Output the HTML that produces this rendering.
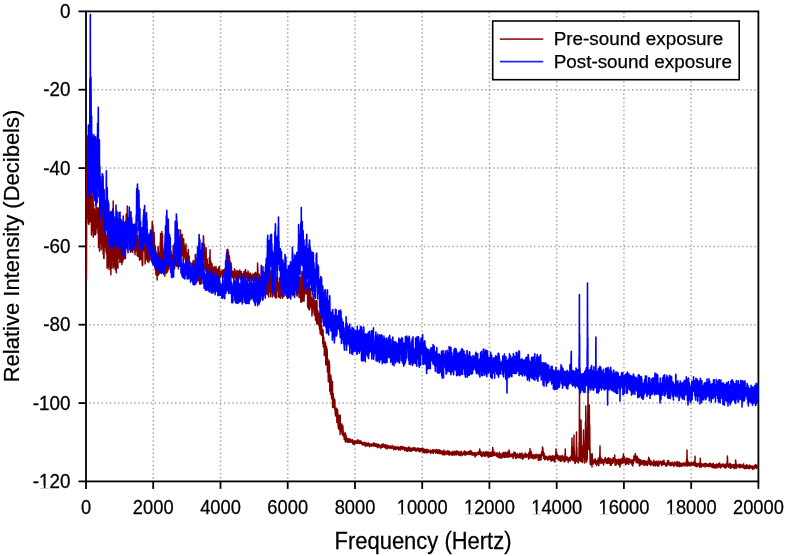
<!DOCTYPE html>
<html><head><meta charset="utf-8"><style>
html,body{margin:0;padding:0;background:#fff;}
svg{display:block;will-change:transform;}
text{font-family:"Liberation Sans",sans-serif;fill:#000;stroke:#000;stroke-width:0.25px;}
</style></head><body>
<svg width="785" height="556" viewBox="0 0 785 556">
<rect width="785" height="556" fill="#fff"/>
<g stroke="#a8a8a8" stroke-width="1.5" stroke-dasharray="1.5 2.58" stroke-dashoffset="0.75" fill="none">
<line x1="153.24" y1="481.4" x2="153.24" y2="11.4" stroke-dashoffset="1.2"/>
<line x1="220.48" y1="481.4" x2="220.48" y2="11.4" stroke-dashoffset="1.2"/>
<line x1="287.72" y1="481.4" x2="287.72" y2="11.4" stroke-dashoffset="1.2"/>
<line x1="354.96" y1="481.4" x2="354.96" y2="11.4" stroke-dashoffset="1.2"/>
<line x1="422.20" y1="481.4" x2="422.20" y2="11.4" stroke-dashoffset="1.2"/>
<line x1="489.44" y1="481.4" x2="489.44" y2="11.4" stroke-dashoffset="1.2"/>
<line x1="556.68" y1="481.4" x2="556.68" y2="11.4" stroke-dashoffset="1.2"/>
<line x1="623.92" y1="481.4" x2="623.92" y2="11.4" stroke-dashoffset="1.2"/>
<line x1="691.16" y1="481.4" x2="691.16" y2="11.4" stroke-dashoffset="1.2"/>
<line x1="86.0" y1="89.7" x2="758.4" y2="89.7"/>
<line x1="86.0" y1="168.1" x2="758.4" y2="168.1"/>
<line x1="86.0" y1="246.4" x2="758.4" y2="246.4"/>
<line x1="86.0" y1="324.7" x2="758.4" y2="324.7"/>
<line x1="86.0" y1="403.1" x2="758.4" y2="403.1"/>
</g>
<rect x="86.0" y="11.4" width="672.4" height="470.0" fill="none" stroke="#000" stroke-width="1.8"/>
<g stroke="#000" stroke-width="1.8">
<line x1="86.0" y1="481.4" x2="86.0" y2="488.9"/>
<line x1="153.2" y1="481.4" x2="153.2" y2="488.9"/>
<line x1="220.5" y1="481.4" x2="220.5" y2="488.9"/>
<line x1="287.7" y1="481.4" x2="287.7" y2="488.9"/>
<line x1="355.0" y1="481.4" x2="355.0" y2="488.9"/>
<line x1="422.2" y1="481.4" x2="422.2" y2="488.9"/>
<line x1="489.4" y1="481.4" x2="489.4" y2="488.9"/>
<line x1="556.7" y1="481.4" x2="556.7" y2="488.9"/>
<line x1="623.9" y1="481.4" x2="623.9" y2="488.9"/>
<line x1="691.2" y1="481.4" x2="691.2" y2="488.9"/>
<line x1="758.4" y1="481.4" x2="758.4" y2="488.9"/>
<line x1="78.5" y1="11.4" x2="86.0" y2="11.4"/>
<line x1="78.5" y1="89.7" x2="86.0" y2="89.7"/>
<line x1="78.5" y1="168.1" x2="86.0" y2="168.1"/>
<line x1="78.5" y1="246.4" x2="86.0" y2="246.4"/>
<line x1="78.5" y1="324.7" x2="86.0" y2="324.7"/>
<line x1="78.5" y1="403.1" x2="86.0" y2="403.1"/>
<line x1="78.5" y1="481.4" x2="86.0" y2="481.4"/>
</g>
<polyline fill="none" stroke="#800000" stroke-width="1.5" stroke-linejoin="round" points="86.40,280.8 86.58,246.7 86.76,166.2 86.94,165.2 87.12,195.4 87.30,218.6 87.40,136.0 87.66,161.0 87.84,172.6 88.02,183.9 88.20,209.1 88.38,223.3 88.56,206.4 88.74,218.3 88.92,224.6 89.10,212.4 89.28,187.4 89.46,207.0 89.64,207.1 89.82,221.9 90,165.6 90.18,161.7 90.40,157.0 90.54,158.7 90.72,220.8 90.90,196.6 91.08,194.3 91.26,185.2 91.44,235.1 91.62,203.1 91.80,230.9 91.98,223.9 92.16,225.4 92.34,203.2 92.52,196.6 92.70,224.5 92.88,228.5 93.06,193.1 93.24,237.3 93.42,229.7 93.60,204.2 93.78,234.3 93.96,232.4 94.14,218.5 94.32,226.8 94.50,208.9 94.68,232.2 94.86,234.8 95.04,217.6 95.22,221.4 95.40,218.3 95.58,234.7 95.76,224.5 95.94,232.9 96.12,200.6 96.30,229.3 96.48,218.4 96.66,220.6 96.84,209.8 97.02,212.3 97.20,224.1 97.38,220.0 97.56,224.2 97.74,207.8 97.92,233.2 98.10,230.3 98.28,210.0 98.46,240.5 98.64,247.5 98.82,241.7 99,234.5 99.18,208.1 99.36,229.3 99.54,251.2 99.72,224.5 99.90,204.2 100.08,214.0 100.26,219.1 100.44,221.0 100.62,243.2 100.80,220.7 100.98,241.4 101.16,213.6 101.34,249.8 101.52,246.5 101.70,219.7 101.88,196.6 102.06,233.8 102.24,218.8 102.50,173.9 102.60,239.7 102.78,239.6 102.96,228.4 103.14,253.9 103.32,208.3 103.50,240.4 103.68,258.2 103.86,238.1 104.04,258.6 104.22,236.9 104.40,237.4 104.58,235.4 104.76,231.2 104.94,247.0 105.12,228.5 105.30,243.3 105.48,236.4 105.66,236.5 105.84,235.3 106.02,251.8 106.20,236.4 106.38,237.1 106.56,253.9 106.74,243.5 106.92,235.7 107.10,268.2 107.28,245.6 107.46,232.5 107.64,241.5 107.82,243.4 108,237.9 108.18,231.7 108.36,266.7 108.54,248.3 108.72,241.3 108.90,256.5 109.08,269.4 109.26,239.6 109.44,264.5 109.62,245.7 109.80,261.5 109.98,249.9 110.16,240.6 110.34,238.1 110.52,240.2 110.70,266.0 110.88,274.8 111.06,245.2 111.24,268.1 111.42,265.9 111.60,240.4 111.78,251.0 111.96,253.7 112.14,260.2 112.32,234.5 112.50,244.4 112.68,210.0 112.86,208.5 113.04,268.2 113.20,201.0 113.40,248.8 113.58,260.1 113.76,227.9 113.94,266.7 114.12,255.6 114.30,228.5 114.48,240.5 114.66,259.6 114.84,238.9 115.02,252.8 115.20,269.5 115.38,240.3 115.56,255.9 115.74,242.7 115.92,250.0 116.10,262.7 116.28,272.8 116.46,231.2 116.64,267.5 116.82,256.5 117,242.4 117.18,266.6 117.36,241.5 117.54,228.2 117.72,243.1 117.90,268.2 118.08,239.6 118.26,246.5 118.44,235.4 118.62,257.9 118.80,246.9 118.98,243.4 119.16,243.0 119.34,250.5 119.52,255.9 119.70,238.4 119.88,262.4 120.06,239.7 120.24,261.9 120.42,240.4 120.60,256.5 120.78,253.3 120.96,241.4 121.14,259.7 121.32,258.8 121.50,245.0 121.68,260.3 121.86,264.4 122.04,239.7 122.22,256.9 122.40,249.8 122.58,231.6 122.76,261.7 122.94,235.2 123.12,251.6 123.30,234.9 123.48,246.5 123.66,255.6 123.84,258.8 124.02,259.1 124.20,231.1 124.38,255.5 124.56,248.4 124.74,237.3 124.92,248.4 125.10,244.8 125.28,253.2 125.46,258.4 125.64,231.8 125.82,230.6 126,233.2 126.18,214.2 126.36,243.8 126.54,246.6 126.72,226.7 126.90,213.6 127.08,233.5 127.30,206.0 127.44,218.8 127.62,223.7 127.80,237.6 127.98,221.2 128.16,237.3 128.34,218.1 128.52,231.1 128.70,235.3 128.88,233.7 129.06,223.6 129.24,243.0 129.42,219.4 129.60,230.8 129.78,243.9 129.96,243.4 130.14,232.7 130.32,242.2 130.50,252.2 130.68,250.4 130.86,236.7 131.04,246.8 131.22,234.9 131.40,235.5 131.58,251.1 131.76,241.0 131.94,233.9 132.12,241.2 132.30,236.1 132.48,233.7 132.66,252.5 132.84,248.2 133.02,243.8 133.20,233.5 133.38,242.8 133.56,244.2 133.74,249.1 133.92,242.7 134.10,238.5 134.28,241.8 134.46,240.4 134.64,233.6 134.82,246.2 135,254.8 135.18,250.2 135.36,245.7 135.54,251.6 135.72,240.2 135.90,248.6 136.08,248.9 136.26,247.7 136.44,236.4 136.62,235.0 136.80,235.6 136.98,227.4 137.16,255.5 137.34,246.0 137.52,237.2 137.70,244.7 137.88,235.7 138.06,256.4 138.24,251.8 138.42,251.3 138.60,249.4 138.78,239.9 138.96,255.9 139.14,245.1 139.32,254.0 139.50,259.9 139.68,244.6 139.86,259.0 140.04,259.3 140.22,250.1 140.40,237.7 140.58,259.6 140.76,236.8 140.94,254.8 141.12,244.7 141.30,243.1 141.48,250.6 141.66,252.5 141.84,245.1 142.02,259.1 142.20,263.4 142.38,265.8 142.56,251.4 142.74,265.1 142.92,242.1 143.10,241.8 143.28,247.8 143.46,250.0 143.64,250.7 143.82,242.1 144,248.4 144.18,244.6 144.36,248.5 144.54,250.5 144.72,247.7 144.90,245.3 145.08,263.9 145.26,254.2 145.44,257.0 145.62,260.4 145.80,260.6 145.98,255.2 146.16,240.8 146.34,259.0 146.52,242.2 146.70,255.4 146.88,243.1 147.06,242.6 147.24,243.8 147.42,257.0 147.60,250.2 147.78,261.7 147.96,241.5 148.14,260.8 148.32,252.4 148.50,259.0 148.68,244.8 148.86,262.2 149.04,250.7 149.22,248.1 149.40,249.4 149.58,259.7 149.76,248.2 149.94,260.1 150.12,244.0 150.30,247.8 150.48,234.7 150.66,233.4 150.84,254.9 151.02,236.8 151.20,236.9 151.38,242.7 151.56,230.5 151.74,242.4 151.92,234.8 152.10,227.0 152.20,221.5 152.28,222.8 152.46,226.9 152.64,248.3 152.82,252.2 153,226.1 153.18,245.7 153.36,253.3 153.54,235.1 153.72,238.0 153.90,251.0 154.08,232.3 154.26,238.5 154.44,254.0 154.62,244.8 154.80,262.1 154.98,252.2 155.16,268.2 155.34,246.0 155.52,270.4 155.70,253.2 155.88,274.8 156.06,252.9 156.24,263.8 156.42,263.6 156.60,255.9 156.78,265.7 156.96,255.1 157.14,279.9 157.32,256.6 157.50,258.4 157.68,258.7 157.86,267.7 158.04,246.5 158.22,248.3 158.40,275.1 158.58,270.1 158.76,269.2 158.94,273.9 159.12,252.3 159.30,270.0 159.48,257.9 159.66,262.6 159.84,273.3 160.02,270.2 160.20,242.5 160.38,255.4 160.56,233.6 160.74,255.3 160.92,249.3 161.10,264.3 161.28,262.7 161.50,233.5 161.64,257.4 161.82,231.5 162,241.4 162.18,237.4 162.36,260.2 162.54,233.9 162.72,253.5 162.90,251.1 163.08,256.5 163.26,254.1 163.44,259.9 163.62,258.0 163.80,267.0 163.98,266.1 164.16,263.8 164.34,273.5 164.52,248.3 164.70,268.1 164.88,276.3 165.06,254.3 165.24,268.9 165.42,256.5 165.60,271.6 165.78,257.7 165.96,255.7 166.14,269.9 166.32,273.3 166.50,265.2 166.68,270.6 166.86,254.9 167.04,258.2 167.22,252.5 167.40,269.5 167.58,271.9 167.76,261.5 167.94,253.8 168.12,255.4 168.30,255.0 168.48,265.6 168.66,269.6 168.84,255.9 169.02,260.4 169.20,266.4 169.38,256.7 169.56,258.5 169.74,261.1 169.92,255.2 170.10,257.5 170.28,255.7 170.46,256.1 170.64,270.8 170.82,265.9 171,251.4 171.18,255.5 171.36,260.6 171.54,268.5 171.72,255.8 171.90,266.6 172.08,260.1 172.26,255.0 172.44,260.2 172.62,262.6 172.80,266.8 172.98,262.4 173.16,245.6 173.34,265.8 173.52,260.9 173.70,266.0 173.88,266.8 174.06,250.8 174.24,268.8 174.42,264.7 174.60,268.9 174.78,250.3 174.96,266.0 175.14,265.8 175.32,260.5 175.50,256.9 175.68,251.8 175.86,249.6 176.04,261.4 176.22,264.7 176.40,247.5 176.58,266.3 176.76,256.9 176.94,254.5 177.12,263.6 177.30,254.5 177.48,266.1 177.66,248.8 177.84,248.9 178.02,252.2 178.20,252.8 178.38,269.0 178.56,258.8 178.74,260.6 178.92,248.4 179.10,260.4 179.28,247.3 179.46,256.5 179.64,246.3 179.82,242.0 180,254.5 180.18,251.5 180.36,255.8 180.50,230.0 180.72,254.0 180.90,238.0 181.08,236.3 181.26,257.2 181.44,236.9 181.62,242.2 181.80,238.5 181.98,247.2 182.16,234.2 182.34,255.3 182.52,246.7 182.70,247.2 182.88,253.4 183.06,252.5 183.24,260.3 183.42,248.2 183.60,238.8 183.78,243.8 183.96,243.5 184.14,247.3 184.32,254.9 184.50,252.0 184.68,251.9 184.86,258.2 185.04,246.2 185.22,259.7 185.40,260.0 185.58,253.7 185.76,265.5 185.94,244.0 186.12,251.2 186.30,270.2 186.48,269.8 186.66,258.1 186.84,264.4 187.02,253.0 187.20,257.4 187.38,265.7 187.56,265.9 187.74,268.2 187.92,273.2 188.10,267.6 188.28,249.6 188.46,275.2 188.64,270.9 188.82,275.7 189,259.3 189.18,255.9 189.36,272.4 189.54,267.2 189.72,273.2 189.90,273.9 190.08,262.2 190.26,268.4 190.44,269.4 190.62,274.8 190.80,278.0 190.98,270.1 191.16,273.3 191.34,277.0 191.52,273.2 191.70,278.8 191.88,273.6 192.06,263.2 192.24,268.5 192.42,275.8 192.60,269.5 192.78,279.1 192.96,275.7 193.14,260.6 193.32,272.3 193.50,280.7 193.68,266.2 193.86,261.2 194.04,269.3 194.22,273.6 194.40,277.6 194.58,283.2 194.76,267.3 194.94,274.2 195.12,276.8 195.30,254.4 195.48,281.6 195.66,264.8 195.84,262.5 196.02,262.5 196.20,278.1 196.38,267.9 196.56,270.3 196.74,282.2 196.92,279.8 197.10,275.5 197.28,257.1 197.46,261.5 197.64,280.2 197.82,270.2 198,263.4 198.18,273.9 198.36,280.2 198.54,264.0 198.72,272.8 198.90,273.2 199.08,278.2 199.26,282.1 199.44,265.0 199.62,282.5 199.80,284.2 199.98,276.9 200.16,284.3 200.34,271.0 200.52,275.0 200.70,264.5 200.88,263.9 201.06,281.1 201.24,283.8 201.42,258.2 201.60,273.8 201.78,257.9 201.96,270.5 202.14,261.8 202.32,263.5 202.50,264.4 202.68,243.1 202.86,251.1 203.04,250.1 203.22,247.6 203.40,235.8 203.60,238.4 203.76,253.3 203.94,259.8 204.12,248.1 204.30,267.8 204.48,244.6 204.66,269.1 204.84,266.5 205.02,261.1 205.20,271.3 205.38,263.6 205.56,256.3 205.74,253.2 205.92,270.5 206.10,247.7 206.28,258.7 206.46,262.7 206.64,266.7 206.82,266.5 207,279.0 207.18,258.9 207.36,269.7 207.54,278.6 207.72,275.8 207.90,266.3 208.08,264.8 208.26,272.0 208.44,271.3 208.62,268.4 208.80,268.1 208.98,278.8 209.16,266.8 209.34,257.6 209.52,261.2 209.70,258.4 209.88,260.9 210,249.8 210.24,266.1 210.42,268.1 210.60,273.7 210.78,261.1 210.96,268.2 211.14,266.3 211.32,275.2 211.50,267.5 211.68,273.4 211.86,266.4 212.04,263.8 212.22,270.7 212.40,272.5 212.58,274.5 212.76,275.3 212.94,268.6 213.12,268.8 213.30,278.0 213.48,267.9 213.66,274.9 213.84,271.5 214.02,272.4 214.20,266.5 214.38,273.4 214.56,270.2 214.74,267.8 214.92,273.5 215.10,268.4 215.28,271.8 215.46,272.4 215.64,275.1 215.82,275.9 216,266.5 216.18,274.8 216.36,272.2 216.54,272.5 216.72,269.0 216.90,273.4 217.08,274.6 217.26,270.3 217.44,270.7 217.62,276.0 217.80,277.8 217.98,269.9 218.16,273.4 218.34,268.6 218.52,274.6 218.70,277.9 218.88,267.1 219.06,274.6 219.24,270.2 219.42,266.5 219.60,277.9 219.78,275.5 219.96,270.9 220.14,277.4 220.32,275.1 220.50,273.7 220.68,272.2 220.86,272.4 221.04,272.0 221.22,274.0 221.40,274.7 221.58,271.4 221.76,271.9 221.94,274.8 222.12,270.1 222.30,277.4 222.48,275.3 222.66,276.1 222.84,271.3 223.02,270.8 223.20,270.5 223.38,276.4 223.56,275.0 223.74,269.7 223.92,276.9 224.10,275.9 224.28,277.9 224.46,273.3 224.64,271.1 224.82,270.8 225,268.7 225.18,272.3 225.36,269.4 225.54,272.5 225.72,267.2 225.90,268.0 226.08,270.4 226.26,261.3 226.44,253.9 226.62,263.4 226.80,261.7 226.98,252.6 227.16,255.9 227.34,255.6 227.52,251.4 227.70,250.9 227.80,249.2 228.06,255.9 228.24,255.7 228.42,251.8 228.60,264.6 228.78,262.4 228.96,257.1 229.14,255.9 229.32,255.7 229.50,257.7 229.68,260.7 229.86,261.1 230.04,269.0 230.22,268.1 230.40,263.2 230.58,262.2 230.76,266.8 230.94,264.3 231.12,263.3 231.30,269.2 231.48,266.5 231.66,275.0 231.84,272.3 232.02,277.5 232.20,271.1 232.38,276.0 232.56,276.8 232.74,277.7 232.92,272.3 233.10,272.0 233.28,273.7 233.46,277.3 233.64,271.4 233.82,279.1 234,272.5 234.18,277.6 234.36,277.9 234.54,268.8 234.72,271.4 234.90,273.1 235.08,270.5 235.26,275.2 235.44,272.7 235.62,274.3 235.80,274.0 235.98,279.3 236.16,275.0 236.34,278.8 236.52,278.2 236.70,279.0 236.88,270.5 237.06,279.4 237.24,274.7 237.42,275.1 237.60,278.0 237.78,274.3 237.96,271.1 238.14,274.4 238.32,276.7 238.50,277.1 238.68,280.1 238.86,272.1 239.04,273.8 239.22,272.0 239.40,276.7 239.58,276.1 239.76,270.0 239.94,274.7 240.12,276.7 240.30,277.0 240.48,279.0 240.66,272.7 240.84,275.8 241.02,277.3 241.20,271.6 241.38,280.2 241.56,277.5 241.74,274.2 241.92,274.9 242.10,278.8 242.28,273.7 242.46,276.7 242.64,274.5 242.82,278.6 243,276.9 243.18,276.9 243.36,277.3 243.54,273.2 243.72,278.7 243.90,272.1 244.08,271.2 244.26,271.3 244.44,275.8 244.62,281.2 244.80,280.3 244.98,273.3 245.16,280.4 245.34,276.9 245.60,269.6 245.70,280.2 245.88,279.0 246.06,272.2 246.24,274.4 246.42,272.8 246.60,273.2 246.78,277.5 246.96,274.7 247.14,274.4 247.32,273.5 247.50,276.0 247.68,281.0 247.86,281.2 248.04,271.1 248.22,281.2 248.40,273.0 248.58,279.1 248.76,281.1 248.94,273.5 249.12,278.5 249.30,277.4 249.48,277.1 249.66,275.1 249.84,279.1 250.02,275.9 250.20,275.3 250.38,272.9 250.56,275.4 250.74,275.8 250.92,275.8 251.10,276.0 251.28,278.3 251.46,275.2 251.64,279.8 251.82,280.0 252,278.5 252.18,280.3 252.36,279.8 252.54,279.4 252.72,274.1 252.90,276.8 253.08,279.9 253.26,280.7 253.44,281.2 253.62,276.5 253.80,281.7 253.98,276.4 254.16,275.7 254.34,273.8 254.52,274.9 254.70,274.2 254.88,279.5 255.06,281.4 255.24,272.4 255.42,281.0 255.60,272.5 255.78,280.4 255.96,273.2 256.14,275.1 256.32,275.9 256.50,281.5 256.68,279.7 256.86,275.3 257.04,279.0 257.22,280.3 257.40,275.5 257.58,263.0 257.70,265.8 257.94,272.0 258.12,273.7 258.30,274.5 258.48,281.6 258.66,280.9 258.84,277.9 259.02,277.2 259.20,274.3 259.38,280.4 259.56,278.1 259.74,275.9 259.92,284.3 260.10,276.5 260.28,278.9 260.46,287.4 260.64,280.9 260.82,288.1 261,288.5 261.18,292.7 261.36,287.6 261.54,288.6 261.72,277.5 261.90,296.1 262.08,277.0 262.26,289.6 262.44,285.9 262.62,288.5 262.80,276.2 262.98,266.5 263.16,278.4 263.34,282.2 263.52,276.5 263.70,285.4 263.88,272.1 264.06,272.6 264.24,274.5 264.42,284.1 264.60,287.8 264.78,278.9 264.96,272.6 265.14,281.6 265.32,294.7 265.50,285.8 265.68,274.0 265.86,266.1 266.04,293.9 266.22,272.6 266.40,276.9 266.58,285.3 266.76,265.9 266.94,274.5 267.12,279.9 267.30,272.5 267.48,285.2 267.66,294.5 267.84,283.1 268.02,279.7 268.20,293.2 268.38,272.8 268.56,295.0 268.74,297.1 268.92,266.6 269.10,288.2 269.28,285.1 269.46,288.4 269.64,285.4 269.82,288.7 270,291.9 270.18,272.5 270.36,278.1 270.54,286.3 270.72,296.8 270.90,289.3 271,270.6 271.26,292.3 271.44,284.0 271.62,287.4 271.80,279.8 271.98,285.5 272.16,288.6 272.34,283.8 272.52,297.0 272.70,292.8 272.88,285.9 273.06,275.4 273.24,278.1 273.42,289.9 273.60,281.3 273.78,284.4 273.96,275.4 274.14,269.6 274.32,292.2 274.50,279.8 274.68,296.4 274.86,296.2 275.04,268.3 275.22,280.3 275.40,291.9 275.58,276.2 275.76,297.9 275.94,288.1 276.12,278.7 276.30,298.0 276.48,295.7 276.66,297.2 276.84,283.5 277.02,278.8 277.20,290.2 277.38,276.8 277.56,284.3 277.74,285.8 277.92,284.3 278.10,291.1 278.28,290.1 278.46,283.0 278.64,297.0 278.82,285.3 279,294.4 279.18,297.3 279.36,293.4 279.54,277.8 279.72,292.5 279.90,293.0 280.08,286.3 280.26,283.2 280.44,298.2 280.62,291.2 280.80,271.8 280.98,285.2 281.16,291.1 281.34,295.5 281.52,278.5 281.70,277.8 281.88,295.0 282.06,286.4 282.24,288.8 282.42,298.3 282.60,278.3 282.78,289.2 282.96,277.3 283.14,281.5 283.32,293.0 283.50,288.5 283.68,296.7 283.86,280.8 284.04,288.4 284.22,293.3 284.40,292.7 284.58,276.8 284.76,274.2 284.94,290.3 285.12,287.3 285.30,281.2 285.48,290.7 285.66,280.7 285.84,292.8 286.02,281.6 286.20,295.3 286.38,282.6 286.56,282.2 286.74,295.3 286.92,297.5 287.10,291.4 287.28,290.4 287.46,290.7 287.64,281.2 287.82,283.8 288,278.4 288.18,287.8 288.36,285.4 288.54,279.1 288.72,294.4 288.90,296.8 289.08,297.5 289.26,283.4 289.44,273.6 289.62,284.7 289.80,285.0 289.98,297.1 290.16,295.2 290.34,286.8 290.52,292.4 290.70,290.7 290.88,286.1 291.06,285.8 291.24,281.9 291.42,283.7 291.60,279.7 291.78,276.5 291.96,290.3 292.14,287.8 292.32,287.0 292.50,290.5 292.68,294.4 292.86,295.8 293.04,295.4 293.22,294.9 293.40,289.1 293.58,277.7 293.76,280.7 293.94,273.3 294.12,282.6 294.30,287.1 294.48,279.1 294.66,284.3 294.84,280.9 295.02,288.3 295.20,289.9 295.38,290.1 295.56,276.7 295.74,279.7 295.92,284.7 296.10,294.4 296.28,292.9 296.46,290.2 296.64,283.9 296.82,290.3 297,293.6 297.18,276.5 297.36,282.5 297.54,293.5 297.72,278.3 297.90,284.9 298.08,287.9 298.26,276.5 298.44,276.5 298.62,281.6 298.80,282.0 298.98,294.4 299.16,297.6 299.34,290.2 299.52,297.5 299.70,282.1 299.88,282.1 300,276.3 300.24,278.7 300.42,278.0 300.60,288.9 300.78,302.0 300.96,283.9 301.14,302.2 301.32,301.7 301.50,300.3 301.68,295.7 301.86,271.4 302.04,301.7 302.22,287.1 302.40,281.0 302.58,288.5 302.76,300.3 302.94,272.1 303.12,280.6 303.30,289.8 303.48,279.7 303.66,294.6 303.84,301.1 304.02,301.3 304.20,296.6 304.38,291.2 304.56,284.2 304.74,292.1 304.92,287.6 305.10,285.4 305.28,279.5 305.46,289.4 305.64,281.4 305.82,284.8 306,294.2 306.18,293.3 306.36,283.3 306.54,291.7 306.72,282.9 306.90,289.8 307.08,287.4 307.26,286.3 307.44,282.1 307.62,306.6 307.80,288.2 307.98,294.0 308.16,308.2 308.34,287.2 308.52,299.8 308.70,286.0 308.88,308.4 309.06,307.2 309.24,309.9 309.42,292.4 309.60,306.9 309.78,309.4 309.96,300.4 310.14,288.7 310.32,307.2 310.50,293.8 310.68,288.8 310.86,300.6 311.04,301.5 311.22,297.2 311.40,302.7 311.58,300.0 311.76,298.3 311.94,316.1 312.12,308.1 312.30,312.6 312.48,308.0 312.66,303.3 312.84,301.8 313.02,299.8 313.20,294.1 313.38,294.9 313.56,303.0 313.74,307.5 313.92,298.5 314.10,314.2 314.28,309.7 314.46,300.8 314.64,302.6 314.82,315.7 315,301.5 315.18,314.6 315.36,303.9 315.54,320.3 315.72,305.7 315.90,300.4 316.08,303.0 316.26,320.4 316.44,308.3 316.62,321.3 316.80,324.1 316.98,300.9 317.16,312.2 317.34,319.8 317.52,311.3 317.70,320.8 317.88,310.7 318.06,311.5 318.24,321.4 318.42,324.7 318.60,314.4 318.78,318.7 318.96,325.6 319.14,313.3 319.32,324.0 319.50,329.2 319.68,318.7 319.86,320.4 320.04,329.1 320.22,333.8 320.40,320.4 320.58,330.0 320.76,314.5 320.94,323.4 321.12,327.3 321.30,331.2 321.48,335.4 321.66,325.6 321.84,331.3 322.02,332.0 322.20,332.8 322.38,331.7 322.56,329.6 322.74,343.6 322.92,330.2 323.10,330.1 323.28,346.9 323.46,338.4 323.64,341.2 323.82,337.3 324,346.3 324.18,342.8 324.36,355.8 324.54,351.7 324.72,354.3 324.90,345.6 325.08,341.7 325.26,352.7 325.44,348.1 325.62,343.6 325.80,364.9 325.98,362.0 326.16,349.5 326.34,348.3 326.52,346.5 326.70,357.6 326.88,355.6 327.06,348.9 327.24,353.0 327.42,371.7 327.60,371.6 327.78,372.2 327.96,359.0 328.14,369.3 328.32,381.8 328.50,379.6 328.68,375.8 328.86,370.7 329.04,367.0 329.22,360.9 329.40,376.1 329.58,363.9 329.76,391.0 329.94,380.8 330.12,378.7 330.25,375.3 330.37,387.2 330.50,384.0 330.62,394.6 330.75,380.9 330.87,375.3 331,384.1 331.12,379.4 331.25,384.5 331.37,378.9 331.50,387.4 331.62,398.7 331.75,389.0 331.87,391.1 332,385.2 332.12,395.7 332.25,392.3 332.37,381.7 332.50,381.6 332.62,407.5 332.75,393.6 332.87,397.2 333,394.9 333.12,407.0 333.25,393.6 333.37,399.4 333.50,400.9 333.62,399.4 333.75,397.5 333.87,400.6 334,407.6 334.12,399.8 334.25,401.3 334.37,403.2 334.50,408.7 334.62,407.2 334.75,407.4 334.87,399.8 335,410.6 335.12,407.2 335.25,413.1 335.37,414.8 335.50,410.0 335.62,416.0 335.75,409.7 335.87,416.0 336,415.0 336.12,408.6 336.25,410.1 336.37,412.4 336.50,410.8 336.62,410.0 336.75,408.3 336.87,422.5 337,415.2 337.12,409.8 337.25,409.4 337.37,417.4 337.50,419.4 337.62,410.0 337.75,417.4 337.87,412.9 338,418.6 338.12,423.9 338.25,428.1 338.37,422.3 338.50,419.0 338.62,415.5 338.75,420.7 338.87,420.2 339,429.6 339.12,423.9 339.25,417.1 339.37,421.6 339.50,419.6 339.62,423.2 339.75,416.6 339.87,422.3 340,415.2 340.12,434.4 340.25,415.2 340.37,431.2 340.50,430.4 340.62,431.2 340.75,423.6 340.87,428.4 341,425.1 341.12,427.3 341.25,428.2 341.37,427.0 341.50,427.1 341.62,426.7 341.75,430.2 341.87,424.1 342,434.1 342.12,425.5 342.25,427.3 342.37,430.1 342.50,433.3 342.62,428.3 342.75,435.4 342.87,425.8 343,428.6 343.12,433.4 343.25,434.9 343.37,435.8 343.50,432.3 343.62,431.7 343.75,433.5 343.87,433.0 344,437.5 344.12,437.1 344.25,439.4 344.37,437.7 344.50,436.9 344.62,436.2 344.75,436.4 344.87,434.8 345,436.8 345.12,438.1 345.25,433.1 345.37,442.0 345.50,433.6 345.62,434.9 345.75,441.7 345.87,437.3 346,440.2 346.12,438.2 346.25,435.9 346.37,437.6 346.50,438.0 346.62,439.0 346.75,441.4 346.87,439.6 347,440.1 347.12,439.1 347.25,439.6 347.37,442.3 347.50,442.0 347.62,439.9 347.75,441.7 347.87,438.4 348,439.0 348.12,440.1 348.25,441.1 348.37,439.5 348.50,440.7 348.62,438.8 348.75,442.3 348.87,442.0 349,441.3 349.12,440.4 349.25,440.0 349.37,440.4 349.50,439.1 349.62,442.0 349.75,442.1 349.87,440.6 350,439.1 350.12,442.3 350.25,440.2 350.37,440.6 350.50,442.0 350.62,441.5 350.75,442.1 350.87,440.1 351,441.5 351.12,440.8 351.25,441.1 351.37,440.2 351.50,441.4 351.62,441.7 351.75,440.8 351.87,440.9 352,442.4 352.12,442.1 352.25,439.6 352.37,440.6 352.50,441.9 352.62,441.7 352.75,442.5 352.87,441.1 353,444.1 353.12,443.0 353.25,442.7 353.37,443.2 353.50,442.4 353.62,441.6 353.75,441.3 353.87,442.2 354,440.5 354.12,441.4 354.25,444.4 354.37,441.5 354.50,443.7 354.62,442.0 354.75,441.5 354.87,442.3 355,442.0 355.12,442.2 355.25,442.3 355.37,442.5 355.50,441.7 355.62,442.3 355.75,440.9 355.87,442.0 356,443.3 356.12,442.1 356.25,443.4 356.37,443.5 356.50,440.9 356.62,442.7 356.75,442.8 356.87,442.9 357,442.4 357.12,440.2 357.25,442.8 357.37,442.5 357.50,441.3 357.62,441.7 357.75,443.3 357.87,441.5 358,439.8 358.12,440.1 358.25,442.9 358.37,441.5 358.50,441.3 358.62,441.8 358.75,442.1 358.87,441.9 359,441.4 359.12,442.7 359.25,443.4 359.37,442.1 359.50,441.0 359.62,443.0 359.75,441.0 359.87,443.3 360,441.4 360.12,443.4 360.25,443.4 360.37,442.8 360.50,443.2 360.62,442.7 360.75,441.1 360.87,442.3 361,443.0 361.12,441.0 361.25,442.4 361.37,443.4 361.50,443.4 361.62,443.5 361.75,442.6 361.87,442.8 362,444.5 362.12,443.4 362.25,443.0 362.37,442.6 362.50,444.0 362.62,443.3 362.75,442.7 362.87,442.6 363,445.1 363.12,443.1 363.25,443.9 363.37,444.3 363.50,442.8 363.62,444.5 363.75,444.1 363.87,443.3 364,443.3 364.12,444.4 364.25,444.1 364.37,444.0 364.50,444.8 364.62,443.1 364.75,445.1 364.87,442.2 365,445.1 365.12,444.4 365.25,444.0 365.37,443.8 365.50,446.4 365.62,443.4 365.75,443.6 365.87,445.5 366,443.5 366.12,445.0 366.25,443.8 366.37,443.3 366.50,444.0 366.62,443.0 366.75,444.6 366.87,443.6 367,444.1 367.12,444.5 367.25,444.0 367.37,445.9 367.50,443.5 367.62,445.6 367.75,444.9 367.87,443.7 368,444.7 368.12,443.8 368.25,444.6 368.37,444.9 368.50,442.9 368.62,443.6 368.75,444.4 368.87,444.7 369,445.4 369.12,446.2 369.25,445.3 369.37,445.1 369.50,443.8 369.62,446.8 369.75,445.6 369.87,444.8 370,445.5 370.12,444.7 370.25,445.3 370.37,444.4 370.50,445.0 370.62,444.2 370.75,444.2 370.87,445.8 371,444.0 371.12,444.9 371.25,445.9 371.37,444.9 371.50,446.2 371.62,444.5 371.75,445.4 371.87,444.6 372,444.6 372.12,445.5 372.25,444.2 372.37,443.9 372.50,444.1 372.62,445.2 372.75,444.4 372.87,445.0 373,446.0 373.12,443.8 373.25,443.9 373.37,444.6 373.50,446.0 373.62,443.1 373.75,444.2 373.87,444.4 374,444.9 374.12,443.7 374.25,444.6 374.37,444.0 374.50,444.9 374.62,445.1 374.75,443.3 374.87,444.0 375,446.2 375.12,444.3 375.25,444.4 375.37,445.4 375.50,445.4 375.62,444.3 375.75,446.2 375.87,445.4 376,443.9 376.12,444.8 376.25,445.2 376.37,445.1 376.50,445.1 376.62,443.9 376.75,444.3 376.87,446.5 377,445.6 377.12,446.3 377.25,445.1 377.37,447.7 377.50,447.4 377.62,446.3 377.75,445.3 377.87,444.2 378,447.0 378.12,445.7 378.25,444.2 378.37,446.0 378.50,446.4 378.62,445.4 378.75,447.0 378.87,445.8 379,446.3 379.12,445.3 379.25,446.8 379.37,445.5 379.50,446.6 379.62,445.8 379.75,444.7 379.87,446.6 380,445.4 380.12,445.8 380.25,447.1 380.37,447.8 380.50,448.2 380.62,447.5 380.75,448.0 380.87,447.8 381,446.4 381.12,446.6 381.25,446.3 381.37,446.1 381.50,445.7 381.62,446.8 381.75,444.5 381.87,445.1 382,446.1 382.12,446.4 382.25,446.8 382.37,447.2 382.50,447.2 382.62,447.1 382.75,446.3 382.87,445.3 383,445.4 383.12,443.8 383.25,446.5 383.37,445.4 383.50,445.0 383.62,446.2 383.75,446.7 383.87,446.4 384,445.9 384.12,446.4 384.25,446.3 384.37,445.0 384.50,446.2 384.62,446.2 384.75,447.3 384.87,444.7 385,445.7 385.12,447.1 385.25,446.8 385.37,448.1 385.50,448.0 385.62,444.5 385.75,445.1 385.87,447.7 386,446.2 386.12,445.6 386.25,445.6 386.37,446.3 386.50,446.4 386.62,448.6 386.75,445.8 386.87,445.7 387,445.9 387.12,448.9 387.25,447.1 387.37,445.3 387.50,445.7 387.62,446.3 387.75,446.1 387.87,445.8 388,446.3 388.12,447.1 388.25,446.2 388.37,446.9 388.50,447.4 388.62,447.5 388.75,446.0 388.87,447.7 389,447.1 389.12,448.5 389.25,447.9 389.37,447.0 389.50,446.2 389.62,446.8 389.75,447.2 389.87,447.3 390,446.8 390.12,447.6 390.25,446.3 390.37,447.0 390.50,446.0 390.62,446.0 390.75,446.8 390.87,448.3 391,446.8 391.12,447.9 391.25,447.9 391.37,447.5 391.50,446.2 391.62,446.6 391.75,448.4 391.87,447.4 392,447.3 392.12,447.3 392.25,447.1 392.37,447.0 392.50,445.5 392.62,447.4 392.75,447.4 392.87,446.8 393,446.7 393.12,447.2 393.25,448.3 393.37,447.6 393.50,447.9 393.62,448.5 393.75,449.7 393.87,447.4 394,447.6 394.12,447.6 394.25,448.1 394.37,448.4 394.50,447.7 394.62,448.5 394.75,446.2 394.87,447.0 395,448.6 395.12,448.1 395.25,447.0 395.37,449.6 395.50,447.9 395.62,449.3 395.75,447.5 395.87,447.8 396,447.8 396.12,448.3 396.25,447.7 396.37,448.3 396.50,448.4 396.62,449.1 396.75,447.9 396.87,447.0 397,446.6 397.12,448.4 397.25,447.2 397.37,448.1 397.50,448.1 397.62,448.2 397.75,447.9 397.87,447.4 398,449.2 398.12,449.0 398.25,448.5 398.37,447.7 398.50,448.3 398.62,447.1 398.75,448.7 398.87,450.1 399,449.0 399.12,448.4 399.25,448.7 399.37,448.8 399.50,447.9 399.62,449.2 399.75,448.2 399.87,449.1 400,447.7 400.12,448.9 400.25,448.4 400.37,446.6 400.50,447.1 400.62,448.2 400.75,450.0 400.87,447.7 401,448.2 401.12,447.1 401.25,448.1 401.37,447.9 401.50,447.9 401.62,447.7 401.75,447.7 401.87,446.7 402,446.5 402.12,448.9 402.25,448.0 402.37,447.5 402.50,446.9 402.62,448.1 402.75,448.8 402.87,449.2 403,448.6 403.12,448.9 403.25,448.3 403.37,447.1 403.50,446.9 403.62,448.8 403.75,448.2 403.87,447.8 404,447.2 404.12,449.0 404.25,448.9 404.37,448.3 404.50,449.3 404.62,450.6 404.75,447.8 404.87,450.2 405,448.0 405.12,449.9 405.25,449.2 405.37,448.0 405.50,448.9 405.62,449.2 405.75,449.5 405.87,448.0 406,448.7 406.12,449.8 406.25,450.7 406.37,451.0 406.50,447.8 406.62,448.9 406.75,449.3 406.87,448.8 407,449.0 407.12,448.4 407.25,448.3 407.37,448.9 407.50,451.2 407.62,449.2 407.75,448.9 407.87,449.8 408,450.5 408.12,448.2 408.25,448.4 408.37,450.6 408.50,447.0 408.62,449.2 408.75,448.8 408.87,448.1 409,448.2 409.12,450.0 409.25,450.9 409.37,450.7 409.50,448.4 409.62,449.7 409.75,450.3 409.87,448.6 410,447.6 410.12,449.5 410.25,450.6 410.37,449.8 410.50,450.5 410.62,450.8 410.75,449.5 410.87,449.7 411,451.4 411.12,450.4 411.25,448.6 411.37,451.0 411.50,448.4 411.62,449.8 411.75,449.1 411.87,448.9 412,448.6 412.12,450.0 412.25,449.9 412.37,449.8 412.50,450.6 412.62,450.4 412.75,449.5 412.87,447.9 413,448.4 413.12,448.7 413.25,448.6 413.37,447.5 413.50,450.1 413.62,448.6 413.75,449.3 413.87,448.8 414,448.7 414.12,449.8 414.25,448.5 414.37,450.1 414.50,449.6 414.62,449.3 414.75,448.9 414.87,449.4 415,450.6 415.12,447.8 415.25,448.4 415.37,450.7 415.50,450.0 415.62,449.2 415.75,450.4 415.87,449.6 416,450.1 416.12,451.2 416.25,449.1 416.37,450.8 416.50,449.9 416.62,449.0 416.75,450.2 416.87,448.5 417,450.1 417.12,448.6 417.25,449.9 417.37,449.9 417.50,449.7 417.62,449.3 417.75,449.2 417.87,448.1 418,450.7 418.12,450.4 418.25,449.9 418.37,450.1 418.50,450.3 418.62,448.5 418.75,449.9 418.87,448.7 419,450.1 419.12,451.2 419.25,449.5 419.37,449.8 419.50,450.8 419.62,451.8 419.75,448.6 419.87,448.5 420,450.8 420.12,449.2 420.25,449.1 420.37,450.3 420.50,451.6 420.62,450.0 420.75,450.9 420.87,448.6 421,450.8 421.12,449.6 421.25,450.4 421.37,449.7 421.50,449.3 421.62,449.9 421.75,449.6 421.87,448.4 422,448.6 422.12,448.7 422.25,450.0 422.37,451.2 422.50,451.5 422.62,448.0 422.75,450.6 422.87,452.3 423,451.7 423.12,449.7 423.25,452.3 423.37,451.0 423.50,448.9 423.62,450.2 423.75,449.7 423.87,449.2 424,450.0 424.12,450.9 424.25,450.2 424.37,452.8 424.50,451.7 424.62,451.4 424.75,449.8 424.87,449.4 425,452.6 425.12,449.2 425.25,451.0 425.37,450.0 425.50,451.9 425.62,451.9 425.75,452.3 425.87,450.4 426,452.4 426.12,450.6 426.25,449.8 426.37,450.2 426.50,450.2 426.62,452.9 426.75,450.3 426.87,449.3 427,450.4 427.12,450.4 427.25,451.7 427.37,451.0 427.50,451.6 427.62,450.1 427.75,452.5 427.87,452.5 428,449.7 428.12,449.8 428.25,450.0 428.37,450.8 428.50,450.5 428.62,451.5 428.75,452.1 428.87,450.7 429,451.5 429.12,451.1 429.25,451.3 429.37,451.7 429.50,451.6 429.62,452.2 429.75,450.7 429.87,451.1 430,450.7 430.12,450.7 430.25,450.4 430.37,451.6 430.50,451.7 430.62,450.3 430.75,453.5 430.87,452.5 431,450.5 431.12,451.4 431.25,451.7 431.37,450.9 431.50,451.2 431.62,450.8 431.75,451.7 431.87,452.3 432,450.7 432.12,452.5 432.25,450.2 432.37,452.2 432.50,450.7 432.62,449.7 432.75,451.2 432.87,450.7 433,451.6 433.12,452.3 433.25,453.4 433.37,451.5 433.50,451.8 433.62,451.1 433.75,451.8 433.87,449.7 434,451.7 434.12,450.7 434.25,451.4 434.37,450.9 434.50,451.4 434.62,451.8 434.75,450.8 434.87,451.0 435,450.8 435.12,451.0 435.25,450.0 435.37,450.7 435.50,451.4 435.62,453.2 435.75,452.4 435.87,451.4 436,451.5 436.12,452.4 436.25,451.9 436.37,451.4 436.50,450.8 436.62,449.6 436.75,452.3 436.87,452.3 437,451.5 437.12,451.4 437.25,452.9 437.37,449.9 437.50,451.3 437.62,451.6 437.75,451.6 437.87,453.4 438,451.3 438.12,452.4 438.25,450.7 438.37,452.4 438.50,452.6 438.62,451.8 438.75,452.4 438.87,453.3 439,449.7 439.12,453.2 439.25,452.1 439.37,450.6 439.50,453.0 439.62,450.3 439.75,449.9 439.87,450.0 440,453.7 440.12,451.9 440.25,453.6 440.37,452.4 440.50,453.6 440.62,452.5 440.75,451.5 440.87,452.2 441,450.7 441.12,450.7 441.25,452.4 441.37,451.9 441.50,451.9 441.62,451.9 441.75,451.6 441.87,452.6 442,452.5 442.12,454.1 442.25,452.4 442.37,452.3 442.50,454.7 442.62,451.6 442.75,453.2 442.87,451.4 443,453.6 443.12,454.8 443.25,453.7 443.37,451.9 443.50,450.9 443.62,450.2 443.75,452.3 443.87,452.2 444,453.0 444.12,453.9 444.25,452.7 444.37,453.8 444.50,451.8 444.62,454.1 444.75,454.9 444.87,453.1 445,451.0 445.12,452.8 445.25,452.3 445.37,452.6 445.50,451.8 445.62,453.7 445.75,453.1 445.87,453.6 446,453.2 446.12,453.0 446.25,453.1 446.37,452.4 446.50,452.8 446.62,452.1 446.75,454.5 446.87,452.9 447,452.6 447.12,451.2 447.25,450.8 447.37,451.9 447.50,453.1 447.62,452.9 447.75,452.9 447.87,453.6 448,454.1 448.12,452.9 448.25,453.3 448.37,453.8 448.50,452.9 448.62,453.0 448.75,450.9 448.87,455.1 449,452.5 449.12,453.4 449.25,454.7 449.37,454.1 449.50,455.1 449.62,454.9 449.75,451.6 449.87,453.1 450,452.4 450.12,453.5 450.25,453.7 450.37,453.0 450.50,452.8 450.62,453.5 450.75,452.7 450.87,453.4 451,454.3 451.12,452.9 451.25,454.2 451.37,453.0 451.50,455.0 451.62,452.3 451.75,454.5 451.87,452.2 452,452.6 452.12,453.0 452.25,455.1 452.37,451.5 452.50,454.4 452.62,453.7 452.75,453.1 452.87,451.6 453,452.6 453.12,455.1 453.25,452.4 453.37,454.0 453.50,452.5 453.62,453.6 453.75,451.9 453.87,453.7 454,453.8 454.12,452.7 454.25,452.5 454.37,453.7 454.50,452.0 454.62,454.1 454.75,455.1 454.87,451.2 455,453.1 455.12,451.6 455.25,452.3 455.37,451.8 455.50,452.8 455.62,452.6 455.75,451.5 455.87,453.4 456,453.8 456.12,453.0 456.25,454.9 456.37,452.3 456.50,452.1 456.62,451.0 456.75,453.6 456.87,453.3 457,454.3 457.12,453.5 457.25,453.3 457.37,452.3 457.50,453.9 457.62,453.7 457.75,453.0 457.87,451.3 458,452.4 458.12,452.8 458.25,453.4 458.37,451.9 458.50,454.9 458.62,452.1 458.75,452.0 458.87,453.6 459,453.2 459.12,452.0 459.25,454.1 459.37,454.9 459.50,454.6 459.62,452.5 459.75,455.2 459.87,452.3 460,453.6 460.12,454.8 460.25,452.9 460.37,452.4 460.50,455.7 460.62,452.0 460.75,452.7 460.87,453.7 461,451.7 461.12,454.4 461.25,451.2 461.37,453.4 461.50,452.2 461.62,453.5 461.75,453.1 461.87,454.3 462,452.9 462.12,453.3 462.25,454.8 462.37,455.5 462.50,454.5 462.62,454.5 462.75,453.5 462.87,454.2 463,453.7 463.12,454.4 463.25,454.0 463.37,454.2 463.50,452.0 463.62,452.8 463.75,451.8 463.87,452.3 464,453.0 464.12,454.3 464.25,452.7 464.37,453.5 464.50,451.1 464.62,454.5 464.75,454.9 464.87,453.3 465,453.8 465.12,454.0 465.25,452.1 465.37,454.1 465.50,453.4 465.62,455.0 465.75,452.1 465.87,451.7 466,452.1 466.12,453.5 466.25,454.5 466.37,454.7 466.50,452.2 466.62,452.4 466.75,453.3 466.87,453.2 467,453.7 467.12,454.5 467.25,452.7 467.37,452.3 467.50,453.6 467.62,452.3 467.75,452.2 467.87,451.9 468,454.1 468.12,453.3 468.25,453.2 468.37,452.3 468.50,452.4 468.62,453.0 468.75,453.6 468.87,452.6 469,451.6 469.12,454.4 469.25,453.8 469.37,451.7 469.50,452.5 469.62,452.3 469.75,453.4 469.87,452.1 470,454.5 470.12,453.5 470.25,450.4 470.37,454.2 470.50,452.7 470.62,454.1 470.75,453.2 470.87,453.5 471,453.9 471.12,453.7 471.25,451.1 471.37,452.3 471.50,454.4 471.62,452.7 471.75,453.3 471.87,453.1 472,453.8 472.12,455.3 472.25,452.3 472.37,453.5 472.50,454.9 472.62,454.6 472.75,454.8 472.87,454.6 473,454.6 473.12,452.7 473.25,452.7 473.37,453.2 473.50,454.8 473.62,454.9 473.75,454.4 473.87,454.5 474,453.3 474.12,453.7 474.25,454.0 474.37,453.8 474.50,452.7 474.62,455.5 474.75,453.2 474.87,453.7 475,456.9 475.12,454.3 475.25,453.7 475.37,456.4 475.50,455.5 475.62,452.8 475.75,455.7 475.87,453.0 476,454.7 476.12,453.2 476.25,453.6 476.37,455.2 476.50,453.7 476.62,453.9 476.75,454.4 476.87,454.9 477,454.5 477.12,453.8 477.25,452.6 477.37,453.5 477.50,453.9 477.62,453.5 477.75,453.7 477.87,453.7 478,453.7 478.12,453.4 478.25,453.9 478.37,454.0 478.50,451.8 478.62,454.6 478.75,452.1 478.87,454.5 479,452.8 479.12,452.0 479.25,453.1 479.37,451.8 479.50,452.5 479.70,449.0 479.87,454.1 480,451.4 480.12,453.0 480.25,451.2 480.37,452.5 480.50,455.3 480.62,454.3 480.75,452.9 480.87,454.4 481,451.5 481.12,454.3 481.25,453.5 481.37,454.2 481.50,454.2 481.62,456.7 481.75,456.5 481.87,452.7 482,453.6 482.12,454.9 482.25,455.4 482.37,455.9 482.50,453.5 482.62,455.8 482.75,455.4 482.87,453.9 483,454.8 483.12,454.8 483.25,455.8 483.37,452.2 483.50,453.6 483.62,451.7 483.75,452.3 483.87,454.0 484,453.4 484.12,455.8 484.25,454.5 484.37,454.8 484.50,455.7 484.62,453.7 484.75,453.6 484.87,452.4 485,456.4 485.12,454.3 485.25,455.2 485.37,454.4 485.50,452.1 485.62,455.7 485.75,454.5 485.87,452.8 486,453.6 486.12,453.8 486.25,454.9 486.37,455.7 486.50,453.0 486.62,454.0 486.75,454.7 486.87,451.6 487,453.1 487.12,454.1 487.25,454.2 487.37,453.5 487.50,452.5 487.62,452.7 487.75,455.9 487.87,454.7 488,456.9 488.12,455.0 488.25,452.8 488.37,453.0 488.50,453.9 488.62,451.9 488.75,457.2 488.87,455.3 489,456.3 489.12,454.2 489.25,455.4 489.37,454.3 489.50,454.7 489.62,453.4 489.75,454.1 489.87,453.1 490,456.1 490.12,452.2 490.25,453.9 490.37,455.1 490.50,454.1 490.62,456.5 490.75,454.7 490.87,452.9 491,452.6 491.12,456.2 491.25,453.7 491.37,454.3 491.50,455.0 491.62,455.6 491.75,456.2 491.87,452.9 492,456.0 492.12,453.4 492.25,450.9 492.37,451.4 492.50,455.9 492.70,447.6 492.87,453.8 493,455.1 493.12,449.8 493.25,454.1 493.37,452.7 493.50,453.2 493.62,454.6 493.75,454.8 493.87,455.6 494,454.0 494.12,453.6 494.25,455.5 494.37,454.8 494.50,454.4 494.62,455.2 494.75,452.0 494.87,453.1 495,453.9 495.12,453.4 495.25,455.1 495.37,454.3 495.50,454.3 495.62,453.9 495.75,454.4 495.87,454.3 496,455.5 496.12,455.5 496.25,455.4 496.37,456.1 496.50,455.2 496.62,455.7 496.75,452.8 496.87,456.2 497,456.5 497.12,453.3 497.25,454.8 497.37,453.2 497.50,453.8 497.62,456.1 497.75,454.8 497.87,454.7 498,455.3 498.12,456.5 498.25,457.1 498.37,457.4 498.50,454.2 498.62,454.8 498.75,455.7 498.87,455.7 499,455.7 499.12,455.3 499.25,452.2 499.37,454.7 499.50,456.1 499.62,454.2 499.75,455.5 499.87,456.0 500,458.3 500.12,456.5 500.25,457.0 500.37,453.8 500.50,454.6 500.62,454.4 500.75,456.7 500.87,454.5 501,455.1 501.12,455.7 501.25,456.0 501.37,454.6 501.50,455.3 501.62,458.1 501.75,454.6 501.87,454.7 502,457.1 502.12,455.2 502.25,453.8 502.37,453.0 502.50,454.1 502.62,456.9 502.75,454.7 502.87,456.0 503,456.9 503.12,455.3 503.25,456.7 503.37,456.3 503.50,453.8 503.62,452.4 503.75,453.2 503.87,453.1 504,456.4 504.12,457.2 504.25,455.0 504.37,454.8 504.50,454.7 504.62,457.4 504.75,452.9 504.87,454.7 505,456.5 505.12,452.2 505.25,454.9 505.37,454.6 505.50,453.8 505.62,457.2 505.75,455.5 505.87,453.0 506,455.6 506.12,453.3 506.25,453.0 506.37,455.4 506.50,455.6 506.62,453.9 506.75,456.0 506.87,454.6 507,454.5 507.12,455.0 507.25,457.2 507.37,456.8 507.50,451.9 507.62,454.8 507.75,452.4 507.87,454.4 508,452.6 508.12,456.9 508.25,453.4 508.37,455.3 508.50,453.2 508.62,453.9 508.75,453.9 508.87,457.2 509,450.0 509.12,456.1 509.25,452.3 509.37,452.1 509.50,451.2 509.62,454.2 509.75,456.4 509.87,454.0 510,454.2 510.12,455.4 510.25,454.8 510.37,455.1 510.50,454.6 510.62,455.6 510.75,455.6 510.87,454.7 511,456.8 511.12,455.7 511.25,455.7 511.37,454.3 511.50,456.5 511.62,455.7 511.75,455.8 511.87,456.4 512,455.3 512.12,455.9 512.25,453.9 512.37,454.9 512.50,454.1 512.62,455.5 512.75,455.2 512.87,455.2 513,454.3 513.12,458.5 513.25,456.3 513.37,455.1 513.50,454.3 513.62,456.4 513.75,456.9 513.87,456.0 514,452.1 514.12,455.9 514.25,453.9 514.37,455.3 514.50,453.3 514.62,454.5 514.75,455.5 514.87,453.9 515,453.8 515.12,454.2 515.25,452.6 515.37,455.8 515.50,454.9 515.62,458.6 515.75,456.3 515.87,454.4 516,453.9 516.12,457.6 516.25,454.2 516.37,455.0 516.50,455.2 516.62,457.4 516.75,457.5 516.87,458.0 517,457.7 517.12,455.1 517.25,456.6 517.37,453.7 517.50,454.4 517.62,454.7 517.75,456.8 517.87,456.8 518,457.0 518.12,456.7 518.25,456.1 518.37,456.6 518.50,456.6 518.62,455.2 518.75,455.1 518.87,457.7 519,457.7 519.12,454.4 519.25,456.3 519.37,454.9 519.50,454.0 519.62,456.6 519.75,453.3 519.87,455.5 520,457.3 520.12,453.7 520.25,453.8 520.37,456.2 520.50,458.1 520.62,456.6 520.75,455.8 520.87,455.7 521,454.6 521.12,454.1 521.25,454.9 521.37,455.9 521.50,455.8 521.62,456.3 521.75,455.5 521.87,455.7 522,452.9 522.12,455.6 522.25,458.7 522.37,455.9 522.50,459.2 522.62,454.5 522.75,457.6 522.87,455.3 523,455.3 523.12,457.0 523.25,454.8 523.37,457.6 523.50,457.3 523.62,458.3 523.75,456.3 523.87,455.3 524,454.7 524.12,455.9 524.25,456.4 524.37,455.1 524.50,455.2 524.62,456.7 524.75,456.2 524.87,455.5 525,454.4 525.12,453.0 525.25,456.5 525.37,457.3 525.50,455.9 525.62,456.0 525.75,454.9 525.87,455.9 526,457.1 526.12,457.1 526.25,454.5 526.37,454.0 526.50,457.1 526.62,456.6 526.75,456.1 526.87,455.8 527,454.9 527.12,455.3 527.25,455.9 527.37,454.6 527.50,456.6 527.62,456.6 527.75,456.8 527.87,456.1 528,456.8 528.12,454.5 528.25,456.5 528.37,457.2 528.50,456.6 528.62,459.1 528.75,456.2 528.87,452.8 529,453.3 529.12,452.3 529.25,452.7 529.37,453.6 529.50,458.0 529.62,454.8 529.75,455.7 529.87,454.5 530,448.5 530.12,458.0 530.25,455.2 530.37,452.9 530.50,452.5 530.62,454.8 530.75,453.3 530.87,451.6 531,453.9 531.12,451.3 531.25,453.4 531.37,452.4 531.50,454.4 531.62,456.3 531.75,458.0 531.87,455.5 532,457.7 532.12,454.8 532.25,454.7 532.37,457.2 532.50,456.3 532.62,457.8 532.75,455.5 532.87,456.8 533,455.3 533.12,457.5 533.25,458.9 533.37,455.3 533.50,455.8 533.62,457.4 533.75,455.9 533.87,455.8 534,457.2 534.12,454.6 534.25,457.9 534.37,455.1 534.50,455.0 534.62,457.2 534.75,455.9 534.87,457.0 535,457.6 535.12,457.3 535.25,457.4 535.37,455.8 535.50,456.6 535.62,458.4 535.75,455.0 535.87,455.4 536,458.1 536.12,454.3 536.25,457.9 536.37,457.7 536.50,454.9 536.62,456.1 536.75,455.1 536.87,457.1 537,454.5 537.12,455.3 537.25,456.4 537.37,457.0 537.50,455.7 537.62,456.1 537.75,456.5 537.87,456.6 538,456.5 538.12,457.1 538.25,458.1 538.37,460.2 538.50,456.7 538.62,460.4 538.75,454.5 538.87,456.4 539,456.0 539.12,460.3 539.25,457.5 539.37,457.9 539.50,459.6 539.62,459.0 539.75,457.1 539.87,457.1 540,454.5 540.12,455.1 540.25,455.1 540.37,459.7 540.50,456.9 540.62,457.9 540.75,455.7 540.87,457.9 541,456.0 541.12,459.8 541.25,455.4 541.37,455.3 541.50,455.0 541.62,451.7 541.75,451.7 541.87,455.0 542,453.9 542.12,454.4 542.25,453.6 542.37,454.8 542.50,447.0 542.62,449.9 542.75,454.6 542.87,447.9 543,455.9 543.12,454.6 543.25,454.8 543.37,451.5 543.50,458.2 543.62,454.1 543.75,456.5 543.87,454.9 544,455.6 544.12,453.2 544.25,456.4 544.37,455.5 544.50,455.5 544.62,459.8 544.75,456.3 544.87,458.9 545,457.4 545.12,458.0 545.25,457.8 545.37,456.8 545.50,457.9 545.62,459.5 545.75,458.1 545.87,456.2 546,456.1 546.12,458.6 546.25,457.5 546.37,456.7 546.50,458.8 546.62,457.2 546.75,458.8 546.87,457.2 547,458.4 547.12,457.2 547.25,458.9 547.37,458.6 547.50,458.4 547.62,456.9 547.75,457.3 547.87,460.2 548,459.3 548.12,458.2 548.25,459.0 548.37,459.6 548.50,459.3 548.62,458.6 548.75,457.2 548.87,456.0 549,457.7 549.12,458.6 549.25,459.4 549.37,456.6 549.50,458.8 549.62,459.1 549.75,456.7 549.87,457.4 550,457.4 550.12,455.9 550.25,457.7 550.37,458.3 550.50,458.4 550.62,456.2 550.75,457.5 550.87,459.7 551,461.2 551.12,457.8 551.25,457.3 551.37,459.4 551.50,456.6 551.62,460.4 551.75,458.1 551.87,457.3 552,459.7 552.12,459.8 552.25,456.1 552.37,458.8 552.50,457.8 552.62,458.3 552.75,460.4 552.87,455.6 553,460.0 553.12,458.7 553.25,459.0 553.37,458.0 553.50,458.3 553.62,460.7 553.75,457.2 553.87,457.4 554,459.3 554.12,459.7 554.25,460.6 554.37,460.9 554.50,458.7 554.62,455.9 554.75,459.0 554.87,462.1 555,459.0 555.12,459.0 555.25,458.5 555.37,456.3 555.50,455.9 555.62,456.1 555.75,455.5 555.87,453.2 556,449.0 556.12,453.3 556.25,455.8 556.37,457.0 556.50,451.8 556.62,456.6 556.75,458.7 556.87,457.1 557,457.2 557.12,458.5 557.25,457.0 557.37,454.7 557.50,457.4 557.62,457.0 557.75,459.1 557.87,457.2 558,457.3 558.12,458.4 558.25,456.5 558.37,459.8 558.50,460.0 558.62,458.7 558.75,458.8 558.87,455.8 559,460.3 559.12,457.8 559.25,458.4 559.37,457.5 559.50,458.6 559.62,458.2 559.75,457.5 559.87,457.2 560,459.0 560.12,457.2 560.25,458.8 560.37,461.5 560.50,456.1 560.62,459.8 560.75,459.8 560.87,460.0 561,459.7 561.12,461.2 561.25,458.6 561.37,457.8 561.50,458.6 561.62,460.1 561.75,458.0 561.87,458.7 562,456.6 562.12,455.9 562.25,458.7 562.37,455.3 562.50,455.5 562.62,458.2 562.75,460.3 562.87,456.4 563,460.4 563.12,459.4 563.25,458.6 563.37,459.6 563.50,459.2 563.62,460.6 563.75,457.0 563.87,459.6 564,458.7 564.12,458.0 564.25,461.9 564.37,460.1 564.50,458.6 564.62,458.8 564.75,458.1 564.87,458.6 565,453.9 565.12,454.9 565.30,449.0 565.50,458.4 565.62,461.0 565.75,458.9 565.87,457.4 566,459.0 566.12,459.9 566.25,457.5 566.37,459.2 566.50,456.9 566.62,459.0 566.75,459.0 566.87,459.1 567,457.6 567.12,457.0 567.25,458.9 567.37,457.6 567.50,459.9 567.62,458.7 567.75,457.4 567.87,460.3 568,460.3 568.12,461.1 568.25,462.5 568.37,460.1 568.50,458.7 568.62,460.6 568.75,460.3 568.87,460.3 569,459.1 569.12,459.9 569.25,459.3 569.37,457.7 569.50,459.4 569.62,458.5 569.75,458.9 569.87,459.8 570,458.6 570.12,456.9 570.25,460.9 570.37,459.2 570.50,458.7 570.62,460.9 570.75,457.9 570.87,459.2 571,458.6 571.12,458.0 571.25,458.9 571.37,456.0 571.50,454.9 571.62,452.8 571.75,446.3 571.87,450.6 572,438.0 572.12,444.2 572.25,450.8 572.37,448.6 572.50,448.8 572.62,459.9 572.75,457.4 572.87,458.8 573,459.3 573.12,460.6 573.25,457.0 573.37,457.8 573.50,447.3 573.62,447.8 573.75,448.6 573.87,451.3 574,435.0 574.12,449.4 574.25,450.4 574.37,450.9 574.50,461.7 574.62,460.8 574.75,459.9 574.87,462.6 575,459.0 575.12,463.4 575.25,459.9 575.37,463.3 575.50,460.1 575.62,461.2 575.75,457.1 575.87,461.1 576,455.2 576.12,457.6 576.25,452.9 576.37,443.0 576.50,432.0 576.62,450.5 576.75,461.1 576.87,447.4 577,460.9 577.12,461.1 577.25,461.8 577.37,459.2 577.50,460.8 577.62,458.9 577.75,457.6 577.87,460.4 578,460.1 578.12,461.9 578.25,463.0 578.37,460.9 578.50,458.6 578.62,460.6 578.75,459.6 578.87,460.6 579,454.9 579.12,442.5 579.25,455.2 579.37,414.4 579.50,388.7 579.62,423.9 579.75,441.2 579.87,429.3 580,447.2 580.12,460.1 580.25,457.0 580.37,461.6 580.50,448.1 580.62,445.7 580.75,448.8 580.87,433.0 581,420.0 581.12,428.7 581.25,448.9 581.37,445.6 581.50,453.4 581.62,458.4 581.75,461.8 581.87,458.1 582,461.5 582.12,456.6 582.25,460.5 582.37,458.0 582.50,462.6 582.62,460.6 582.75,455.5 582.87,458.0 583,445.4 583.12,447.4 583.25,444.4 583.37,440.2 583.50,430.0 583.62,438.5 583.75,451.5 583.87,451.3 584,444.0 584.12,451.9 584.25,452.8 584.37,460.2 584.50,462.4 584.62,461.7 584.75,463.1 584.87,460.9 585,459.0 585.12,452.9 585.25,440.9 585.37,441.2 585.50,421.7 585.62,438.2 585.80,406.0 586,430.6 586.12,431.9 586.25,431.0 586.37,441.1 586.50,456.3 586.62,461.9 586.75,461.2 586.87,457.7 587,460.2 587.12,457.2 587.25,459.4 587.37,443.4 587.50,430.2 587.62,425.1 587.75,412.8 587.87,422.1 588,386.5 588.12,403.2 588.25,427.0 588.37,422.1 588.50,428.1 588.62,449.3 588.75,430.6 588.87,443.8 589,429.0 589.12,435.2 589.30,405.0 589.50,432.3 589.62,424.0 589.75,428.3 589.87,453.1 590,448.1 590.12,461.8 590.25,464.5 590.37,462.0 590.50,464.8 590.62,461.6 590.75,460.2 590.87,463.4 591,460.4 591.12,462.1 591.25,460.7 591.37,463.0 591.50,457.5 591.62,454.1 591.75,460.8 591.87,454.7 592,467.0 592.12,453.7 592.25,455.4 592.37,458.7 592.50,460.2 592.62,461.7 592.75,460.0 592.87,461.7 593,462.4 593.12,463.6 593.25,461.5 593.37,461.0 593.50,460.3 593.62,464.0 593.75,460.9 593.87,461.7 594,462.4 594.12,460.3 594.25,460.8 594.37,461.3 594.50,460.0 594.62,461.8 594.75,461.3 594.87,458.9 595,460.9 595.12,461.0 595.25,458.7 595.37,460.0 595.50,462.8 595.62,464.0 595.75,461.7 595.87,462.7 596,463.5 596.12,460.8 596.25,462.3 596.37,462.7 596.50,461.3 596.62,465.6 596.75,462.1 596.87,463.6 597,461.6 597.12,464.1 597.25,462.4 597.37,461.7 597.50,460.2 597.62,461.3 597.75,460.3 597.87,460.2 598,461.1 598.12,459.4 598.25,462.8 598.37,458.3 598.50,459.8 598.62,463.5 598.75,465.6 598.87,465.6 599,457.7 599.12,460.8 599.25,463.3 599.37,462.1 599.50,459.6 599.62,455.6 599.75,455.3 599.87,453.7 600,446.0 600.12,461.4 600.25,455.8 600.37,461.8 600.50,457.0 600.62,460.2 600.75,460.7 600.87,461.3 601,463.4 601.12,460.5 601.25,458.5 601.37,461.6 601.50,462.0 601.62,459.9 601.75,461.4 601.87,461.6 602,460.0 602.12,461.7 602.25,462.7 602.37,463.0 602.50,459.3 602.62,461.7 602.75,460.5 602.87,462.3 603,461.3 603.12,462.5 603.25,462.8 603.37,460.0 603.50,461.4 603.62,464.9 603.75,463.3 603.87,462.9 604,460.3 604.12,461.7 604.25,460.1 604.37,461.6 604.50,462.2 604.62,459.6 604.75,458.9 604.87,459.3 605,459.2 605.12,458.8 605.25,457.6 605.37,459.3 605.50,460.4 605.62,458.3 605.75,461.6 605.87,460.6 606,459.1 606.12,460.0 606.25,463.2 606.37,460.6 606.50,460.4 606.62,459.7 606.75,462.3 606.87,461.7 607,461.9 607.12,461.9 607.25,461.1 607.37,461.7 607.50,459.0 607.62,462.5 607.75,463.6 607.87,459.5 608,460.0 608.12,463.1 608.25,457.8 608.37,460.1 608.50,461.2 608.62,463.1 608.75,459.8 608.87,461.2 609,460.6 609.12,459.7 609.25,460.1 609.37,458.2 609.50,461.3 609.62,463.6 609.75,460.4 609.87,462.9 610,460.8 610.12,460.3 610.25,460.1 610.37,465.2 610.50,462.4 610.62,461.0 610.75,458.8 610.87,461.4 611,461.0 611.12,460.9 611.25,465.2 611.37,460.8 611.50,461.3 611.62,462.9 611.75,459.8 611.87,460.7 612,461.0 612.12,460.7 612.25,461.4 612.37,461.1 612.50,463.3 612.62,461.5 612.75,459.5 612.87,459.4 613,461.2 613.12,457.8 613.25,461.4 613.37,462.8 613.50,459.7 613.62,459.9 613.75,458.4 613.87,458.2 614,458.7 614.12,460.4 614.25,460.9 614.37,458.2 614.50,458.4 614.62,459.3 614.70,455.0 614.87,460.8 615,458.9 615.12,464.8 615.25,465.3 615.37,460.8 615.50,459.2 615.62,462.7 615.75,461.7 615.87,461.3 616,461.6 616.12,461.5 616.25,460.9 616.37,459.8 616.50,464.7 616.62,462.3 616.75,463.4 616.87,461.1 617,460.8 617.12,461.5 617.25,461.3 617.37,459.8 617.50,462.6 617.62,461.7 617.75,462.7 617.87,461.7 618,463.1 618.12,462.0 618.25,461.4 618.37,462.4 618.50,464.4 618.62,461.2 618.75,460.8 618.87,459.0 619,460.7 619.12,463.0 619.25,462.4 619.37,461.7 619.50,461.9 619.62,466.1 619.75,461.9 619.87,461.3 620,467.0 620.12,462.1 620.25,462.0 620.37,461.2 620.50,459.4 620.62,464.5 620.75,461.9 620.87,462.1 621,461.3 621.12,458.7 621.25,463.0 621.37,463.3 621.50,462.0 621.62,461.8 621.75,460.0 621.87,463.5 622,462.1 622.12,461.6 622.25,460.0 622.37,460.0 622.50,460.3 622.62,458.2 622.75,462.9 622.87,457.2 623,459.2 623.12,456.3 623.25,459.1 623.40,454.0 623.50,459.7 623.62,460.0 623.75,456.9 623.87,462.7 624,461.5 624.12,456.2 624.25,460.2 624.37,462.1 624.50,458.9 624.62,458.7 624.75,459.0 624.87,460.2 625,458.6 625.12,459.9 625.25,461.1 625.37,463.6 625.50,461.9 625.62,464.7 625.75,460.8 625.87,460.1 626,463.5 626.12,459.7 626.25,464.1 626.37,463.1 626.50,461.3 626.62,463.0 626.75,462.2 626.87,457.9 627,463.4 627.12,463.3 627.25,461.5 627.37,459.5 627.50,461.2 627.62,462.2 627.75,460.4 627.87,459.0 628,458.8 628.12,462.4 628.25,461.6 628.37,462.3 628.50,462.5 628.62,464.5 628.75,462.5 628.87,458.5 629,460.3 629.12,461.8 629.25,459.8 629.37,460.1 629.50,462.5 629.62,460.3 629.75,460.4 629.87,461.8 630,462.4 630.12,459.6 630.25,459.9 630.37,461.2 630.50,460.6 630.62,461.9 630.75,461.6 630.87,462.9 631,461.8 631.12,463.1 631.25,462.1 631.37,462.1 631.50,460.9 631.62,463.1 631.75,464.1 631.87,462.5 632,459.5 632.12,461.1 632.25,463.9 632.37,462.0 632.50,465.4 632.62,462.2 632.75,466.0 632.87,461.2 633,463.1 633.12,461.3 633.25,461.9 633.37,463.4 633.50,462.1 633.62,459.6 633.75,460.8 633.87,456.1 634,461.3 634.12,459.4 634.25,459.2 634.37,459.3 634.50,459.5 634.62,458.6 634.75,457.9 634.87,456.0 635,459.9 635.12,459.2 635.30,453.4 635.50,457.9 635.62,460.1 635.75,459.1 635.87,460.4 636,458.3 636.12,462.4 636.25,457.7 636.37,456.3 636.50,458.4 636.62,456.7 636.75,459.4 636.87,459.9 637,458.8 637.12,456.2 637.25,462.7 637.37,460.1 637.50,459.9 637.62,459.7 637.75,458.1 637.87,460.5 638,458.9 638.12,462.6 638.25,462.5 638.37,460.3 638.50,463.1 638.62,458.6 638.75,460.0 638.87,463.1 639,463.7 639.12,460.3 639.25,464.5 639.37,462.1 639.50,465.9 639.62,464.1 639.75,459.5 639.87,462.7 640,462.5 640.12,462.9 640.25,462.5 640.37,460.5 640.50,461.0 640.62,465.0 640.75,460.0 640.87,461.8 641,464.2 641.12,462.0 641.25,461.7 641.37,460.5 641.50,461.5 641.62,462.5 641.75,464.0 641.87,460.9 642,463.1 642.12,462.8 642.25,462.3 642.37,463.4 642.50,461.1 642.62,462.6 642.75,463.1 642.87,463.6 643,464.4 643.12,460.6 643.25,463.2 643.37,461.3 643.50,461.6 643.62,462.7 643.75,463.2 643.87,462.1 644,461.9 644.12,465.5 644.25,461.8 644.37,460.6 644.50,462.7 644.62,461.6 644.75,462.4 644.87,463.7 645,462.5 645.12,463.1 645.25,461.9 645.37,462.1 645.50,462.5 645.62,462.8 645.75,464.9 645.87,463.8 646,460.9 646.12,461.8 646.25,462.8 646.37,464.4 646.50,463.2 646.62,463.8 646.75,464.9 646.87,464.3 647,462.8 647.12,463.3 647.25,464.0 647.37,465.5 647.50,461.4 647.62,462.9 647.75,462.7 647.87,463.0 648,463.7 648.12,459.8 648.25,461.0 648.37,459.8 648.50,462.1 648.62,460.0 648.70,457.3 648.87,462.4 649,464.1 649.12,463.2 649.25,463.8 649.37,458.8 649.50,463.2 649.62,462.5 649.75,464.4 649.87,461.8 650,463.2 650.12,460.3 650.25,463.3 650.37,461.6 650.50,465.4 650.62,462.7 650.75,462.5 650.87,463.6 651,462.5 651.12,464.6 651.25,462.1 651.37,463.7 651.50,462.9 651.62,461.3 651.75,464.6 651.87,464.4 652,464.1 652.12,464.6 652.25,462.7 652.37,462.7 652.50,464.5 652.62,464.1 652.75,462.6 652.87,464.1 653,464.5 653.12,463.5 653.25,465.4 653.37,465.8 653.50,463.7 653.62,463.0 653.75,465.4 653.87,460.2 654,463.5 654.12,464.2 654.25,463.1 654.37,462.4 654.50,464.2 654.62,465.1 654.75,463.1 654.87,465.0 655,462.7 655.12,464.5 655.25,462.1 655.37,466.0 655.50,462.1 655.62,464.0 655.75,462.7 655.87,463.3 656,465.4 656.12,463.2 656.25,464.8 656.37,463.7 656.50,461.3 656.62,462.5 656.75,463.3 656.87,463.1 657,463.8 657.12,463.1 657.25,463.2 657.37,462.8 657.50,464.4 657.62,463.6 657.75,466.3 657.87,465.3 658,462.6 658.12,462.7 658.25,461.1 658.37,461.4 658.50,463.1 658.62,463.9 658.75,462.0 658.87,465.7 659,464.2 659.12,464.1 659.25,464.1 659.37,463.2 659.50,463.3 659.62,462.8 659.75,462.1 659.87,463.0 660,463.2 660.12,461.3 660.25,462.4 660.37,462.3 660.50,463.6 660.62,462.0 660.75,461.9 660.87,461.3 661,461.6 661.12,463.8 661.25,462.7 661.37,463.8 661.50,465.6 661.62,464.6 661.75,464.0 661.87,464.0 662,463.8 662.12,461.9 662.25,461.7 662.37,462.6 662.50,465.0 662.62,464.1 662.75,464.7 662.87,463.1 663,462.9 663.12,460.7 663.25,463.4 663.37,463.0 663.50,461.4 663.62,462.0 663.75,464.2 663.87,463.4 664,460.2 664.12,463.9 664.25,464.1 664.37,462.5 664.50,463.2 664.62,464.3 664.75,463.3 664.87,463.0 665,463.0 665.12,463.1 665.25,463.7 665.37,464.4 665.50,463.5 665.62,465.9 665.75,463.4 665.87,464.7 666,463.7 666.12,464.7 666.25,463.5 666.37,465.0 666.50,466.1 666.62,464.6 666.75,463.2 666.87,463.5 667,464.2 667.12,465.3 667.25,462.1 667.37,465.1 667.50,464.0 667.62,460.7 667.75,461.8 667.87,462.2 668,462.2 668.12,463.0 668.25,463.7 668.37,463.0 668.50,462.0 668.62,460.5 668.75,462.7 668.87,463.9 669,464.7 669.12,464.3 669.25,463.3 669.37,462.7 669.50,464.5 669.62,465.2 669.75,463.8 669.87,464.4 670,463.2 670.12,465.4 670.25,463.2 670.37,462.8 670.50,463.9 670.62,465.3 670.75,465.8 670.87,464.5 671,463.8 671.12,465.6 671.25,463.0 671.37,464.0 671.50,462.8 671.62,464.0 671.75,464.1 671.87,465.1 672,465.1 672.12,462.0 672.25,464.3 672.37,463.4 672.50,464.7 672.62,464.3 672.75,463.1 672.87,463.5 673,464.5 673.12,464.7 673.25,463.2 673.37,465.1 673.50,465.8 673.62,463.7 673.75,463.2 673.87,464.2 674,466.6 674.12,463.2 674.25,463.8 674.37,463.1 674.50,463.4 674.62,462.1 674.75,463.6 674.87,463.3 675,464.7 675.12,462.8 675.25,464.4 675.37,462.8 675.50,463.6 675.62,462.8 675.75,463.9 675.87,462.8 676,464.0 676.12,465.5 676.25,464.6 676.37,463.6 676.50,463.7 676.62,462.7 676.75,464.5 676.87,465.0 677,461.5 677.12,466.5 677.25,464.0 677.37,464.5 677.50,463.0 677.62,462.5 677.75,463.6 677.87,463.2 678,462.0 678.12,466.0 678.25,464.1 678.37,464.4 678.50,463.7 678.62,462.6 678.75,464.6 678.87,464.0 679,464.6 679.12,463.8 679.25,464.3 679.37,462.2 679.50,466.8 679.62,463.8 679.75,463.6 679.87,465.6 680,465.8 680.12,463.5 680.25,463.6 680.37,463.3 680.50,464.9 680.62,464.8 680.75,463.9 680.87,463.2 681,463.8 681.12,464.7 681.25,466.5 681.37,465.1 681.50,464.7 681.62,465.5 681.75,465.6 681.87,464.7 682,465.5 682.12,465.4 682.25,463.2 682.37,464.8 682.50,465.3 682.62,465.7 682.75,464.5 682.87,465.9 683,463.9 683.12,464.0 683.25,463.7 683.37,464.1 683.50,465.1 683.62,465.1 683.75,463.6 683.87,462.7 684,463.7 684.12,462.9 684.25,464.0 684.37,464.2 684.50,463.6 684.62,465.7 684.75,463.4 684.87,465.2 685,465.0 685.12,464.7 685.25,465.2 685.37,463.5 685.50,465.8 685.62,464.2 685.75,465.9 685.87,463.0 686,463.2 686.12,461.8 686.25,465.5 686.37,462.5 686.50,463.8 686.62,459.4 686.75,463.0 686.87,460.8 687,450.0 687.12,461.9 687.25,458.1 687.37,459.0 687.50,462.6 687.62,466.1 687.75,463.9 687.87,464.8 688,463.7 688.12,464.4 688.25,464.6 688.37,464.1 688.50,463.7 688.62,461.9 688.75,465.0 688.87,464.1 689,465.4 689.12,463.9 689.25,465.0 689.37,464.3 689.50,464.9 689.62,465.1 689.75,463.3 689.87,464.7 690,462.9 690.12,466.0 690.25,463.8 690.37,463.5 690.50,465.6 690.62,464.8 690.75,462.9 690.87,463.9 691,464.8 691.12,462.7 691.25,464.5 691.37,464.7 691.50,462.6 691.62,463.6 691.75,463.2 691.87,463.8 692,463.1 692.12,463.8 692.25,463.9 692.37,463.8 692.50,465.4 692.62,465.1 692.75,464.0 692.87,464.7 693,465.1 693.12,464.7 693.25,465.0 693.37,461.9 693.50,464.2 693.62,463.5 693.75,463.5 693.87,464.8 694,464.7 694.12,463.9 694.25,463.7 694.37,465.3 694.50,464.1 694.62,465.8 694.75,462.0 694.87,464.2 695,456.3 695.12,465.3 695.25,462.6 695.37,462.6 695.50,462.7 695.62,462.7 695.75,464.7 695.87,465.3 696,466.6 696.12,466.4 696.25,463.3 696.37,465.2 696.50,464.1 696.62,464.0 696.75,465.3 696.87,465.2 697,465.2 697.12,466.8 697.25,464.1 697.37,465.6 697.50,464.9 697.62,464.0 697.75,464.5 697.87,463.5 698,463.8 698.12,465.2 698.25,464.1 698.37,463.3 698.50,465.5 698.62,464.0 698.75,464.5 698.87,464.1 699,463.8 699.12,465.0 699.25,465.9 699.37,466.4 699.50,465.7 699.62,463.6 699.75,467.4 699.87,463.6 700,462.5 700.12,462.8 700.30,458.2 700.50,465.1 700.62,462.7 700.75,465.8 700.87,466.3 701,464.8 701.12,465.6 701.25,465.8 701.37,467.0 701.50,465.0 701.62,464.6 701.75,465.5 701.87,463.7 702,464.5 702.12,465.5 702.25,464.0 702.37,465.7 702.50,464.7 702.62,465.4 702.75,464.4 702.87,466.4 703,465.7 703.12,464.2 703.25,466.1 703.37,464.8 703.50,464.8 703.62,465.5 703.75,464.9 703.87,463.9 704,464.5 704.12,464.1 704.25,463.9 704.37,463.7 704.50,465.7 704.62,465.5 704.75,463.9 704.87,466.1 705,464.9 705.12,467.1 705.25,464.0 705.37,463.3 705.50,465.0 705.62,464.6 705.75,465.2 705.87,464.4 706,465.6 706.12,464.3 706.25,463.7 706.37,464.5 706.50,463.6 706.62,465.3 706.75,466.1 706.87,464.2 707,466.5 707.12,464.7 707.25,465.1 707.37,466.1 707.50,465.8 707.62,465.8 707.75,466.2 707.87,465.3 708,464.8 708.12,465.8 708.25,464.3 708.37,464.1 708.50,464.0 708.62,464.9 708.75,465.1 708.87,466.7 709,466.6 709.12,466.1 709.25,466.4 709.37,466.4 709.50,464.1 709.62,464.5 709.75,463.3 709.87,466.1 710,466.0 710.12,464.5 710.25,464.8 710.37,465.8 710.50,463.6 710.62,463.7 710.75,466.1 710.87,464.8 711,464.4 711.12,465.6 711.25,466.8 711.37,465.9 711.50,465.0 711.62,464.2 711.75,467.1 711.87,465.1 712,464.8 712.12,465.2 712.25,464.8 712.37,464.3 712.50,464.9 712.62,464.1 712.75,467.4 712.87,465.4 713,464.2 713.12,463.2 713.25,464.8 713.37,466.3 713.50,465.8 713.62,466.0 713.75,466.7 713.87,465.1 714,466.6 714.12,468.1 714.25,465.0 714.37,465.8 714.50,466.5 714.62,465.7 714.75,465.2 714.87,464.8 715,464.9 715.12,465.3 715.25,467.3 715.37,465.0 715.50,466.7 715.62,467.3 715.75,465.9 715.87,468.0 716,466.8 716.12,465.3 716.25,466.5 716.37,463.9 716.50,468.0 716.62,466.6 716.75,467.2 716.87,466.2 717,466.5 717.12,465.5 717.25,465.1 717.37,465.9 717.50,465.3 717.62,465.0 717.75,465.0 717.87,464.2 718,465.0 718.12,467.4 718.25,465.3 718.37,466.9 718.50,466.0 718.62,463.5 718.75,467.0 718.87,464.6 719,464.5 719.12,465.2 719.25,466.8 719.37,465.8 719.50,464.6 719.62,466.2 719.75,463.1 719.87,466.5 720,466.8 720.12,464.7 720.25,467.1 720.37,465.4 720.50,467.9 720.62,466.5 720.75,464.7 720.87,464.8 721,466.8 721.12,466.7 721.25,466.5 721.37,466.9 721.50,466.4 721.62,465.3 721.75,465.8 721.87,465.8 722,465.9 722.12,466.2 722.25,465.6 722.37,464.3 722.50,466.6 722.62,464.2 722.75,464.3 722.87,464.8 723,463.8 723.12,465.0 723.25,465.5 723.37,464.6 723.50,466.4 723.62,465.0 723.75,464.4 723.87,466.1 724,466.4 724.12,466.1 724.25,465.0 724.37,467.6 724.50,465.3 724.62,465.1 724.75,465.8 724.87,465.6 725,466.1 725.12,464.9 725.25,466.8 725.37,465.1 725.50,466.2 725.62,468.1 725.75,464.1 725.87,465.9 726,465.0 726.12,467.3 726.25,465.8 726.37,466.1 726.50,467.3 726.62,464.9 726.75,466.5 726.87,466.2 727,464.1 727.12,461.8 727.25,465.1 727.40,456.0 727.50,459.1 727.62,460.5 727.75,464.2 727.87,464.1 728,465.7 728.12,464.1 728.25,464.6 728.37,465.2 728.50,467.3 728.62,465.7 728.75,465.9 728.87,465.7 729,465.0 729.12,467.0 729.25,466.4 729.37,466.1 729.50,466.2 729.62,465.2 729.75,465.5 729.87,463.2 730,465.8 730.12,464.9 730.25,465.4 730.37,468.2 730.50,466.8 730.62,464.1 730.75,466.2 730.87,464.5 731,468.2 731.12,466.6 731.25,465.3 731.37,467.7 731.50,464.6 731.62,465.8 731.75,467.0 731.87,466.5 732,464.7 732.12,466.6 732.25,466.4 732.37,464.9 732.50,466.0 732.62,466.9 732.75,465.4 732.87,465.2 733,465.2 733.12,465.6 733.25,466.0 733.37,466.7 733.50,465.5 733.62,464.6 733.75,466.6 733.87,468.3 734,467.5 734.12,465.4 734.25,465.1 734.37,466.2 734.50,466.6 734.62,465.4 734.75,468.6 734.87,467.9 735,465.9 735.12,464.7 735.25,466.5 735.37,464.0 735.50,465.1 735.60,460.0 735.75,466.1 735.87,461.8 736,465.2 736.12,463.8 736.25,467.1 736.37,468.2 736.50,466.0 736.62,465.6 736.75,464.4 736.87,466.9 737,467.0 737.12,466.0 737.25,465.3 737.37,466.6 737.50,465.7 737.62,465.6 737.75,466.4 737.87,466.2 738,466.1 738.12,466.8 738.25,465.7 738.37,465.4 738.50,465.7 738.62,466.4 738.75,466.2 738.87,466.2 739,464.2 739.12,467.1 739.25,467.5 739.37,465.8 739.50,465.3 739.62,465.4 739.75,468.0 739.87,466.8 740,465.7 740.12,464.5 740.25,466.5 740.37,465.7 740.50,465.2 740.62,466.4 740.75,465.7 740.87,464.6 741,467.1 741.12,467.3 741.25,467.1 741.37,466.4 741.50,465.6 741.62,465.8 741.75,466.0 741.87,466.0 742,466.9 742.12,466.9 742.25,466.2 742.37,466.0 742.50,465.1 742.62,465.9 742.75,466.7 742.87,466.4 743,467.6 743.12,466.4 743.25,466.9 743.37,465.7 743.50,466.6 743.62,463.8 743.75,468.0 743.87,468.1 744,465.7 744.12,466.8 744.25,467.1 744.37,467.8 744.50,466.2 744.62,466.3 744.75,468.8 744.87,466.2 745,466.2 745.12,468.0 745.25,466.4 745.37,465.7 745.50,465.9 745.62,466.5 745.75,466.6 745.87,465.6 746,467.6 746.12,466.6 746.25,465.1 746.37,468.6 746.50,465.7 746.62,466.3 746.75,467.6 746.87,468.1 747,464.8 747.12,467.3 747.25,468.3 747.37,466.8 747.50,466.2 747.62,466.0 747.75,466.6 747.87,466.6 748,467.8 748.12,466.2 748.25,466.8 748.37,466.8 748.50,466.6 748.62,466.0 748.75,468.5 748.87,466.0 749,466.3 749.12,465.7 749.25,468.7 749.37,465.6 749.50,464.9 749.62,468.8 749.75,467.4 749.87,465.7 750,465.6 750.12,465.7 750.25,466.6 750.37,466.7 750.50,466.3 750.62,467.8 750.75,467.3 750.87,467.8 751,466.8 751.12,467.3 751.25,466.9 751.37,468.0 751.50,466.3 751.62,467.4 751.75,468.2 751.87,468.2 752,465.9 752.12,465.8 752.25,467.0 752.37,467.0 752.50,467.2 752.62,467.2 752.75,469.5 752.87,467.0 753,467.4 753.12,466.7 753.25,467.8 753.37,467.7 753.50,466.4 753.62,466.7 753.75,468.2 753.87,466.9 754,468.0 754.12,468.7 754.25,465.8 754.37,467.5 754.50,465.9 754.62,465.6 754.75,467.9 754.87,466.3 755,465.4 755.12,467.0 755.25,466.7 755.37,465.7 755.50,464.4 755.62,467.4 755.75,467.6 755.87,467.3 756,466.8 756.12,467.3 756.25,467.4 756.37,468.2 756.50,467.7 756.62,465.8 756.75,467.5 756.87,465.3 757,465.7 757.12,466.8 757.25,467.3 757.37,466.5 757.50,467.8 757.62,465.8 757.75,466.2 757.87,465.8 758,466.6"/>
<polyline fill="none" stroke="#0000ff" stroke-width="1.6" stroke-linejoin="round" points="88,161.3 88.12,163.0 88.25,143.3 88.40,125.0 88.50,196.5 88.62,132.4 88.75,131.5 88.88,170.2 89,142.2 89.12,137.8 89.25,156.5 89.38,179.4 89.50,183.1 89.62,189.3 89.75,162.2 89.88,78.8 90,166.5 90.12,194.7 90.30,14.5 90.50,162.4 90.62,178.6 90.75,178.4 90.95,77.0 91.12,105.2 91.25,138.5 91.38,124.4 91.50,164.7 91.60,116.0 91.75,191.1 91.88,137.6 92,133.9 92.12,144.0 92.25,153.2 92.38,140.4 92.50,149.3 92.62,192.2 92.80,137.0 93,188.2 93.12,167.5 93.25,168.2 93.38,176.0 93.50,196.3 93.62,162.8 93.75,178.9 93.88,134.8 94,152.9 94.12,183.0 94.25,149.1 94.38,155.9 94.50,188.2 94.60,140.0 94.75,200.4 94.88,198.8 95,163.8 95.12,152.6 95.25,172.5 95.38,136.8 95.50,139.4 95.62,165.2 95.75,205.2 95.88,166.0 96,169.8 96.12,159.0 96.25,191.6 96.38,185.6 96.50,163.2 96.60,140.0 96.75,145.6 96.88,180.8 97,180.2 97.12,202.8 97.25,135.7 97.38,141.6 97.50,145.5 97.62,123.3 97.75,163.3 97.88,170.4 98,135.8 98.12,133.2 98.30,107.2 98.50,184.6 98.62,178.0 98.75,159.3 98.88,197.0 99,177.5 99.12,157.3 99.25,149.6 99.38,139.7 99.50,164.3 99.62,164.5 99.75,215.7 99.88,166.8 100,190.8 100.12,189.9 100.25,186.7 100.38,176.7 100.50,193.3 100.60,177.0 100.75,204.8 100.88,210.5 101,220.7 101.12,218.6 101.25,193.2 101.38,193.7 101.50,216.9 101.62,189.9 101.75,202.7 101.88,200.0 102,199.1 102.12,207.3 102.25,186.7 102.38,173.7 102.50,180.2 102.62,187.6 102.75,185.8 102.88,206.7 103,176.0 103.12,186.5 103.25,190.9 103.38,207.0 103.50,214.1 103.62,192.4 103.75,189.4 103.88,206.7 104,210.4 104.12,189.8 104.25,201.4 104.38,208.4 104.50,220.3 104.62,231.5 104.75,207.2 104.88,228.5 105,208.0 105.12,201.0 105.25,209.3 105.38,214.4 105.50,235.2 105.62,216.3 105.75,212.7 105.88,224.1 106,206.2 106.12,214.0 106.25,183.4 106.40,170.7 106.50,223.7 106.62,227.6 106.75,229.9 106.88,223.5 107,221.9 107.12,192.7 107.25,187.7 107.38,207.4 107.50,205.5 107.62,232.2 107.75,229.5 107.88,219.6 108,200.0 108.12,220.2 108.25,227.5 108.38,202.3 108.50,234.4 108.62,225.6 108.75,203.5 108.88,213.8 109,232.9 109.12,244.3 109.25,228.6 109.38,232.7 109.50,215.1 109.62,213.7 109.75,227.5 109.88,229.4 110,229.0 110.12,246.0 110.25,247.5 110.38,229.6 110.50,212.0 110.62,237.9 110.75,231.8 110.88,212.5 111,228.0 111.12,211.6 111.25,224.7 111.38,222.9 111.50,215.1 111.62,217.6 111.75,243.0 111.88,214.3 112,212.0 112.12,240.7 112.25,246.9 112.38,226.8 112.50,232.7 112.62,238.0 112.75,247.8 112.88,218.1 113,210.0 113.12,217.2 113.25,210.8 113.38,211.8 113.50,216.7 113.62,219.2 113.75,216.6 113.88,245.6 114,239.7 114.12,244.6 114.25,236.9 114.38,236.0 114.50,217.3 114.62,244.5 114.75,235.7 114.88,235.4 115,231.7 115.12,245.8 115.25,234.7 115.38,224.9 115.50,223.0 115.62,246.1 115.75,231.7 115.88,224.0 116,205.0 116.12,215.9 116.25,222.6 116.38,224.0 116.50,235.1 116.62,220.6 116.75,222.3 116.88,243.4 117,211.6 117.12,214.3 117.25,242.2 117.38,222.4 117.50,222.5 117.62,244.7 117.75,225.0 117.88,219.0 118,233.3 118.12,225.6 118.25,231.9 118.38,249.2 118.50,234.8 118.62,242.1 118.75,241.4 118.88,246.6 119,212.8 119.12,234.0 119.25,229.8 119.38,227.2 119.50,215.7 119.62,216.2 119.75,235.6 119.88,218.3 120,212.0 120.12,242.7 120.25,243.5 120.38,228.2 120.50,246.6 120.62,228.3 120.75,232.0 120.88,237.5 121,244.4 121.12,219.5 121.25,243.8 121.38,240.2 121.50,223.5 121.62,233.6 121.75,221.9 121.88,255.1 122,235.4 122.12,240.3 122.25,232.9 122.38,248.2 122.50,245.7 122.62,236.5 122.75,226.6 122.88,250.0 123,247.8 123.12,245.1 123.25,216.1 123.38,227.9 123.50,250.9 123.62,240.6 123.75,235.3 123.88,230.6 124,257.0 124.12,239.3 124.25,227.5 124.38,238.9 124.50,231.7 124.62,247.4 124.75,222.4 124.88,239.1 125,250.4 125.12,227.1 125.25,247.2 125.38,227.4 125.50,244.4 125.62,222.0 125.75,229.8 125.88,221.3 126,228.2 126.12,234.6 126.25,237.2 126.38,241.3 126.50,225.8 126.62,247.9 126.75,235.2 126.88,238.3 127,229.5 127.12,231.2 127.25,229.0 127.38,249.8 127.50,236.3 127.62,238.1 127.75,217.5 127.88,243.0 128,252.7 128.12,224.5 128.25,228.5 128.38,238.2 128.50,226.7 128.62,226.3 128.75,218.9 128.88,226.4 129,240.6 129.12,218.0 129.30,207.0 129.50,240.3 129.62,226.2 129.75,249.6 129.88,229.7 130,214.3 130.12,236.8 130.25,244.6 130.38,220.6 130.50,219.4 130.62,217.2 130.75,240.3 130.88,230.1 131,211.7 131.12,243.7 131.25,244.2 131.38,224.5 131.50,249.7 131.62,217.8 131.75,235.5 131.88,232.8 132,222.4 132.12,244.6 132.25,229.7 132.38,239.9 132.50,248.3 132.62,241.6 132.75,245.9 132.88,233.7 133,239.8 133.12,240.6 133.25,235.3 133.38,224.8 133.50,233.4 133.62,247.0 133.75,230.9 133.88,248.1 134,250.0 134.12,236.4 134.25,239.0 134.38,224.1 134.50,246.5 134.62,235.2 134.75,234.8 134.88,247.9 135,235.1 135.12,232.1 135.25,245.8 135.38,233.0 135.50,228.8 135.62,245.5 135.75,241.1 135.88,224.0 136,226.3 136.12,220.1 136.25,215.1 136.38,217.3 136.50,232.3 136.62,195.6 136.75,188.6 136.88,218.2 137,200.6 137.12,212.5 137.25,191.2 137.38,188.2 137.50,184.0 137.62,193.5 137.75,196.6 137.88,202.6 138,214.8 138.12,220.7 138.25,195.8 138.38,230.3 138.50,216.5 138.62,207.3 138.75,190.3 138.88,223.7 139,193.5 139.12,220.5 139.25,241.6 139.38,223.2 139.50,228.9 139.62,208.1 139.75,233.5 139.88,209.2 140,232.2 140.12,229.9 140.25,231.4 140.38,247.2 140.50,226.2 140.62,221.5 140.75,249.7 140.88,238.2 141,230.1 141.12,247.6 141.25,245.7 141.38,248.1 141.50,228.1 141.62,250.0 141.75,238.1 141.88,246.6 142,246.9 142.12,237.9 142.25,247.4 142.38,236.2 142.50,232.7 142.62,249.2 142.75,227.2 142.88,247.8 143,231.0 143.12,242.3 143.25,218.5 143.38,232.4 143.50,215.7 143.62,214.2 143.75,235.1 143.88,209.6 144,245.0 144.12,224.1 144.25,238.3 144.38,240.7 144.50,214.3 144.60,205.5 144.75,213.8 144.88,224.2 145,231.3 145.12,220.6 145.25,217.5 145.38,215.5 145.50,231.9 145.62,243.4 145.75,242.7 145.88,224.6 146,221.1 146.12,218.0 146.25,220.2 146.38,219.8 146.50,212.7 146.62,244.1 146.75,219.6 146.88,236.9 147,220.7 147.12,241.7 147.25,228.8 147.38,247.2 147.50,242.5 147.62,243.4 147.75,234.1 147.88,233.4 148,247.7 148.12,254.1 148.25,238.8 148.38,235.3 148.50,241.4 148.62,245.0 148.75,243.1 148.88,239.8 149,247.3 149.12,250.5 149.25,249.5 149.38,248.1 149.50,251.2 149.62,249.3 149.75,249.3 149.88,233.8 150,238.9 150.12,233.1 150.25,234.9 150.38,251.6 150.50,230.0 150.62,235.9 150.75,237.5 150.88,250.8 151,247.9 151.12,258.5 151.25,255.8 151.38,235.1 151.50,260.8 151.62,245.4 151.75,232.4 151.88,256.7 152,243.9 152.12,262.5 152.25,254.6 152.38,252.8 152.50,252.1 152.62,263.4 152.75,252.4 152.88,258.5 153,252.3 153.12,265.2 153.25,249.6 153.38,252.7 153.50,263.7 153.62,264.0 153.75,252.5 153.88,250.3 154,253.3 154.12,250.3 154.25,262.8 154.38,254.6 154.50,260.2 154.62,252.5 154.75,253.1 154.88,250.0 155,267.9 155.12,260.0 155.25,255.7 155.38,256.3 155.50,266.1 155.62,250.4 155.75,258.4 155.88,259.4 156,264.4 156.12,267.0 156.25,257.7 156.38,263.9 156.50,264.1 156.62,253.3 156.75,263.6 156.88,268.9 157,259.0 157.12,268.5 157.25,260.6 157.38,261.6 157.50,268.8 157.62,257.6 157.75,266.1 157.88,259.3 158,266.0 158.12,269.2 158.25,266.2 158.38,264.4 158.50,264.3 158.62,257.3 158.75,264.2 158.88,260.0 159,268.5 159.12,270.4 159.25,257.5 159.38,259.1 159.50,266.4 159.62,259.2 159.75,266.7 159.88,268.5 160,271.1 160.12,271.7 160.25,268.2 160.38,264.6 160.50,261.6 160.62,261.9 160.75,259.1 160.88,272.4 161,261.2 161.12,273.1 161.25,261.1 161.38,271.6 161.50,273.5 161.62,262.7 161.75,265.3 161.88,260.1 162,266.9 162.12,269.4 162.25,271.7 162.38,267.4 162.50,260.9 162.62,271.1 162.75,262.1 162.88,272.2 163,261.3 163.12,269.3 163.25,273.0 163.38,269.1 163.50,269.5 163.62,274.1 163.75,272.6 163.88,260.4 164,268.9 164.12,268.5 164.25,248.8 164.38,257.7 164.50,263.0 164.62,270.8 164.75,255.8 164.88,242.3 165,249.6 165.12,237.8 165.25,234.0 165.38,248.9 165.50,226.1 165.62,256.2 165.75,264.4 165.88,244.0 166,225.3 166.12,262.3 166.25,215.9 166.38,265.0 166.50,239.3 166.62,255.1 166.80,210.4 167,218.9 167.12,218.5 167.25,257.1 167.38,223.6 167.50,243.9 167.62,218.5 167.75,257.5 167.88,233.2 168,265.6 168.12,246.0 168.25,219.4 168.38,225.5 168.50,266.4 168.62,232.5 168.75,262.0 168.88,239.2 169,249.3 169.12,251.5 169.25,244.4 169.38,253.1 169.50,266.6 169.62,234.7 169.75,257.9 169.88,254.3 170,241.3 170.12,237.6 170.25,238.8 170.38,250.7 170.50,250.3 170.62,254.0 170.75,272.4 170.88,260.3 171,255.7 171.12,258.5 171.25,271.0 171.38,266.2 171.50,277.2 171.62,264.5 171.75,260.6 171.88,261.3 172,268.5 172.12,277.6 172.25,268.1 172.38,271.1 172.50,267.1 172.62,264.8 172.75,276.1 172.88,265.3 173,276.8 173.12,267.9 173.25,262.1 173.38,267.9 173.50,268.9 173.62,277.0 173.75,260.2 173.88,267.8 174,261.9 174.12,253.3 174.25,259.2 174.38,247.2 174.50,243.2 174.62,264.3 174.75,243.1 174.88,252.0 175,261.4 175.12,234.3 175.25,221.2 175.38,247.0 175.50,225.5 175.62,265.0 175.75,245.1 175.88,261.3 176,231.3 176.12,252.5 176.25,255.3 176.40,214.0 176.50,256.1 176.62,216.5 176.75,243.2 176.88,250.3 177,232.7 177.12,221.9 177.25,245.0 177.38,239.2 177.50,259.4 177.62,261.0 177.75,235.8 177.88,236.7 178,252.9 178.12,266.7 178.25,265.8 178.38,230.7 178.50,265.8 178.62,229.9 178.75,229.9 178.88,244.6 179,266.2 179.12,239.8 179.25,261.4 179.38,250.4 179.50,251.2 179.62,266.2 179.75,246.0 179.88,257.3 180,236.7 180.12,255.3 180.25,251.2 180.38,244.5 180.50,247.2 180.62,265.1 180.75,261.8 180.88,258.5 181,273.0 181.12,258.9 181.25,266.2 181.38,266.4 181.50,263.8 181.62,267.9 181.75,275.0 181.88,274.9 182,264.0 182.12,269.0 182.25,270.9 182.38,277.1 182.50,270.9 182.62,277.2 182.75,267.7 182.88,263.4 183,265.5 183.12,266.6 183.25,259.9 183.38,276.9 183.50,268.8 183.62,271.3 183.75,278.1 183.88,277.9 184,267.9 184.12,276.3 184.25,266.9 184.38,266.6 184.50,264.1 184.62,264.6 184.75,268.4 184.88,278.9 185,265.1 185.12,275.7 185.25,267.7 185.38,267.3 185.50,267.8 185.62,263.2 185.75,262.3 185.88,266.1 186,261.0 186.12,274.4 186.25,260.6 186.38,264.2 186.50,269.5 186.62,270.3 186.75,273.1 186.88,272.9 187,263.6 187.12,278.7 187.25,278.9 187.38,277.2 187.50,263.5 187.62,264.1 187.75,272.5 187.88,260.7 188,267.8 188.12,278.6 188.25,270.2 188.38,269.8 188.50,278.7 188.62,278.6 188.75,273.6 188.88,278.2 189,266.8 189.12,275.7 189.25,273.5 189.38,276.4 189.50,272.0 189.62,266.4 189.75,262.5 189.88,268.6 190,273.3 190.12,266.1 190.25,276.8 190.38,268.0 190.50,279.6 190.62,282.2 190.75,274.2 190.88,269.8 191,276.1 191.12,268.1 191.25,269.7 191.38,277.1 191.50,276.9 191.62,271.6 191.75,275.7 191.88,279.9 192,280.5 192.12,263.4 192.25,276.6 192.38,277.0 192.50,274.5 192.62,269.5 192.75,280.4 192.88,279.1 193,284.3 193.12,275.6 193.25,272.7 193.38,272.7 193.50,281.5 193.62,272.7 193.75,271.7 193.88,271.9 194,279.7 194.12,270.9 194.25,285.1 194.38,272.0 194.50,271.9 194.62,281.0 194.75,265.5 194.88,280.8 195,271.8 195.12,283.3 195.25,281.5 195.38,270.2 195.50,279.0 195.62,278.8 195.75,284.1 195.88,280.6 196,277.4 196.12,278.6 196.25,277.6 196.38,278.1 196.50,266.5 196.62,263.4 196.75,259.1 196.88,266.4 197,275.6 197.12,254.1 197.25,280.8 197.38,275.1 197.50,257.0 197.62,247.3 197.75,255.8 197.88,255.9 198,261.2 198.12,248.1 198.25,245.9 198.38,271.2 198.50,275.4 198.62,259.3 198.75,249.6 198.88,243.3 199,241.5 199.10,234.6 199.25,241.2 199.38,273.7 199.50,243.9 199.62,253.7 199.75,254.9 199.88,239.8 200,250.8 200.12,276.1 200.25,263.2 200.38,272.9 200.50,279.7 200.62,276.5 200.75,270.9 200.88,253.0 201,252.7 201.12,250.2 201.25,251.8 201.38,277.8 201.50,254.2 201.62,277.2 201.75,276.6 201.88,278.9 202,243.2 202.12,249.9 202.25,247.1 202.38,277.7 202.50,246.2 202.62,264.2 202.75,276.7 202.88,262.8 203,273.2 203.12,283.8 203.25,278.2 203.38,278.9 203.50,263.2 203.62,273.0 203.75,276.3 203.88,276.5 204,273.8 204.12,288.2 204.25,272.1 204.38,282.8 204.50,282.8 204.62,284.3 204.75,276.9 204.88,282.4 205,273.3 205.12,284.0 205.25,274.5 205.38,290.1 205.50,278.1 205.62,276.4 205.75,283.4 205.88,276.6 206,287.3 206.12,284.3 206.25,290.3 206.38,287.3 206.50,286.7 206.62,288.7 206.75,275.5 206.88,269.1 207,272.1 207.12,275.9 207.25,275.6 207.38,282.3 207.50,273.9 207.62,288.7 207.75,277.3 207.88,281.5 208,290.5 208.12,281.3 208.25,277.6 208.38,285.7 208.50,290.2 208.62,273.3 208.75,290.0 208.88,276.3 209,277.7 209.12,285.4 209.25,276.3 209.38,291.9 209.50,278.5 209.62,282.9 209.75,274.4 209.88,269.9 210,270.1 210.12,273.5 210.25,285.5 210.38,277.5 210.50,277.8 210.62,277.3 210.75,271.4 210.88,270.2 211,286.3 211.12,292.2 211.25,288.0 211.38,292.9 211.50,278.3 211.62,280.6 211.75,278.6 211.88,275.3 212,290.1 212.12,285.8 212.25,279.4 212.38,279.6 212.50,282.2 212.62,293.1 212.75,283.7 212.88,280.1 213,292.8 213.12,291.2 213.25,279.3 213.38,273.8 213.50,276.6 213.62,276.4 213.75,281.9 213.88,291.3 214,286.5 214.12,282.3 214.25,281.6 214.38,273.8 214.50,278.3 214.62,280.5 214.75,289.9 214.88,287.4 215,291.3 215.12,294.6 215.25,278.9 215.38,292.3 215.50,291.5 215.62,285.0 215.75,285.4 215.88,280.8 216,287.8 216.12,276.7 216.25,287.2 216.38,282.2 216.50,280.3 216.62,283.5 216.75,291.3 216.88,287.5 217,274.7 217.12,278.0 217.25,281.1 217.38,290.5 217.50,280.1 217.62,276.9 217.75,286.5 217.88,295.5 218,282.6 218.12,277.3 218.25,278.8 218.38,277.7 218.50,288.8 218.62,278.0 218.75,279.6 218.88,295.6 219,292.2 219.12,284.3 219.25,278.4 219.38,281.5 219.50,282.6 219.62,279.8 219.75,286.0 219.88,291.0 220,284.5 220.12,285.5 220.25,291.7 220.38,295.1 220.50,287.5 220.62,283.9 220.75,284.4 220.88,288.6 221,287.9 221.12,289.7 221.25,284.4 221.38,293.8 221.50,295.7 221.62,287.1 221.75,297.6 221.88,295.3 222,286.3 222.12,286.0 222.25,298.2 222.38,294.7 222.50,290.8 222.62,298.5 222.75,276.2 222.88,280.6 223,289.9 223.12,280.0 223.25,296.8 223.38,294.2 223.50,284.2 223.62,290.6 223.75,290.6 223.88,290.8 224,289.4 224.12,288.6 224.25,294.7 224.38,297.5 224.50,287.8 224.62,295.4 224.75,298.8 224.88,272.2 225,273.6 225.12,287.0 225.25,273.4 225.38,293.3 225.50,269.6 225.62,260.8 225.75,285.9 225.88,293.4 226,271.7 226.12,272.4 226.25,274.6 226.38,264.1 226.50,272.0 226.62,272.8 226.75,270.1 226.88,283.5 227,283.8 227.10,249.8 227.25,290.7 227.38,257.9 227.50,254.6 227.62,282.2 227.75,285.7 227.88,289.6 228,260.5 228.12,266.0 228.25,275.8 228.38,278.4 228.50,289.1 228.62,285.2 228.75,293.5 228.88,262.2 229,272.8 229.12,290.3 229.25,287.0 229.38,278.4 229.50,288.5 229.62,269.2 229.75,284.3 229.88,266.5 230,277.2 230.12,265.7 230.25,285.4 230.38,271.4 230.50,293.4 230.62,269.9 230.75,270.4 230.88,291.1 231,281.3 231.12,290.5 231.25,292.1 231.38,290.6 231.50,290.6 231.62,293.5 231.75,302.4 231.88,283.1 232,299.4 232.12,287.7 232.25,303.0 232.38,288.9 232.50,298.3 232.62,302.0 232.75,302.1 232.88,298.2 233,302.0 233.12,285.2 233.25,290.1 233.38,289.0 233.50,292.3 233.62,291.2 233.75,292.2 233.88,279.5 234,283.6 234.12,283.2 234.25,289.4 234.38,280.8 234.50,295.5 234.62,295.7 234.75,289.5 234.88,300.2 235,291.3 235.12,292.6 235.25,292.3 235.38,281.4 235.50,302.8 235.62,295.5 235.75,300.8 235.88,291.3 236,301.9 236.12,290.5 236.25,286.6 236.38,277.8 236.50,292.3 236.62,287.4 236.75,303.1 236.88,289.9 237,292.2 237.12,302.4 237.25,296.3 237.38,288.1 237.50,276.6 237.62,288.1 237.75,303.4 237.88,284.6 238,293.4 238.12,285.3 238.25,280.9 238.38,301.5 238.50,301.8 238.62,298.8 238.75,286.2 238.88,302.5 239,302.5 239.12,300.7 239.25,296.9 239.38,283.5 239.50,292.9 239.62,287.6 239.75,287.1 239.88,287.1 240,284.3 240.12,300.7 240.25,296.7 240.38,300.9 240.50,293.3 240.62,297.1 240.75,288.2 240.88,301.6 241,282.6 241.12,281.1 241.25,275.6 241.38,281.0 241.50,276.2 241.62,281.6 241.75,301.7 241.88,298.2 242,295.1 242.12,292.0 242.25,285.7 242.38,304.0 242.50,286.5 242.62,276.8 242.75,286.1 242.88,292.7 243,281.4 243.12,283.6 243.25,297.0 243.38,281.2 243.50,281.4 243.62,289.8 243.75,295.3 243.88,292.2 244,282.9 244.12,275.2 244.25,300.4 244.38,287.3 244.50,302.3 244.62,282.6 244.75,284.1 244.88,277.2 245,289.6 245.12,300.2 245.25,296.5 245.38,282.3 245.50,287.3 245.62,291.8 245.75,303.5 245.88,279.8 246,281.7 246.12,300.8 246.25,292.7 246.38,289.9 246.50,287.5 246.62,303.6 246.75,290.4 246.88,294.4 247,301.6 247.12,281.5 247.25,302.9 247.38,289.4 247.50,291.5 247.62,303.2 247.75,300.2 247.88,303.0 248,283.8 248.12,290.6 248.25,302.7 248.38,295.5 248.50,302.5 248.62,283.8 248.75,296.4 248.88,300.6 249,297.0 249.12,303.8 249.25,286.3 249.38,277.3 249.50,284.6 249.62,275.7 249.75,277.2 249.88,286.2 250,300.3 250.12,285.4 250.25,296.3 250.38,283.6 250.50,286.1 250.62,298.9 250.75,298.4 250.88,283.1 251,284.2 251.12,288.4 251.25,298.7 251.38,291.7 251.50,286.0 251.62,278.5 251.75,286.4 251.88,291.5 252,295.0 252.12,297.2 252.25,291.2 252.38,294.0 252.50,283.5 252.62,291.6 252.75,298.5 252.88,284.6 253,295.5 253.12,289.6 253.25,284.6 253.38,300.3 253.50,300.7 253.62,288.2 253.75,282.3 253.88,283.6 254,277.2 254.12,294.9 254.25,288.2 254.38,294.6 254.50,302.9 254.62,297.7 254.75,300.2 254.88,298.4 255,284.2 255.12,283.6 255.25,305.5 255.38,300.7 255.50,300.0 255.62,286.4 255.75,294.5 255.88,296.5 256,300.0 256.12,276.9 256.25,297.3 256.38,288.7 256.50,299.4 256.62,288.1 256.75,282.6 256.88,295.4 257,289.2 257.12,302.4 257.25,294.1 257.38,292.9 257.50,298.1 257.62,305.8 257.75,279.9 257.88,279.9 258,285.7 258.12,285.0 258.25,298.0 258.38,301.0 258.50,302.2 258.62,299.6 258.75,301.9 258.88,287.4 259,290.4 259.12,295.1 259.25,304.1 259.38,292.2 259.50,282.4 259.62,287.5 259.75,290.7 259.88,300.2 260,301.6 260.12,289.7 260.25,301.4 260.38,290.9 260.50,284.3 260.62,299.5 260.75,297.2 260.88,288.6 261,279.6 261.12,279.7 261.25,265.4 261.38,292.0 261.50,266.8 261.62,277.9 261.75,285.9 261.88,275.7 262,272.4 262.12,271.8 262.25,295.5 262.38,279.6 262.50,270.5 262.62,299.6 262.75,299.9 262.88,279.0 263,300.0 263.12,293.7 263.25,296.6 263.38,287.4 263.50,290.0 263.62,279.0 263.75,282.0 263.88,289.1 264,294.5 264.12,276.6 264.25,289.7 264.38,275.1 264.50,284.2 264.62,278.2 264.75,281.5 264.88,295.2 265,290.2 265.12,276.9 265.25,298.1 265.38,266.9 265.50,274.5 265.62,295.3 265.75,264.2 265.88,272.4 266,264.7 266.12,267.7 266.25,258.5 266.38,282.0 266.50,263.2 266.62,273.6 266.75,282.6 266.88,262.5 267,283.1 267.12,272.5 267.25,254.5 267.38,252.8 267.50,238.0 267.62,253.2 267.75,235.3 267.88,271.2 268,260.4 268.12,277.3 268.25,244.8 268.38,247.3 268.50,264.1 268.62,273.8 268.75,246.0 268.88,273.6 269,271.8 269.12,265.9 269.25,285.4 269.38,240.4 269.50,249.3 269.62,270.4 269.75,276.0 269.88,246.4 270,259.1 270.12,264.6 270.25,249.4 270.38,246.5 270.50,235.0 270.62,258.4 270.75,245.4 270.88,253.3 271,238.9 271.12,266.0 271.25,254.1 271.38,247.5 271.50,234.3 271.62,250.2 271.75,259.7 271.88,243.5 272,283.0 272.12,268.9 272.25,271.8 272.38,250.7 272.50,275.8 272.62,276.3 272.75,290.7 272.88,252.6 273,265.5 273.12,292.6 273.25,282.1 273.38,268.1 273.50,278.3 273.62,263.7 273.75,265.6 273.88,273.3 274,291.2 274.12,295.3 274.25,268.1 274.38,279.5 274.50,247.6 274.62,266.3 274.75,270.1 274.88,231.7 275,261.8 275.12,274.1 275.25,265.1 275.38,223.7 275.50,226.6 275.62,264.0 275.75,250.4 275.88,258.2 276,266.3 276.12,253.9 276.25,236.9 276.38,261.9 276.50,242.2 276.62,269.8 276.75,267.1 276.88,242.3 277,277.7 277.12,246.3 277.25,283.0 277.38,258.1 277.50,235.8 277.62,264.6 277.75,254.5 277.88,257.5 278,248.3 278.12,252.4 278.25,226.3 278.38,263.6 278.50,217.0 278.62,229.2 278.75,241.8 278.88,251.4 279,241.1 279.12,254.3 279.25,248.2 279.38,269.5 279.50,255.7 279.62,270.6 279.75,258.1 279.88,255.0 280,255.6 280.12,260.3 280.25,250.6 280.38,248.8 280.50,276.4 280.62,261.4 280.75,260.2 280.88,272.9 281,274.0 281.12,284.3 281.25,284.4 281.38,291.8 281.50,251.6 281.62,267.7 281.75,295.6 281.88,295.7 282,268.7 282.12,276.6 282.25,279.0 282.38,261.0 282.50,281.6 282.62,279.6 282.75,282.5 282.88,260.1 283,260.4 283.12,278.2 283.25,287.0 283.38,271.7 283.50,263.8 283.62,287.0 283.75,296.2 283.88,271.6 284,288.2 284.12,268.1 284.25,287.9 284.38,269.1 284.50,293.7 284.62,263.5 284.75,278.9 284.88,292.4 285,254.6 285.12,280.5 285.25,274.4 285.38,278.3 285.50,278.4 285.62,262.0 285.75,274.7 285.88,257.0 286,280.5 286.12,295.5 286.25,286.9 286.38,288.6 286.50,268.9 286.62,269.1 286.75,269.8 286.88,290.9 287,284.5 287.12,280.0 287.25,272.3 287.38,282.1 287.50,294.1 287.62,285.1 287.75,298.4 287.88,285.5 288,292.7 288.12,297.8 288.25,279.9 288.38,266.0 288.50,270.6 288.62,269.0 288.75,279.2 288.88,295.8 289,285.4 289.12,279.1 289.25,296.0 289.38,292.0 289.50,284.5 289.62,265.2 289.75,288.7 289.88,275.5 290,288.0 290.12,264.6 290.25,267.7 290.38,275.8 290.50,261.9 290.62,290.7 290.75,299.1 290.88,270.9 291,270.9 291.12,277.9 291.25,268.7 291.38,280.4 291.50,283.0 291.62,263.1 291.75,270.0 291.88,284.5 292,275.8 292.12,294.3 292.25,258.0 292.38,247.0 292.50,265.3 292.60,252.0 292.75,253.9 292.88,257.3 293,290.4 293.12,271.3 293.25,290.1 293.38,259.8 293.50,276.3 293.62,286.6 293.75,272.7 293.88,267.6 294,284.8 294.12,285.3 294.25,263.3 294.38,261.9 294.50,297.4 294.62,272.1 294.75,257.1 294.88,254.7 295,259.7 295.12,285.6 295.25,264.1 295.38,258.9 295.50,289.2 295.62,289.9 295.75,258.9 295.88,266.5 296,258.7 296.12,262.2 296.25,279.7 296.38,256.0 296.50,284.7 296.62,265.6 296.75,264.5 296.88,252.3 297,255.0 297.12,296.0 297.25,291.4 297.38,272.6 297.50,271.5 297.62,255.8 297.75,290.3 297.88,281.1 298,285.5 298.12,280.9 298.25,265.7 298.38,243.0 298.50,281.6 298.62,224.5 298.80,228.8 299,258.1 299.12,244.0 299.25,257.7 299.38,270.7 299.50,248.4 299.62,251.3 299.75,263.5 299.88,261.6 300,259.1 300.12,274.6 300.25,234.1 300.38,264.3 300.50,263.3 300.62,250.8 300.75,227.1 300.88,222.6 301,235.5 301.12,262.3 301.30,207.6 301.50,251.2 301.62,228.0 301.75,229.5 301.88,264.9 302,261.7 302.12,258.6 302.25,221.6 302.38,252.3 302.50,266.0 302.62,251.8 302.75,260.7 302.88,257.1 303,254.5 303.12,230.5 303.25,240.6 303.38,278.9 303.50,278.1 303.62,239.9 303.75,284.6 303.88,283.4 304,240.0 304.12,259.8 304.25,264.1 304.38,285.7 304.50,249.0 304.62,264.5 304.75,289.7 304.88,255.1 305,264.6 305.12,265.0 305.25,277.4 305.38,246.3 305.50,256.8 305.62,282.8 305.75,268.6 305.88,264.7 306,259.6 306.12,286.1 306.30,239.0 306.50,269.4 306.62,271.4 306.75,234.4 306.88,239.3 307,269.9 307.12,270.7 307.25,255.6 307.38,269.0 307.50,278.5 307.62,277.6 307.75,270.2 307.88,248.7 308,253.3 308.12,273.2 308.25,289.7 308.38,256.5 308.50,253.2 308.62,283.7 308.75,251.5 308.88,289.7 309,244.2 309.12,256.6 309.25,243.3 309.38,286.4 309.50,240.0 309.62,240.3 309.75,263.9 309.88,282.2 310,252.8 310.12,247.4 310.25,263.2 310.38,263.0 310.50,283.2 310.62,250.1 310.75,264.1 310.88,258.9 311,284.8 311.12,273.5 311.25,277.4 311.38,290.3 311.50,256.3 311.62,259.0 311.75,284.2 311.88,288.6 312,252.0 312.12,273.0 312.25,287.5 312.38,279.2 312.50,277.5 312.62,294.2 312.75,264.6 312.88,267.1 313,279.2 313.12,291.4 313.25,286.8 313.38,252.7 313.50,269.5 313.62,267.0 313.75,267.9 313.88,262.7 314,263.4 314.12,281.6 314.25,287.6 314.38,270.2 314.50,289.3 314.62,285.8 314.75,297.1 314.88,289.8 315,273.6 315.12,272.4 315.25,284.2 315.38,298.2 315.50,271.0 315.62,280.2 315.75,268.4 315.88,272.6 316,268.6 316.12,268.7 316.25,254.6 316.38,258.6 316.50,260.5 316.70,253.0 316.88,276.0 317,277.8 317.12,286.6 317.25,281.3 317.38,291.4 317.50,273.1 317.62,298.9 317.75,289.2 317.88,265.0 318,293.6 318.12,268.7 318.25,292.0 318.38,266.5 318.50,268.0 318.62,285.8 318.75,288.0 318.88,283.3 319,289.9 319.12,279.1 319.25,291.2 319.38,280.8 319.50,294.1 319.62,307.2 319.75,292.9 319.88,284.2 320,283.6 320.12,315.6 320.25,294.2 320.38,301.6 320.50,304.0 320.62,301.5 320.75,276.6 320.88,293.8 321,304.0 321.12,311.8 321.25,297.7 321.38,294.8 321.50,300.9 321.62,278.0 321.75,309.3 321.88,322.6 322,290.2 322.12,290.4 322.25,293.4 322.38,317.7 322.50,303.4 322.62,293.7 322.75,286.1 322.88,291.9 323,289.6 323.12,318.0 323.25,316.1 323.38,302.0 323.50,302.9 323.62,311.3 323.75,307.7 323.88,325.9 324,303.1 324.12,320.1 324.25,292.9 324.38,312.3 324.50,310.0 324.62,316.1 324.75,321.9 324.88,290.3 325,325.2 325.12,318.8 325.25,289.8 325.38,317.2 325.50,319.6 325.62,303.3 325.75,326.9 325.88,303.7 326,310.1 326.12,298.0 326.25,306.6 326.38,309.7 326.50,333.1 326.62,316.7 326.75,331.3 326.88,332.8 327,331.1 327.12,291.8 327.25,299.7 327.38,289.9 327.50,290.0 327.62,305.7 327.75,330.9 327.88,332.6 328,330.1 328.12,325.4 328.25,306.5 328.38,306.5 328.50,301.3 328.62,335.0 328.75,329.1 328.88,324.0 329,323.0 329.12,316.0 329.25,315.8 329.38,325.7 329.50,317.3 329.62,299.4 329.75,295.8 329.88,304.9 330,311.6 330.12,325.2 330.23,321.4 330.32,327.6 330.43,321.0 330.52,314.8 330.62,321.0 330.73,321.8 330.82,330.7 330.93,326.2 331.02,313.1 331.12,318.0 331.23,316.1 331.32,330.4 331.43,312.3 331.52,323.0 331.62,320.7 331.73,312.1 331.82,330.7 331.93,324.7 332.02,314.3 332.12,323.9 332.23,319.0 332.32,340.1 332.43,325.5 332.52,320.9 332.62,314.3 332.73,309.6 332.82,332.7 332.93,320.6 333.02,313.2 333.12,337.6 333.23,337.4 333.32,335.0 333.43,319.8 333.52,315.4 333.62,327.3 333.73,332.7 333.82,328.7 333.93,327.8 334.02,330.7 334.12,320.3 334.23,330.3 334.32,343.0 334.43,315.8 334.52,340.8 334.62,339.5 334.73,325.5 334.82,328.7 334.93,331.0 335.02,321.1 335.12,330.7 335.23,326.6 335.32,327.3 335.43,309.2 335.52,320.3 335.62,330.2 335.73,335.2 335.82,325.8 335.93,323.3 336.02,334.2 336.12,309.9 336.23,336.1 336.32,317.1 336.43,315.8 336.52,325.0 336.62,319.2 336.73,329.5 336.82,317.1 336.93,334.8 337.02,324.0 337.12,316.4 337.23,325.4 337.32,329.3 337.43,322.2 337.52,323.0 337.62,328.4 337.73,324.4 337.82,315.8 337.93,324.3 338.02,328.8 338.12,323.2 338.23,327.3 338.32,320.2 338.43,323.6 338.52,320.5 338.62,325.8 338.73,311.4 338.82,310.7 338.93,313.1 339.02,323.4 339.12,311.0 339.23,329.2 339.32,326.0 339.43,322.6 339.52,322.9 339.62,330.1 339.73,331.6 339.82,318.2 339.93,327.9 340.02,326.5 340.12,333.8 340.23,337.5 340.32,326.4 340.43,320.7 340.52,310.0 340.62,328.0 340.73,320.3 340.82,319.9 340.93,323.1 341.02,311.6 341.12,332.2 341.23,316.9 341.32,333.3 341.43,343.4 341.52,333.2 341.62,334.0 341.73,332.5 341.82,324.4 341.93,319.1 342.02,325.9 342.12,328.5 342.23,326.9 342.32,336.2 342.43,338.5 342.52,335.5 342.62,339.1 342.73,330.6 342.82,333.0 342.93,329.9 343.02,330.4 343.12,332.8 343.23,322.0 343.32,331.8 343.43,343.3 343.52,339.8 343.62,342.5 343.73,335.0 343.82,336.6 343.93,331.8 344.02,333.0 344.12,345.7 344.23,347.8 344.32,342.0 344.43,350.3 344.52,333.2 344.62,331.2 344.73,332.0 344.82,331.7 344.93,336.6 345.02,327.8 345.12,343.4 345.23,343.1 345.32,335.1 345.43,341.8 345.52,335.7 345.62,344.3 345.73,324.1 345.82,329.2 345.93,328.0 346.02,334.1 346.12,316.9 346.23,338.2 346.32,336.8 346.43,339.4 346.52,350.3 346.62,332.7 346.73,331.5 346.82,346.9 346.93,323.0 347.02,329.1 347.12,337.8 347.23,342.7 347.32,333.4 347.43,338.9 347.52,333.7 347.62,343.5 347.73,338.5 347.82,342.4 347.93,329.1 348.02,326.1 348.12,332.4 348.23,332.5 348.32,334.5 348.43,338.2 348.52,334.4 348.62,341.0 348.73,333.5 348.82,329.9 348.93,331.8 349.02,345.1 349.12,336.6 349.23,332.1 349.32,340.5 349.43,335.0 349.52,345.8 349.62,338.9 349.73,324.1 349.82,353.3 349.93,332.9 350.02,342.1 350.12,333.6 350.23,329.3 350.32,337.9 350.43,329.8 350.52,346.3 350.62,334.5 350.73,336.6 350.82,335.0 350.93,331.7 351.02,337.4 351.12,341.8 351.23,347.8 351.32,338.3 351.43,337.0 351.52,340.6 351.62,335.9 351.73,353.8 351.82,340.1 351.93,339.6 352.02,327.4 352.12,333.8 352.23,333.9 352.32,330.3 352.43,327.9 352.52,354.5 352.62,329.8 352.73,347.6 352.82,340.1 352.93,337.7 353.02,338.8 353.12,333.7 353.23,342.5 353.32,342.6 353.43,336.7 353.52,328.3 353.62,339.7 353.73,340.2 353.82,351.7 353.93,341.2 354.02,339.5 354.12,338.4 354.23,349.5 354.32,341.2 354.43,341.8 354.52,330.0 354.62,347.4 354.73,336.6 354.82,346.4 354.93,342.9 355.02,351.0 355.12,337.0 355.23,335.1 355.32,340.7 355.43,350.8 355.52,330.9 355.62,339.0 355.73,345.4 355.82,335.1 355.93,339.4 356.02,334.2 356.12,331.1 356.23,345.6 356.32,333.6 356.43,344.9 356.52,333.2 356.62,352.6 356.73,349.0 356.82,354.2 356.93,345.1 357.02,343.9 357.12,353.9 357.23,339.3 357.32,326.4 357.43,336.2 357.52,350.2 357.62,339.8 357.73,342.0 357.82,347.0 357.93,341.6 358.02,348.5 358.12,349.5 358.23,337.5 358.32,343.5 358.43,342.1 358.52,340.0 358.62,351.4 358.73,330.8 358.82,336.9 358.93,340.9 359.02,351.6 359.12,344.4 359.23,344.5 359.32,353.2 359.43,340.0 359.52,335.9 359.62,342.8 359.73,341.7 359.82,345.0 359.93,329.5 360.02,344.4 360.12,336.7 360.23,350.5 360.32,350.8 360.43,344.1 360.52,326.4 360.62,339.5 360.73,336.4 360.82,345.3 360.93,340.8 361.02,345.0 361.12,347.8 361.23,340.7 361.32,334.5 361.43,340.6 361.52,360.8 361.62,336.9 361.73,327.0 361.82,350.8 361.93,338.3 362.02,348.5 362.12,335.9 362.23,355.7 362.32,338.6 362.43,330.7 362.52,361.1 362.62,333.6 362.73,345.0 362.82,348.3 362.93,349.3 363.02,338.6 363.12,345.3 363.23,343.9 363.32,346.3 363.43,359.8 363.52,350.9 363.62,360.5 363.73,327.1 363.82,329.0 363.93,347.7 364.02,352.4 364.12,338.0 364.23,342.2 364.32,340.6 364.43,352.4 364.52,345.6 364.62,357.1 364.73,341.4 364.82,352.0 364.93,338.3 365.02,342.1 365.12,333.8 365.23,345.4 365.32,361.7 365.43,334.1 365.52,348.3 365.62,345.0 365.73,347.8 365.82,349.3 365.93,334.4 366.02,344.5 366.12,352.5 366.23,348.9 366.32,350.0 366.43,344.1 366.52,341.2 366.62,339.2 366.73,347.3 366.82,343.9 366.93,351.9 367.02,354.6 367.12,340.8 367.23,339.3 367.32,334.0 367.43,340.5 367.52,356.3 367.62,344.1 367.73,347.0 367.82,352.7 367.93,338.2 368.02,343.7 368.12,333.5 368.23,353.6 368.32,345.6 368.43,332.3 368.52,358.6 368.62,342.4 368.73,355.8 368.82,344.3 368.93,339.0 369.02,335.6 369.12,345.3 369.23,339.6 369.32,353.0 369.43,348.0 369.52,342.5 369.62,331.4 369.73,336.8 369.82,335.6 369.93,337.9 370.02,339.3 370.12,334.9 370.23,347.1 370.32,348.2 370.43,351.6 370.52,351.2 370.62,347.8 370.73,343.5 370.82,334.8 370.93,337.0 371.02,343.6 371.12,346.1 371.23,346.0 371.32,348.2 371.43,342.1 371.52,330.8 371.62,336.1 371.73,343.0 371.82,358.9 371.93,339.3 372.02,338.1 372.12,343.7 372.23,334.8 372.32,340.1 372.43,346.4 372.52,335.8 372.62,337.2 372.73,341.3 372.82,339.8 372.93,347.9 373.02,330.5 373.12,348.8 373.23,354.7 373.32,332.2 373.43,327.8 373.52,338.8 373.62,359.5 373.73,344.4 373.82,342.1 373.93,356.9 374.02,351.2 374.12,343.2 374.23,347.6 374.32,342.5 374.43,343.9 374.52,348.8 374.62,342.2 374.73,353.1 374.82,348.4 374.93,352.3 375.02,353.2 375.12,341.5 375.23,349.9 375.32,338.3 375.43,339.9 375.52,335.7 375.62,342.2 375.73,351.3 375.82,338.9 375.93,332.1 376.02,347.0 376.12,360.7 376.23,336.7 376.32,336.1 376.43,352.2 376.52,344.3 376.62,338.0 376.73,346.0 376.82,356.0 376.93,351.1 377.02,360.2 377.12,355.8 377.23,354.0 377.32,361.3 377.43,337.4 377.52,350.7 377.62,353.4 377.73,352.9 377.82,334.2 377.93,349.3 378.02,342.7 378.12,360.7 378.23,339.2 378.32,348.7 378.43,342.9 378.52,350.7 378.62,340.7 378.73,357.4 378.82,346.9 378.93,351.0 379.02,356.5 379.12,346.9 379.23,337.4 379.32,346.3 379.43,348.2 379.52,362.5 379.62,335.0 379.73,352.5 379.82,342.0 379.93,349.9 380.02,349.3 380.12,338.0 380.23,348.7 380.32,352.3 380.43,351.1 380.52,356.3 380.62,355.4 380.73,356.6 380.82,341.0 380.93,335.3 381.02,346.1 381.12,359.8 381.23,354.3 381.32,352.0 381.43,334.8 381.52,346.2 381.62,359.1 381.73,343.0 381.82,345.1 381.93,337.8 382.02,335.3 382.12,356.1 382.23,354.9 382.32,363.7 382.43,346.8 382.52,344.2 382.62,357.5 382.73,342.1 382.82,340.8 382.93,341.3 383.02,349.3 383.12,362.3 383.23,339.7 383.32,338.8 383.43,348.9 383.52,346.3 383.62,342.5 383.73,351.7 383.82,352.9 383.93,336.1 384.02,345.1 384.12,341.2 384.23,353.4 384.32,350.7 384.43,346.8 384.52,355.8 384.62,362.4 384.73,339.7 384.82,338.5 384.93,356.4 385.02,363.0 385.12,347.0 385.23,349.2 385.32,354.3 385.43,346.9 385.52,357.4 385.62,350.1 385.73,347.3 385.82,357.5 385.93,347.3 386.02,351.7 386.12,362.7 386.23,356.6 386.32,360.3 386.43,353.6 386.52,338.1 386.62,359.9 386.73,346.5 386.82,347.6 386.93,349.3 387.02,362.3 387.12,347.0 387.23,357.9 387.32,349.1 387.43,350.4 387.52,341.4 387.62,352.0 387.73,352.1 387.82,356.0 387.93,340.3 388.02,351.9 388.12,341.5 388.23,339.8 388.32,347.3 388.43,341.1 388.52,350.7 388.62,343.4 388.73,337.4 388.82,357.6 388.93,339.5 389.02,346.6 389.12,347.5 389.23,340.0 389.32,349.1 389.43,349.9 389.52,337.7 389.62,351.6 389.73,335.2 389.82,342.8 389.93,357.7 390.02,343.3 390.12,342.3 390.23,345.1 390.32,351.2 390.43,346.1 390.52,340.1 390.62,352.5 390.73,362.2 390.82,353.7 390.93,356.6 391.02,339.4 391.12,346.7 391.23,348.1 391.32,351.1 391.43,356.6 391.52,348.7 391.62,347.2 391.73,356.3 391.82,356.9 391.93,350.1 392.02,345.5 392.12,361.2 392.23,356.6 392.32,356.2 392.43,350.6 392.52,364.6 392.62,349.2 392.73,348.3 392.82,337.0 392.93,351.8 393.02,355.8 393.12,356.1 393.23,350.4 393.32,347.8 393.43,355.8 393.52,348.8 393.62,352.4 393.73,354.3 393.82,347.4 393.93,341.6 394.02,365.8 394.12,351.9 394.23,347.1 394.32,353.2 394.43,350.5 394.52,354.5 394.62,343.3 394.73,345.0 394.82,348.0 394.93,345.0 395.02,358.6 395.12,355.8 395.23,348.3 395.32,349.0 395.43,352.4 395.52,341.7 395.62,361.5 395.73,362.9 395.82,342.3 395.93,349.2 396.02,357.6 396.12,343.1 396.23,347.9 396.32,342.9 396.43,350.5 396.52,361.0 396.62,349.5 396.73,350.0 396.82,349.7 396.93,347.5 397.02,354.3 397.12,355.0 397.23,354.7 397.32,355.1 397.43,345.4 397.52,358.8 397.62,355.6 397.73,343.8 397.82,351.3 397.93,358.8 398.02,361.9 398.12,354.5 398.23,346.6 398.32,354.1 398.43,346.4 398.52,350.0 398.62,358.8 398.73,339.2 398.82,353.1 398.93,344.3 399.02,338.0 399.12,345.4 399.23,351.5 399.32,351.8 399.43,363.1 399.52,348.4 399.62,353.1 399.73,346.5 399.82,353.8 399.93,339.7 400.02,345.8 400.12,345.4 400.23,346.9 400.32,354.2 400.43,339.5 400.52,345.9 400.62,342.3 400.73,353.2 400.82,351.8 400.93,350.0 401.02,352.6 401.12,344.3 401.23,360.6 401.32,358.3 401.43,349.5 401.52,341.1 401.62,337.9 401.73,337.9 401.82,342.0 401.93,357.1 402.02,358.2 402.12,355.8 402.23,350.7 402.32,338.3 402.43,351.5 402.52,338.4 402.62,363.1 402.73,346.8 402.82,357.7 402.93,350.8 403.02,348.7 403.12,347.6 403.23,354.9 403.32,355.4 403.43,355.1 403.52,351.4 403.62,343.3 403.73,366.3 403.82,360.0 403.93,351.6 404.02,356.9 404.12,348.0 404.23,343.4 404.32,349.5 404.43,362.6 404.52,364.2 404.62,347.4 404.73,346.9 404.82,343.7 404.93,361.9 405.02,351.8 405.12,347.9 405.23,363.1 405.32,357.2 405.43,336.7 405.52,350.8 405.62,350.8 405.73,361.0 405.82,347.1 405.93,346.0 406.02,348.5 406.12,349.2 406.23,351.5 406.32,342.6 406.43,351.0 406.52,336.8 406.62,357.9 406.73,336.1 406.82,341.7 406.93,339.6 407.02,349.7 407.12,347.1 407.23,345.9 407.32,338.9 407.43,344.8 407.52,348.4 407.62,338.0 407.73,343.2 407.82,346.0 407.93,349.9 408.02,345.9 408.12,345.0 408.23,349.1 408.32,338.6 408.43,353.4 408.52,350.9 408.62,360.2 408.73,352.9 408.82,354.4 408.93,348.7 409.02,352.7 409.12,336.2 409.23,364.1 409.32,346.0 409.43,353.8 409.52,337.8 409.62,363.8 409.73,342.7 409.82,358.3 409.93,355.1 410.02,360.6 410.12,358.9 410.23,349.9 410.32,355.4 410.43,364.6 410.52,347.4 410.62,355.6 410.73,351.2 410.82,349.7 410.93,345.2 411.02,346.0 411.12,358.9 411.23,362.3 411.32,353.9 411.43,348.3 411.52,341.3 411.62,362.8 411.73,358.5 411.82,349.0 411.93,345.4 412.02,343.8 412.12,348.0 412.23,338.8 412.32,353.5 412.43,339.3 412.52,365.4 412.62,352.1 412.73,345.7 412.82,346.9 412.93,362.9 413.02,336.7 413.12,346.7 413.23,350.3 413.32,363.6 413.43,348.6 413.52,352.8 413.62,356.6 413.73,362.9 413.82,351.8 413.93,354.8 414.02,356.1 414.12,354.8 414.23,358.0 414.32,353.7 414.43,355.1 414.52,349.1 414.62,354.5 414.73,356.5 414.82,353.8 414.93,357.0 415.02,356.8 415.12,362.1 415.23,349.5 415.32,358.7 415.43,363.8 415.52,352.9 415.62,338.0 415.73,345.1 415.82,359.4 415.93,338.7 416.02,356.3 416.12,346.6 416.23,353.5 416.32,345.0 416.43,355.4 416.52,349.3 416.62,347.7 416.73,366.3 416.82,362.6 416.93,344.6 417.02,336.9 417.12,342.5 417.23,353.9 417.32,340.1 417.43,344.5 417.52,347.1 417.62,347.9 417.73,358.4 417.82,341.6 417.93,356.6 418.02,345.9 418.12,347.7 418.23,352.6 418.32,354.1 418.43,359.2 418.52,336.8 418.62,356.2 418.73,359.3 418.82,365.1 418.93,353.2 419.02,340.2 419.12,355.9 419.23,367.2 419.32,347.1 419.43,350.7 419.52,352.4 419.62,352.6 419.73,353.3 419.82,351.0 419.93,363.4 420.02,345.3 420.12,348.3 420.23,342.8 420.32,353.0 420.43,354.9 420.52,362.0 420.62,365.3 420.73,346.3 420.82,342.2 420.93,345.0 421.02,338.0 421.12,347.5 421.23,353.4 421.32,343.8 421.43,352.1 421.52,349.0 421.62,343.0 421.73,342.9 421.82,342.9 421.93,350.1 422.02,339.2 422.12,344.0 422.23,348.3 422.32,348.2 422.43,354.5 422.60,334.5 422.73,341.5 422.82,346.4 422.93,363.9 423.02,342.9 423.12,352.7 423.23,358.5 423.32,364.6 423.43,358.4 423.52,355.4 423.62,346.8 423.73,342.9 423.82,357.0 423.93,342.6 424.02,358.2 424.12,352.7 424.23,355.0 424.32,361.0 424.43,348.2 424.52,354.3 424.62,340.7 424.73,349.8 424.82,354.4 424.93,342.2 425.02,364.1 425.12,359.5 425.23,364.3 425.32,345.8 425.43,346.6 425.52,346.8 425.62,347.4 425.73,359.0 425.82,357.1 425.93,353.4 426.02,347.7 426.12,355.8 426.23,361.5 426.32,350.8 426.43,355.7 426.52,365.9 426.62,373.4 426.73,354.8 426.82,357.3 426.93,352.8 427.02,348.7 427.12,354.2 427.23,361.3 427.32,358.6 427.43,365.7 427.52,361.6 427.62,361.3 427.73,356.6 427.82,355.5 427.93,368.9 428.02,361.9 428.12,354.2 428.23,368.3 428.32,352.1 428.43,352.3 428.52,354.5 428.62,351.8 428.73,349.5 428.82,362.7 428.93,361.5 429.02,368.4 429.12,360.4 429.23,364.5 429.32,354.8 429.43,362.0 429.52,354.8 429.62,357.4 429.73,361.1 429.82,353.0 429.93,355.6 430.02,355.5 430.12,355.8 430.23,366.6 430.32,368.7 430.43,350.3 430.52,355.3 430.62,360.0 430.73,355.8 430.82,354.3 430.93,347.9 431.02,359.3 431.12,359.1 431.23,348.7 431.32,359.5 431.43,360.3 431.52,356.8 431.62,357.0 431.73,353.0 431.82,359.3 431.93,360.7 432.02,357.4 432.12,355.5 432.23,353.4 432.32,356.7 432.43,347.2 432.52,360.8 432.62,362.3 432.73,353.8 432.82,356.5 432.93,347.4 433.02,364.1 433.12,344.6 433.23,360.5 433.32,363.3 433.43,362.7 433.52,363.1 433.62,346.4 433.73,359.1 433.82,356.5 433.93,357.0 434.02,347.5 434.12,346.1 434.23,348.6 434.32,352.6 434.43,357.6 434.52,365.6 434.62,363.8 434.73,363.4 434.82,365.2 434.93,354.4 435.02,363.2 435.12,364.7 435.23,363.8 435.32,371.2 435.43,360.6 435.52,358.8 435.62,351.9 435.73,364.6 435.82,362.1 435.93,353.5 436.02,361.1 436.12,356.5 436.23,361.1 436.32,354.6 436.43,357.6 436.52,366.0 436.62,360.3 436.73,362.0 436.82,347.5 436.93,353.9 437.02,364.1 437.12,359.9 437.23,372.6 437.32,361.6 437.43,354.3 437.52,369.2 437.62,362.1 437.73,366.9 437.82,357.9 437.93,356.7 438.02,364.3 438.12,373.0 438.23,358.8 438.32,356.4 438.43,362.5 438.52,354.4 438.62,354.9 438.73,354.9 438.82,359.4 438.93,355.6 439.02,364.9 439.12,367.8 439.23,367.6 439.32,364.9 439.43,354.0 439.52,373.1 439.62,364.4 439.73,362.8 439.82,361.3 439.93,365.3 440.02,372.7 440.12,356.7 440.23,365.3 440.32,365.2 440.43,355.7 440.52,364.0 440.62,368.6 440.73,357.1 440.82,363.6 440.93,360.8 441.02,367.3 441.12,356.9 441.23,363.2 441.32,358.4 441.43,371.0 441.52,351.3 441.62,355.2 441.73,367.1 441.82,375.6 441.93,365.3 442.02,362.0 442.12,366.6 442.23,378.1 442.32,369.5 442.43,370.0 442.52,361.1 442.62,368.8 442.73,360.6 442.82,362.5 442.93,370.1 443.02,350.5 443.12,358.3 443.23,371.3 443.32,363.7 443.43,367.3 443.52,377.8 443.62,353.8 443.73,366.2 443.82,365.1 443.93,360.5 444.02,366.6 444.12,364.8 444.23,363.0 444.32,356.1 444.43,366.0 444.52,355.1 444.62,362.3 444.73,365.0 444.82,360.4 444.93,358.1 445.02,362.8 445.12,357.9 445.23,367.2 445.32,351.0 445.43,363.1 445.52,365.8 445.62,356.5 445.73,363.5 445.82,370.2 445.93,365.6 446.02,357.6 446.12,374.2 446.23,372.5 446.32,356.2 446.43,358.9 446.52,356.3 446.62,360.0 446.73,370.2 446.82,372.9 446.93,359.2 447.02,353.5 447.12,350.2 447.23,356.4 447.32,365.5 447.43,364.5 447.52,356.2 447.62,364.6 447.73,355.9 447.82,363.0 447.93,358.4 448.02,355.5 448.12,371.0 448.23,360.6 448.32,361.4 448.43,360.0 448.52,352.4 448.62,353.8 448.73,352.3 448.82,361.6 448.93,358.6 449.02,367.2 449.12,346.5 449.23,370.5 449.32,371.8 449.43,361.1 449.52,347.1 449.62,366.6 449.73,362.0 449.82,352.8 449.93,361.8 450.02,355.6 450.12,360.4 450.23,347.3 450.32,352.5 450.43,354.0 450.52,362.9 450.62,364.9 450.73,356.1 450.82,372.0 450.93,374.7 451.02,347.8 451.12,367.3 451.23,372.2 451.32,366.1 451.43,354.8 451.52,369.9 451.62,356.3 451.73,353.1 451.82,371.9 451.93,353.0 452.02,370.8 452.12,356.6 452.23,358.7 452.32,360.6 452.43,368.3 452.52,356.7 452.62,362.8 452.73,361.1 452.82,361.7 452.93,371.0 453.02,367.1 453.12,367.5 453.23,361.4 453.32,371.2 453.43,360.1 453.52,373.8 453.62,374.8 453.73,363.5 453.82,361.0 453.93,350.2 454.02,360.6 454.12,356.3 454.23,349.2 454.32,351.9 454.43,356.2 454.52,361.2 454.62,367.2 454.73,359.9 454.82,369.5 454.93,356.4 455.02,348.3 455.12,362.1 455.23,357.1 455.32,366.8 455.43,369.5 455.52,362.9 455.62,362.8 455.73,357.4 455.82,361.4 455.93,370.6 456.02,360.5 456.12,349.0 456.23,367.7 456.32,361.6 456.43,366.1 456.52,351.3 456.62,375.7 456.73,354.1 456.82,370.0 456.93,361.7 457.02,372.0 457.12,369.6 457.23,369.8 457.32,353.2 457.43,359.5 457.52,375.2 457.62,366.1 457.73,367.2 457.82,362.0 457.93,361.0 458.02,368.4 458.12,367.2 458.23,366.9 458.32,363.1 458.43,369.7 458.52,363.8 458.62,357.5 458.73,374.7 458.82,362.9 458.93,353.4 459.02,360.8 459.12,352.5 459.23,353.7 459.32,360.2 459.43,362.9 459.52,367.5 459.62,355.3 459.73,375.7 459.82,361.0 459.93,358.8 460.02,352.1 460.12,375.2 460.23,352.7 460.32,363.6 460.43,374.7 460.52,368.4 460.62,351.6 460.73,357.6 460.82,360.8 460.93,365.6 461.02,360.2 461.12,361.4 461.23,361.9 461.32,373.9 461.43,369.1 461.52,349.1 461.62,355.0 461.73,370.3 461.82,349.2 461.93,369.6 462.02,352.6 462.12,362.9 462.23,349.1 462.32,364.5 462.43,370.4 462.52,374.4 462.62,349.3 462.73,368.3 462.82,367.3 462.93,355.4 463.02,352.1 463.12,361.2 463.23,358.2 463.32,366.7 463.43,364.2 463.52,359.7 463.62,364.2 463.73,353.6 463.82,353.1 463.93,368.4 464.02,351.1 464.12,364.6 464.23,361.5 464.32,366.3 464.43,364.1 464.52,370.1 464.62,368.0 464.73,374.8 464.82,357.0 464.93,366.7 465.02,359.8 465.12,354.5 465.23,370.2 465.32,369.5 465.43,369.4 465.52,377.2 465.62,365.8 465.73,364.9 465.82,374.4 465.93,369.2 466.02,364.9 466.12,363.9 466.23,365.3 466.32,366.4 466.43,364.2 466.52,362.6 466.62,373.6 466.73,358.8 466.82,363.8 466.93,350.7 467.02,368.1 467.12,350.8 467.23,366.8 467.32,377.1 467.43,370.5 467.52,354.4 467.62,369.4 467.73,373.1 467.82,360.5 467.93,372.6 468.02,369.2 468.12,370.1 468.23,360.0 468.32,355.9 468.43,360.1 468.52,368.1 468.62,374.9 468.73,367.0 468.82,364.2 468.93,365.2 469.02,374.2 469.12,360.6 469.23,375.5 469.32,368.5 469.43,351.9 469.52,362.6 469.62,365.7 469.73,352.1 469.82,362.5 469.93,371.9 470.02,367.5 470.12,365.6 470.23,364.5 470.32,373.8 470.43,366.9 470.52,367.5 470.62,358.3 470.73,359.5 470.82,364.6 470.93,363.1 471.02,356.5 471.12,356.9 471.23,359.2 471.32,365.1 471.43,374.0 471.52,362.3 471.62,367.3 471.73,374.2 471.82,360.1 471.93,365.5 472.02,365.4 472.12,365.3 472.23,366.3 472.32,363.8 472.43,362.7 472.52,373.2 472.62,366.8 472.73,359.6 472.82,367.6 472.93,355.5 473.02,360.1 473.12,362.6 473.23,364.3 473.32,368.3 473.43,368.8 473.52,369.8 473.62,365.7 473.73,365.4 473.82,361.6 473.93,359.9 474.02,365.7 474.12,360.4 474.23,358.0 474.32,363.6 474.43,366.5 474.52,367.6 474.62,356.6 474.73,359.1 474.82,361.3 474.93,358.9 475.02,362.2 475.12,364.4 475.23,361.8 475.32,364.4 475.43,369.4 475.52,353.5 475.62,356.0 475.73,357.4 475.82,370.9 475.93,357.9 476.02,352.4 476.12,355.3 476.23,362.4 476.32,357.3 476.43,373.2 476.52,364.1 476.62,370.3 476.73,355.8 476.82,362.1 476.93,373.6 477.02,365.2 477.12,365.8 477.23,361.6 477.32,364.4 477.43,373.0 477.52,362.0 477.62,361.7 477.73,353.8 477.82,368.5 477.93,370.6 478.02,368.5 478.12,360.0 478.23,366.4 478.32,368.4 478.43,365.6 478.52,366.8 478.62,360.7 478.73,371.5 478.82,365.4 478.93,363.5 479.02,374.7 479.12,365.4 479.23,369.0 479.32,366.5 479.43,368.8 479.52,359.3 479.62,360.8 479.73,361.4 479.82,365.7 479.93,377.1 480.02,358.6 480.12,360.1 480.23,366.2 480.32,370.6 480.43,364.5 480.52,365.6 480.62,352.5 480.73,368.1 480.82,363.2 480.93,354.2 481.02,363.5 481.12,362.6 481.23,353.4 481.32,357.1 481.43,358.7 481.52,351.4 481.62,363.0 481.73,375.4 481.82,371.7 481.93,365.6 482.02,367.8 482.12,358.4 482.23,366.6 482.32,371.5 482.43,361.6 482.52,374.9 482.62,365.4 482.73,354.7 482.82,375.6 482.93,362.1 483.02,361.3 483.12,363.0 483.23,372.3 483.32,349.2 483.43,364.0 483.52,359.8 483.62,355.9 483.73,360.8 483.82,349.0 483.93,354.2 484.02,359.1 484.12,353.9 484.23,367.5 484.32,358.1 484.43,359.1 484.52,351.9 484.62,360.0 484.73,375.1 484.82,358.5 484.93,361.0 485.02,363.8 485.12,368.2 485.23,359.5 485.32,360.8 485.43,358.1 485.52,362.0 485.62,361.7 485.73,350.1 485.82,373.3 485.93,373.9 486.02,360.5 486.12,354.1 486.23,365.1 486.32,358.3 486.43,368.7 486.52,352.0 486.62,350.7 486.73,353.6 486.82,376.7 486.93,366.2 487.02,364.9 487.12,361.4 487.23,360.2 487.32,365.9 487.43,365.6 487.52,351.1 487.62,359.8 487.73,373.2 487.82,362.8 487.93,359.4 488.02,357.7 488.12,365.8 488.23,365.1 488.32,373.5 488.43,361.1 488.52,358.5 488.62,363.1 488.73,369.0 488.82,361.0 488.93,362.0 489.02,357.2 489.12,361.8 489.23,361.7 489.32,363.4 489.43,359.4 489.52,366.5 489.62,364.2 489.73,372.1 489.82,361.2 489.93,364.9 490.02,359.4 490.12,369.2 490.23,366.4 490.32,364.5 490.43,366.0 490.52,363.6 490.62,352.3 490.73,377.1 490.82,355.0 490.93,358.6 491.02,367.8 491.12,364.7 491.23,376.8 491.32,368.1 491.43,364.9 491.52,369.2 491.62,372.4 491.73,355.3 491.82,378.3 491.93,376.5 492.02,373.5 492.12,378.4 492.23,371.4 492.32,364.6 492.43,365.3 492.52,362.6 492.62,369.1 492.73,366.2 492.82,367.3 492.93,363.0 493.02,366.6 493.12,365.7 493.23,367.1 493.32,358.9 493.43,361.7 493.52,367.6 493.62,358.0 493.73,373.3 493.82,359.5 493.93,364.3 494.02,368.1 494.12,359.9 494.23,362.4 494.32,371.5 494.43,362.1 494.52,365.3 494.62,378.1 494.73,374.2 494.82,367.8 494.93,357.5 495.02,365.4 495.12,364.3 495.23,365.7 495.32,361.3 495.43,358.8 495.52,370.9 495.62,370.3 495.73,355.8 495.82,366.2 495.93,369.4 496.02,361.9 496.12,363.2 496.23,370.4 496.32,371.4 496.43,359.7 496.52,368.0 496.62,366.5 496.73,364.3 496.82,373.9 496.93,356.5 497.02,362.5 497.12,360.2 497.23,370.6 497.32,358.1 497.43,366.9 497.52,374.6 497.62,362.7 497.73,367.9 497.82,370.2 497.93,366.4 498.02,373.2 498.12,353.3 498.23,375.7 498.32,357.0 498.43,366.3 498.52,377.2 498.62,371.6 498.73,371.4 498.82,353.6 498.93,362.7 499.02,373.9 499.12,355.8 499.23,358.3 499.32,371.7 499.43,363.8 499.52,358.5 499.62,373.7 499.73,364.0 499.82,361.0 499.93,367.9 500.02,361.2 500.12,374.1 500.23,373.0 500.32,364.2 500.43,362.1 500.52,364.4 500.62,368.4 500.73,365.4 500.82,369.4 500.93,369.6 501.02,368.8 501.12,369.1 501.23,368.5 501.32,364.6 501.43,362.4 501.52,362.3 501.62,368.4 501.73,366.4 501.82,366.9 501.93,370.0 502.02,369.1 502.12,363.9 502.23,370.9 502.32,374.0 502.43,360.9 502.52,362.3 502.62,373.1 502.73,361.7 502.82,356.1 502.93,371.6 503.02,366.2 503.12,371.7 503.23,371.2 503.32,376.2 503.43,358.0 503.52,362.8 503.62,360.5 503.73,376.9 503.82,365.6 503.93,362.7 504.02,366.7 504.12,370.5 504.23,361.1 504.32,367.4 504.43,354.0 504.52,358.0 504.62,367.1 504.73,368.7 504.82,369.2 504.93,361.4 505.02,364.5 505.12,366.6 505.23,368.1 505.32,362.2 505.43,372.5 505.52,358.9 505.62,366.0 505.73,364.6 505.82,379.2 505.93,365.7 506.02,356.7 506.12,364.8 506.23,370.7 506.32,365.1 506.43,379.5 506.52,363.9 506.62,369.2 506.73,374.8 506.82,367.3 507,393.0 507.12,366.6 507.23,360.9 507.32,364.3 507.43,367.2 507.52,370.6 507.62,364.4 507.73,374.4 507.82,376.3 507.93,373.0 508.02,371.9 508.12,366.6 508.23,366.8 508.32,359.0 508.43,365.1 508.52,366.8 508.62,369.3 508.73,363.8 508.82,373.5 508.93,377.8 509.02,367.2 509.12,361.9 509.23,358.5 509.32,370.8 509.43,363.8 509.52,353.8 509.62,369.8 509.73,371.6 509.82,365.8 509.93,370.0 510.02,364.6 510.12,371.0 510.23,376.1 510.32,370.0 510.43,371.3 510.52,365.8 510.62,356.1 510.73,363.6 510.82,367.9 510.93,365.4 511.02,363.0 511.12,370.5 511.23,359.2 511.32,359.7 511.43,369.4 511.52,367.2 511.62,358.6 511.73,375.8 511.82,376.8 511.93,364.3 512.02,363.2 512.12,372.7 512.23,364.5 512.33,360.8 512.42,371.2 512.52,363.7 512.62,368.7 512.73,363.7 512.83,357.3 512.92,368.8 513.02,373.3 513.12,366.9 513.23,362.7 513.33,357.6 513.42,353.6 513.52,362.1 513.62,372.4 513.73,361.8 513.83,356.5 513.92,371.2 514.02,361.0 514.12,369.4 514.23,373.5 514.33,370.4 514.42,363.7 514.52,356.3 514.62,358.5 514.73,367.1 514.83,368.5 514.92,367.4 515.02,361.8 515.12,362.2 515.23,366.1 515.33,363.7 515.42,358.1 515.52,362.4 515.62,373.6 515.73,361.4 515.83,366.4 515.92,359.3 516.02,363.1 516.12,362.3 516.23,352.3 516.33,361.9 516.42,364.9 516.52,373.2 516.62,368.7 516.73,362.3 516.83,364.9 516.92,360.3 517.02,352.7 517.12,357.4 517.23,368.9 517.33,362.9 517.42,363.1 517.52,358.4 517.62,366.2 517.73,366.7 517.83,370.3 517.92,359.6 518.02,365.8 518.12,371.1 518.23,355.5 518.33,355.1 518.42,363.4 518.52,364.5 518.62,368.7 518.73,362.4 518.83,358.8 518.92,350.8 519.02,370.5 519.12,375.6 519.23,361.3 519.33,366.3 519.42,351.6 519.52,365.9 519.62,360.5 519.73,359.6 519.83,366.9 519.92,363.5 520.02,361.2 520.12,363.3 520.23,361.5 520.33,370.0 520.42,373.3 520.52,364.4 520.62,363.6 520.73,374.2 520.83,372.3 520.92,370.5 521.02,366.0 521.12,366.6 521.23,362.4 521.33,359.3 521.42,361.1 521.52,366.2 521.62,362.6 521.73,370.2 521.83,366.1 521.92,369.1 522.02,358.7 522.12,370.0 522.23,376.0 522.33,362.7 522.42,360.6 522.52,368.2 522.62,367.9 522.73,370.0 522.83,372.4 522.92,362.1 523.02,370.2 523.12,360.0 523.23,373.7 523.33,366.1 523.42,366.5 523.52,364.0 523.62,367.7 523.73,362.5 523.83,371.8 523.92,369.5 524.02,368.0 524.12,368.5 524.23,369.1 524.33,364.6 524.42,375.8 524.52,371.5 524.62,360.1 524.73,371.3 524.83,367.7 524.92,364.5 525.02,366.1 525.12,371.9 525.23,362.3 525.33,374.8 525.42,373.4 525.52,361.5 525.62,366.5 525.73,370.2 525.83,361.1 525.92,357.6 526.02,373.8 526.12,370.8 526.23,362.9 526.33,367.2 526.42,361.8 526.52,366.4 526.62,363.1 526.73,357.2 526.83,376.6 526.92,374.5 527.02,365.6 527.12,366.1 527.23,372.2 527.33,370.6 527.42,380.1 527.52,369.4 527.62,372.9 527.73,360.6 527.83,368.7 527.92,369.1 528.02,367.6 528.12,354.6 528.23,358.5 528.33,354.7 528.42,375.5 528.52,367.1 528.62,362.1 528.73,358.6 528.83,361.2 528.92,368.3 529.02,378.6 529.12,362.5 529.23,365.9 529.33,363.2 529.42,381.0 529.52,360.9 529.62,371.0 529.73,377.7 529.83,374.9 529.92,365.3 530.02,369.4 530.12,364.2 530.23,370.1 530.33,370.0 530.42,365.4 530.52,369.1 530.62,374.5 530.73,363.7 530.83,374.1 530.92,370.9 531.02,361.7 531.12,363.2 531.23,369.6 531.33,377.0 531.42,365.3 531.52,365.3 531.62,357.4 531.73,378.2 531.83,372.1 531.92,364.5 532.02,370.5 532.12,361.1 532.23,366.8 532.33,368.9 532.42,367.1 532.52,377.6 532.62,363.4 532.73,368.0 532.83,366.7 532.92,368.6 533.02,360.9 533.12,357.1 533.23,360.0 533.33,364.3 533.42,369.7 533.52,379.5 533.62,376.2 533.73,374.0 533.83,365.7 533.92,357.8 534.02,362.9 534.12,372.5 534.23,364.5 534.33,373.3 534.42,369.8 534.52,365.1 534.62,366.7 534.73,356.2 534.83,353.7 534.92,380.3 535.02,363.3 535.12,367.7 535.23,365.9 535.33,369.8 535.42,367.6 535.52,375.4 535.62,376.5 535.73,363.1 535.83,370.3 535.92,369.3 536.02,366.2 536.12,371.7 536.23,365.2 536.33,375.6 536.42,368.4 536.52,371.4 536.62,360.4 536.73,356.9 536.83,378.8 536.92,372.1 537.02,374.2 537.12,369.1 537.23,354.5 537.33,359.9 537.42,362.2 537.52,380.1 537.62,362.0 537.73,366.0 537.83,372.9 537.92,381.2 538.02,371.7 538.12,357.1 538.23,371.4 538.33,374.0 538.42,369.3 538.52,370.3 538.62,364.5 538.73,365.1 538.83,357.4 538.92,367.4 539.02,376.4 539.12,368.9 539.23,368.8 539.33,372.0 539.42,371.0 539.52,369.9 539.62,368.0 539.73,364.9 539.83,374.6 539.92,362.1 540.02,367.6 540.12,355.6 540.23,357.5 540.33,364.0 540.42,371.6 540.52,366.8 540.62,354.8 540.73,368.5 540.83,370.0 540.92,374.9 541.02,369.8 541.12,371.5 541.23,379.9 541.33,372.0 541.42,364.5 541.52,370.0 541.62,368.6 541.73,367.7 541.83,362.6 541.92,372.5 542.02,377.9 542.12,367.8 542.23,364.3 542.33,373.3 542.42,364.3 542.52,378.1 542.62,371.4 542.73,371.6 542.83,371.2 542.92,370.6 543.02,384.8 543.12,382.4 543.23,364.4 543.33,366.3 543.42,369.4 543.52,365.4 543.62,362.9 543.73,378.3 543.83,375.1 543.92,368.7 544.02,386.2 544.12,371.8 544.23,368.8 544.33,371.3 544.42,368.1 544.52,367.3 544.62,363.1 544.73,367.7 544.83,367.3 544.92,371.3 545.02,373.1 545.12,367.5 545.23,372.9 545.33,368.3 545.42,377.9 545.52,374.8 545.62,379.4 545.73,380.7 545.83,363.1 545.92,380.6 546.02,369.8 546.12,383.3 546.23,375.2 546.33,379.9 546.42,386.1 546.52,372.8 546.62,374.7 546.73,382.4 546.83,381.5 546.92,379.3 547.02,378.9 547.12,382.6 547.23,364.5 547.33,369.4 547.42,374.0 547.52,380.0 547.62,383.0 547.73,376.0 547.83,369.7 547.92,381.3 548.02,379.7 548.12,369.9 548.23,372.1 548.33,374.8 548.42,379.4 548.52,379.9 548.62,376.1 548.73,365.2 548.83,381.9 548.92,368.6 549.02,375.7 549.12,377.7 549.23,378.2 549.33,375.7 549.42,378.8 549.52,372.7 549.62,372.6 549.73,377.2 549.83,371.2 549.92,371.1 550.02,373.4 550.12,369.8 550.23,371.3 550.33,377.5 550.42,372.6 550.52,380.3 550.62,376.2 550.73,375.7 550.83,373.0 550.92,373.6 551.02,367.6 551.12,366.5 551.23,368.6 551.33,374.7 551.42,381.8 551.52,367.9 551.62,384.1 551.73,379.2 551.83,371.2 551.92,376.5 552.02,374.9 552.12,366.2 552.23,377.9 552.33,378.3 552.42,379.6 552.52,375.7 552.62,382.6 552.73,377.6 552.83,371.2 552.92,376.7 553.02,380.9 553.12,376.6 553.23,372.3 553.33,377.7 553.42,388.9 553.52,375.8 553.62,376.6 553.73,370.1 553.83,387.2 553.92,383.3 554.02,374.7 554.12,385.5 554.23,377.2 554.33,380.3 554.42,381.1 554.52,388.2 554.62,372.7 554.73,372.3 554.83,372.5 554.92,389.8 555.02,388.5 555.12,371.2 555.23,377.0 555.33,374.8 555.42,379.1 555.52,376.2 555.62,381.8 555.73,377.8 555.83,376.6 555.92,367.2 556.02,368.0 556.12,381.3 556.23,383.8 556.33,389.3 556.42,370.7 556.52,376.2 556.62,382.5 556.73,379.6 556.83,377.3 556.92,378.3 557.02,383.9 557.12,373.3 557.23,376.9 557.33,386.8 557.42,388.9 557.52,388.2 557.62,371.3 557.73,384.8 557.83,377.3 557.92,375.8 558.02,371.6 558.12,385.2 558.23,370.2 558.33,379.4 558.42,381.6 558.52,376.4 558.62,379.0 558.73,376.8 558.83,373.7 558.92,371.6 559.02,377.1 559.12,387.5 559.23,373.2 559.33,383.2 559.42,386.3 559.52,372.9 559.62,385.1 559.73,377.5 559.83,377.2 559.92,380.3 560.02,380.1 560.12,376.2 560.23,380.4 560.33,376.0 560.42,369.8 560.52,376.8 560.62,379.1 560.73,374.6 560.83,376.2 560.92,371.0 561.02,364.8 561.12,369.2 561.23,372.6 561.33,378.0 561.42,372.3 561.52,383.6 561.62,379.2 561.73,379.0 561.83,366.6 561.92,379.0 562.02,382.4 562.12,380.1 562.23,370.7 562.33,378.5 562.42,375.3 562.52,388.3 562.62,380.3 562.73,387.3 562.83,379.0 562.92,368.5 563.02,377.1 563.12,369.3 563.23,382.7 563.33,385.0 563.42,374.4 563.52,377.0 563.62,378.9 563.73,380.5 563.83,375.5 563.92,371.2 564.02,378.7 564.12,381.0 564.23,376.7 564.33,373.1 564.42,381.3 564.52,384.6 564.62,374.7 564.73,372.4 564.83,377.4 564.92,375.6 565.02,385.7 565.12,377.8 565.23,380.6 565.33,371.5 565.42,376.2 565.52,384.1 565.62,378.3 565.73,379.1 565.83,381.7 565.92,372.6 566.02,384.2 566.12,373.1 566.23,384.3 566.33,375.6 566.42,374.4 566.52,388.3 566.62,376.6 566.73,377.8 566.83,382.6 566.92,382.1 567.02,370.9 567.12,370.4 567.23,377.2 567.33,383.6 567.42,379.3 567.52,371.4 567.62,375.1 567.73,389.0 567.83,379.4 567.92,371.3 568.02,379.7 568.12,378.4 568.23,372.4 568.33,382.4 568.42,385.3 568.52,377.3 568.62,380.2 568.73,383.0 568.83,380.8 568.92,379.4 569.02,373.6 569.12,381.9 569.23,382.5 569.33,383.8 569.42,373.8 569.52,379.1 569.62,377.6 569.73,378.8 569.83,381.6 569.92,364.9 570.02,383.4 570.12,370.1 570.23,372.1 570.33,378.3 570.42,366.2 570.52,365.9 570.62,376.7 570.73,364.1 570.83,382.5 570.92,368.0 571.02,376.2 571.12,356.9 571.30,351.2 571.42,379.2 571.52,367.4 571.62,378.3 571.73,375.2 571.83,375.3 571.92,374.2 572.02,384.7 572.12,375.4 572.23,372.8 572.33,382.9 572.42,381.9 572.52,379.0 572.62,386.1 572.73,385.5 572.83,371.1 572.92,381.0 573.02,373.4 573.12,381.2 573.23,377.1 573.33,380.1 573.42,371.4 573.52,370.7 573.62,379.0 573.73,384.2 573.83,384.1 573.92,381.3 574.02,377.2 574.12,385.2 574.23,375.0 574.33,375.6 574.42,383.2 574.52,380.3 574.62,371.5 574.73,378.9 574.83,379.4 574.92,377.3 575.02,375.5 575.12,383.3 575.23,378.2 575.33,387.7 575.42,372.1 575.52,373.4 575.62,375.8 575.73,381.6 575.83,377.3 575.92,381.8 576.02,368.1 576.12,379.8 576.23,378.4 576.33,372.4 576.42,383.9 576.52,370.1 576.62,385.8 576.73,378.2 576.83,378.2 576.92,369.6 577.02,376.8 577.12,371.7 577.23,378.0 577.33,380.9 577.42,375.8 577.52,378.9 577.62,372.7 577.73,386.2 577.83,369.8 577.92,377.7 578.02,380.5 578.12,377.6 578.23,377.6 578.33,381.8 578.42,380.0 578.52,388.4 578.62,384.8 578.73,383.0 578.83,385.3 578.92,385.4 579.02,377.5 579.12,357.2 579.23,370.0 579.40,294.5 579.52,388.7 579.62,335.1 579.73,394.0 579.83,367.5 579.92,371.8 580.02,368.9 580.12,379.2 580.23,380.6 580.33,385.0 580.42,384.4 580.52,378.9 580.62,392.2 580.73,385.2 580.83,376.5 580.92,388.9 581.02,380.5 581.12,387.3 581.23,374.1 581.33,385.5 581.42,375.8 581.52,378.3 581.62,377.8 581.73,383.5 581.83,375.9 581.92,385.9 582.02,382.4 582.12,375.6 582.23,390.1 582.33,379.7 582.42,380.2 582.52,379.4 582.62,382.3 582.73,382.9 582.83,373.5 582.92,375.4 583.02,384.1 583.12,388.2 583.23,385.7 583.33,375.1 583.42,384.1 583.52,392.1 583.62,381.3 583.73,382.0 583.83,385.1 583.92,382.0 584.02,385.3 584.12,373.4 584.23,382.9 584.33,385.6 584.42,379.6 584.52,377.2 584.62,372.2 584.73,386.9 584.83,371.2 584.92,385.1 585.02,392.5 585.12,380.1 585.23,383.9 585.33,381.7 585.42,371.8 585.52,371.1 585.62,370.2 585.73,385.4 585.83,384.4 585.92,378.4 586.02,381.5 586.12,373.9 586.23,367.9 586.33,371.4 586.42,376.3 586.52,379.8 586.62,385.5 586.73,371.6 586.83,384.2 586.92,370.8 587.02,372.7 587.12,379.6 587.23,348.4 587.33,357.9 587.50,283.0 587.62,340.2 587.73,341.9 587.83,338.1 587.92,380.8 588.02,379.0 588.12,378.5 588.23,386.2 588.33,392.8 588.42,392.6 588.52,382.3 588.62,375.1 588.73,389.8 588.83,389.1 588.92,381.3 589.02,385.0 589.12,386.4 589.23,383.7 589.33,378.2 589.42,375.4 589.52,369.7 589.62,385.6 589.73,373.3 589.83,379.4 589.92,386.9 590.02,374.9 590.12,382.0 590.23,370.8 590.33,387.7 590.42,386.4 590.52,376.7 590.62,375.1 590.73,371.6 590.83,389.9 590.92,367.2 591.02,371.2 591.12,380.6 591.23,383.5 591.33,380.9 591.42,384.2 591.52,378.3 591.62,365.6 591.73,384.6 591.83,378.4 591.92,370.2 592.02,383.0 592.12,375.7 592.23,380.0 592.33,378.0 592.42,388.0 592.52,376.0 592.62,375.3 592.73,380.5 592.83,382.1 592.92,383.7 593.02,379.8 593.12,390.1 593.23,370.4 593.33,388.7 593.42,388.6 593.52,374.4 593.62,390.1 593.73,371.8 593.83,376.3 593.92,366.8 594.02,379.4 594.12,380.2 594.23,375.5 594.33,374.3 594.42,381.9 594.52,384.8 594.62,371.9 594.73,387.2 594.83,384.8 594.92,380.2 595.02,372.2 595.12,383.6 595.23,387.6 595.33,376.9 595.42,387.4 595.52,382.4 595.62,384.1 595.73,362.5 595.90,337.0 596.02,375.8 596.12,378.7 596.23,371.2 596.33,373.3 596.42,381.7 596.52,376.4 596.62,385.7 596.73,392.8 596.83,375.4 596.92,379.3 597.02,382.3 597.12,384.4 597.23,378.9 597.33,375.1 597.42,377.2 597.52,381.0 597.62,378.5 597.73,380.9 597.83,371.1 597.92,374.4 598.02,375.8 598.12,378.2 598.23,393.1 598.33,378.4 598.42,368.3 598.52,379.4 598.62,375.8 598.73,390.6 598.83,376.9 598.92,381.1 599.02,391.5 599.12,382.1 599.23,368.8 599.33,384.5 599.42,377.3 599.52,380.0 599.62,381.8 599.73,376.1 599.83,387.9 599.92,366.2 600.02,381.0 600.12,379.1 600.23,370.4 600.33,380.3 600.42,371.7 600.52,379.5 600.62,385.9 600.73,380.4 600.83,367.5 600.92,382.0 601.02,376.6 601.12,379.1 601.23,385.6 601.33,369.7 601.42,390.1 601.52,376.7 601.62,372.9 601.73,383.6 601.83,378.4 601.92,375.8 602.02,371.6 602.12,379.5 602.23,374.1 602.33,388.0 602.42,384.2 602.52,371.5 602.62,371.7 602.73,381.7 602.83,376.0 602.92,376.3 603.02,382.5 603.12,384.0 603.23,377.1 603.33,380.6 603.42,372.7 603.52,378.8 603.62,369.2 603.73,379.3 603.83,375.8 603.92,389.4 604.02,388.5 604.12,381.1 604.23,384.2 604.33,375.0 604.42,385.8 604.52,378.3 604.62,385.9 604.73,390.0 604.83,383.5 604.92,375.4 605.02,382.2 605.12,373.6 605.23,381.0 605.33,380.1 605.42,373.8 605.52,373.9 605.62,384.6 605.73,381.7 605.83,368.5 605.92,379.1 606.02,388.5 606.12,377.1 606.23,372.6 606.33,387.0 606.42,368.1 606.52,375.2 606.62,376.3 606.73,385.5 606.83,378.4 606.92,376.9 607.02,379.2 607.12,373.1 607.23,372.2 607.33,389.2 607.42,371.5 607.60,405.0 607.73,379.2 607.83,377.1 607.92,386.2 608.02,367.6 608.12,367.6 608.23,371.4 608.33,380.1 608.42,378.4 608.52,384.6 608.62,369.4 608.73,377.6 608.83,378.6 608.92,375.2 609.02,383.2 609.12,389.9 609.23,375.8 609.33,383.5 609.42,382.3 609.52,380.8 609.62,381.2 609.73,374.2 609.83,377.7 609.92,371.8 610.02,376.4 610.12,378.4 610.23,373.7 610.33,370.5 610.42,381.0 610.52,367.2 610.62,379.5 610.73,388.1 610.83,368.8 610.92,389.2 611.02,380.1 611.12,385.4 611.23,376.7 611.33,377.4 611.42,374.5 611.52,384.1 611.62,371.0 611.73,372.4 611.83,379.4 611.92,385.1 612.02,390.7 612.12,375.8 612.23,376.6 612.33,375.1 612.42,390.6 612.52,385.4 612.62,373.7 612.73,383.5 612.83,383.6 612.92,378.8 613.02,383.9 613.12,375.7 613.23,375.9 613.33,378.0 613.42,377.2 613.52,380.9 613.62,380.2 613.73,370.1 613.83,382.9 613.92,375.7 614.02,391.7 614.12,385.5 614.23,386.1 614.33,378.1 614.42,373.3 614.52,379.8 614.62,388.3 614.73,386.0 614.83,381.8 614.92,380.4 615.02,376.9 615.12,392.1 615.23,385.1 615.33,380.3 615.42,379.0 615.52,383.3 615.62,386.8 615.73,383.6 615.83,381.8 615.92,371.9 616.02,390.1 616.12,387.1 616.23,383.3 616.33,382.8 616.42,393.4 616.52,381.9 616.62,379.7 616.73,377.0 616.83,384.3 616.92,378.5 617.02,386.3 617.12,385.3 617.23,386.1 617.33,376.1 617.42,372.2 617.52,380.9 617.62,393.4 617.73,385.0 617.83,382.2 617.92,379.0 618.02,374.2 618.12,381.1 618.23,373.3 618.33,378.4 618.42,382.3 618.52,383.0 618.62,378.4 618.73,380.5 618.83,376.5 618.92,383.7 619.02,379.8 619.12,379.9 619.23,388.3 619.33,379.4 619.42,382.8 619.52,386.0 619.62,383.8 619.73,382.6 619.83,380.4 620,401.0 620.12,384.5 620.23,391.0 620.33,376.2 620.42,385.5 620.52,387.0 620.62,378.6 620.73,378.8 620.83,388.1 620.92,385.9 621.02,377.6 621.12,385.3 621.23,383.6 621.33,382.7 621.42,385.6 621.52,381.5 621.62,372.7 621.73,380.7 621.83,384.2 621.92,386.6 622.02,385.0 622.12,384.9 622.23,383.7 622.33,383.6 622.42,380.0 622.52,383.8 622.62,377.6 622.73,381.1 622.83,372.5 622.92,394.7 623.02,383.7 623.12,380.8 623.23,379.7 623.33,394.5 623.42,382.5 623.52,391.5 623.62,382.8 623.73,388.7 623.83,386.0 623.92,380.3 624.02,384.3 624.12,383.0 624.23,380.2 624.33,393.4 624.42,377.1 624.52,380.7 624.62,375.2 624.73,392.5 624.83,383.5 624.92,384.5 625.02,376.6 625.12,375.9 625.23,380.9 625.33,383.2 625.42,385.3 625.52,374.6 625.62,384.4 625.73,378.3 625.83,379.0 625.92,384.6 626.02,378.9 626.12,378.2 626.23,378.8 626.33,373.7 626.42,380.7 626.52,373.7 626.62,386.4 626.73,393.1 626.83,382.6 626.92,379.8 627.02,393.5 627.12,379.4 627.23,381.5 627.33,392.8 627.42,372.0 627.52,389.7 627.62,387.7 627.73,374.8 627.83,382.0 627.92,389.0 628.02,384.2 628.12,374.8 628.23,383.6 628.33,379.8 628.42,380.4 628.52,378.1 628.62,380.1 628.73,382.2 628.83,383.4 628.92,373.8 629.02,383.3 629.12,378.0 629.23,381.1 629.33,375.7 629.42,377.9 629.52,382.5 629.62,389.9 629.73,386.7 629.83,379.6 629.92,384.8 630.02,381.0 630.12,389.0 630.23,377.4 630.33,383.1 630.42,375.6 630.52,389.2 630.62,379.5 630.73,386.4 630.83,388.6 630.92,383.6 631.02,389.5 631.12,391.7 631.23,386.4 631.33,382.9 631.42,382.8 631.52,395.1 631.62,383.4 631.73,389.1 631.83,376.0 631.92,391.2 632.02,378.5 632.12,386.4 632.23,388.3 632.33,381.4 632.42,381.2 632.52,379.0 632.62,385.2 632.73,383.2 632.83,387.8 632.92,392.5 633.02,394.0 633.12,382.0 633.23,382.3 633.33,383.8 633.42,374.1 633.52,379.9 633.62,387.5 633.73,374.8 633.83,383.5 633.92,378.0 634.02,389.0 634.12,376.6 634.23,383.2 634.33,385.7 634.42,388.1 634.52,391.8 634.62,377.4 634.73,382.1 634.83,387.4 634.92,394.4 635.02,389.5 635.12,385.3 635.23,377.7 635.33,384.3 635.42,381.2 635.52,389.4 635.62,385.1 635.73,383.2 635.83,382.0 635.92,387.9 636.02,385.0 636.12,377.4 636.23,380.9 636.33,385.9 636.42,384.7 636.52,378.7 636.62,385.4 636.73,380.8 636.83,390.9 636.92,387.5 637.02,384.9 637.12,383.6 637.23,385.8 637.33,386.7 637.42,386.6 637.52,390.1 637.62,389.5 637.73,397.8 637.83,384.3 637.92,392.4 638.02,397.5 638.12,380.5 638.23,375.1 638.33,384.6 638.42,383.1 638.52,388.0 638.62,388.9 638.73,390.5 638.83,389.0 638.92,384.8 639.02,374.9 639.12,385.4 639.23,391.6 639.33,375.5 639.42,389.7 639.52,396.9 639.62,382.5 639.73,393.5 639.83,380.4 639.92,393.1 640.02,382.7 640.12,391.4 640.23,381.2 640.33,377.1 640.42,380.8 640.52,378.3 640.62,383.9 640.73,390.6 640.83,390.1 640.92,388.3 641.02,382.7 641.12,395.5 641.23,395.2 641.33,393.0 641.42,376.5 641.52,396.3 641.62,397.9 641.73,388.0 641.83,379.1 641.92,389.2 642.02,392.3 642.12,390.5 642.23,398.0 642.33,383.0 642.42,394.1 642.52,398.5 642.62,384.1 642.73,393.3 642.83,383.2 642.92,396.9 643.02,399.5 643.12,388.9 643.23,386.8 643.33,386.9 643.42,393.4 643.52,398.0 643.62,384.1 643.73,385.9 643.83,386.9 643.92,385.9 644.02,386.1 644.12,384.4 644.23,387.5 644.33,394.5 644.42,380.8 644.52,389.9 644.62,388.7 644.73,392.2 644.83,379.3 644.92,389.1 645.02,386.9 645.12,379.3 645.23,387.3 645.33,386.1 645.42,376.1 645.52,390.8 645.62,381.0 645.73,382.3 645.83,391.2 645.92,392.6 646.02,390.8 646.12,383.4 646.23,391.2 646.33,392.6 646.42,387.2 646.52,376.1 646.62,393.4 646.73,392.5 646.83,384.2 646.92,396.5 647.02,383.7 647.12,391.6 647.23,385.8 647.33,384.8 647.42,387.8 647.52,388.5 647.62,393.5 647.73,385.5 647.83,384.8 647.92,394.8 648.02,389.9 648.12,393.4 648.23,386.0 648.33,391.3 648.42,381.9 648.52,388.5 648.62,387.9 648.73,384.2 648.83,377.8 648.92,393.2 649.02,388.1 649.12,387.0 649.23,381.9 649.33,394.1 649.42,377.9 649.52,386.1 649.62,391.8 649.73,387.1 649.83,391.2 649.92,395.2 650.02,398.4 650.12,392.5 650.23,391.6 650.33,395.4 650.42,387.9 650.52,388.0 650.62,388.8 650.73,384.0 650.83,389.7 650.92,392.3 651.02,394.1 651.12,381.7 651.23,387.2 651.33,379.1 651.42,393.0 651.52,391.7 651.62,390.3 651.73,386.7 651.83,380.5 651.92,387.8 652.02,383.4 652.12,387.6 652.23,394.4 652.33,379.2 652.42,386.9 652.52,386.5 652.62,387.9 652.73,384.0 652.83,388.4 652.92,377.7 653.02,387.4 653.12,379.4 653.23,391.4 653.33,379.2 653.42,388.0 653.52,380.5 653.62,390.3 653.73,385.8 653.83,378.4 653.92,381.3 654.02,386.9 654.12,393.7 654.23,379.4 654.33,383.6 654.42,379.2 654.52,381.5 654.62,378.9 654.73,394.9 654.83,385.7 654.92,377.8 655.02,373.0 655.12,381.7 655.23,388.1 655.33,388.2 655.42,387.0 655.52,390.3 655.62,393.4 655.73,384.0 655.83,388.4 655.92,389.0 656.02,393.1 656.12,384.4 656.23,390.3 656.33,383.5 656.42,391.3 656.52,374.1 656.62,394.2 656.73,377.0 656.83,377.3 656.92,383.6 657.02,389.5 657.12,376.8 657.23,390.3 657.33,387.5 657.42,388.8 657.52,386.2 657.62,387.5 657.73,375.0 657.83,381.6 657.92,381.2 658.02,393.4 658.12,383.3 658.23,384.1 658.33,386.4 658.42,386.9 658.52,385.7 658.62,384.8 658.73,394.3 658.83,384.3 658.92,383.9 659.02,394.8 659.12,385.2 659.23,386.2 659.33,387.6 659.42,385.3 659.52,389.4 659.62,385.5 659.73,389.0 659.83,389.9 660,403.0 660.12,391.2 660.23,378.1 660.33,390.8 660.42,385.3 660.52,392.5 660.62,385.4 660.73,385.8 660.83,390.7 660.92,399.7 661.02,385.9 661.12,395.1 661.23,394.0 661.33,394.6 661.42,383.3 661.52,391.9 661.62,395.1 661.73,383.1 661.83,390.4 661.92,394.6 662.02,388.9 662.12,389.8 662.23,388.7 662.33,390.4 662.42,386.7 662.52,381.5 662.62,377.7 662.73,388.4 662.83,382.6 662.92,395.2 663.02,389.4 663.12,380.5 663.23,392.0 663.33,389.8 663.42,379.6 663.52,379.7 663.62,375.7 663.73,384.7 663.83,385.3 663.92,377.5 664.02,379.6 664.12,377.0 664.23,377.3 664.33,391.4 664.42,386.1 664.52,374.8 664.62,377.1 664.73,395.9 664.83,382.9 664.92,380.2 665.02,386.8 665.12,392.7 665.23,382.7 665.33,385.0 665.42,387.7 665.52,391.7 665.62,383.7 665.73,394.1 665.83,381.6 665.92,391.7 666.02,386.0 666.12,383.8 666.23,387.2 666.33,389.0 666.42,377.5 666.52,383.9 666.62,377.8 666.73,386.9 666.83,380.7 666.92,375.3 667.02,381.5 667.12,388.1 667.23,386.8 667.33,388.8 667.42,387.9 667.52,377.1 667.62,397.7 667.73,390.0 667.83,377.3 667.92,382.5 668.02,390.3 668.12,392.8 668.23,389.9 668.33,398.2 668.42,394.5 668.52,389.0 668.62,383.9 668.73,388.8 668.83,389.6 668.92,389.5 669.02,398.3 669.12,395.0 669.23,380.1 669.33,384.8 669.42,389.4 669.52,391.6 669.62,375.3 669.73,382.4 669.83,380.9 669.92,386.4 670.02,386.7 670.12,389.5 670.23,388.8 670.33,398.6 670.42,386.1 670.52,382.6 670.62,386.4 670.73,389.8 670.83,382.5 670.92,389.4 671.02,376.2 671.12,387.9 671.23,377.7 671.33,390.0 671.42,378.4 671.52,391.8 671.62,376.8 671.73,383.5 671.83,385.6 671.92,381.7 672.02,387.8 672.12,390.5 672.23,394.3 672.33,396.0 672.42,388.5 672.52,384.1 672.62,387.9 672.73,389.1 672.83,394.6 672.92,391.9 673.02,382.0 673.12,396.9 673.23,385.4 673.33,389.4 673.42,400.0 673.52,388.3 673.62,385.4 673.73,393.2 673.83,383.9 673.92,389.8 674.02,391.7 674.12,384.2 674.23,387.1 674.33,390.7 674.42,386.5 674.52,386.6 674.62,386.5 674.73,393.6 674.83,387.4 674.92,386.2 675.02,387.5 675.12,394.2 675.23,390.7 675.33,395.8 675.42,396.1 675.52,392.7 675.62,392.3 675.73,374.6 675.83,385.2 675.92,374.4 676.02,389.7 676.12,385.4 676.23,383.6 676.33,391.3 676.42,384.0 676.52,382.0 676.62,392.4 676.73,382.3 676.83,382.5 676.92,386.3 677.02,386.3 677.12,397.0 677.23,392.0 677.33,394.0 677.42,391.3 677.52,384.8 677.62,384.3 677.73,382.3 677.83,380.8 677.92,383.7 678.02,387.4 678.12,388.8 678.23,390.3 678.33,392.1 678.42,394.0 678.52,390.7 678.62,385.0 678.73,392.5 678.83,390.2 678.92,386.4 679.02,400.6 679.12,400.1 679.23,385.6 679.33,389.0 679.42,392.0 679.52,388.9 679.62,390.2 679.73,383.4 679.83,397.6 679.92,390.4 680.02,391.3 680.12,396.1 680.23,384.7 680.33,381.0 680.42,394.0 680.52,383.4 680.62,384.0 680.73,395.3 680.83,383.3 680.92,383.2 681.02,387.7 681.12,391.4 681.23,385.3 681.33,387.3 681.42,386.9 681.52,392.6 681.62,387.8 681.73,392.4 681.83,396.4 681.92,397.6 682.02,386.4 682.12,385.5 682.23,383.2 682.33,389.3 682.42,398.9 682.52,382.7 682.62,395.4 682.73,382.8 682.83,396.2 682.92,385.0 683.02,386.6 683.12,397.7 683.23,386.4 683.33,395.6 683.42,389.6 683.52,390.3 683.62,397.0 683.73,388.6 683.83,388.9 683.92,388.3 684.02,394.9 684.12,380.7 684.23,399.7 684.33,383.8 684.42,387.0 684.52,383.0 684.62,395.4 684.73,385.0 684.83,382.7 684.92,380.2 685.02,388.4 685.12,390.4 685.23,392.0 685.33,383.3 685.42,382.4 685.52,394.9 685.62,389.0 685.73,386.0 685.83,387.5 685.92,389.9 686.02,388.6 686.12,393.1 686.23,393.8 686.33,376.9 686.42,393.7 686.52,384.4 686.62,385.0 686.73,387.4 686.83,386.5 686.92,389.6 687.02,390.3 687.12,381.6 687.23,388.2 687.33,388.0 687.42,400.5 687.52,379.2 687.62,388.0 687.73,395.4 687.83,385.7 688,405.0 688.12,388.5 688.23,395.6 688.33,380.6 688.42,395.8 688.52,378.1 688.62,392.8 688.73,392.6 688.83,401.3 688.92,388.4 689.02,386.1 689.12,386.2 689.23,382.5 689.33,400.6 689.42,395.2 689.52,392.0 689.62,384.7 689.73,387.1 689.83,387.9 689.92,397.1 690.02,394.9 690.12,389.8 690.23,397.9 690.33,398.2 690.42,386.4 690.52,392.5 690.62,396.2 690.73,387.4 690.83,390.2 690.92,402.6 691.02,390.1 691.12,392.3 691.23,386.6 691.33,389.8 691.42,386.8 691.52,398.1 691.62,390.9 691.73,385.8 691.83,381.3 691.92,389.0 692.02,393.4 692.12,399.6 692.23,392.0 692.33,382.4 692.42,388.1 692.52,390.2 692.62,385.1 692.73,385.1 692.83,388.0 692.92,391.3 693.02,384.5 693.12,384.4 693.23,387.3 693.33,390.0 693.42,388.3 693.52,376.7 693.62,390.6 693.73,383.6 693.83,389.4 693.92,387.1 694.02,391.4 694.12,383.3 694.23,389.8 694.33,380.6 694.42,385.9 694.52,390.7 694.62,391.7 694.73,395.6 694.83,391.4 694.92,392.7 695.02,394.0 695.12,389.2 695.23,391.0 695.33,381.4 695.42,387.1 695.52,399.3 695.62,382.4 695.73,391.2 695.83,400.2 695.92,378.3 696.02,387.4 696.12,395.5 696.23,390.0 696.33,384.8 696.42,384.4 696.52,393.4 696.62,388.6 696.73,391.7 696.83,395.7 696.92,394.8 697.02,392.1 697.12,379.4 697.23,383.7 697.33,385.9 697.42,388.8 697.52,390.1 697.62,390.2 697.73,394.1 697.83,401.2 697.92,390.6 698.02,393.8 698.12,387.7 698.23,389.5 698.33,384.2 698.42,396.3 698.52,382.2 698.62,394.0 698.73,381.0 698.83,382.1 698.92,386.9 699.02,396.3 699.12,392.3 699.23,392.8 699.33,381.2 699.42,391.8 699.52,389.0 699.62,388.4 699.73,385.1 699.83,383.2 700,404.0 700.12,394.8 700.23,395.1 700.33,378.2 700.42,387.9 700.52,379.1 700.62,386.6 700.73,388.0 700.83,386.4 700.92,393.3 701.02,388.5 701.12,383.9 701.23,388.5 701.33,395.0 701.42,388.6 701.52,391.2 701.62,390.5 701.73,402.4 701.83,380.7 701.92,392.9 702.02,385.7 702.12,399.8 702.23,391.0 702.33,399.5 702.42,392.6 702.52,393.2 702.62,398.9 702.73,391.7 702.83,390.1 702.92,399.0 703.02,386.2 703.12,391.6 703.23,387.3 703.33,386.2 703.42,391.6 703.52,394.9 703.62,385.1 703.73,400.0 703.83,385.4 703.92,390.3 704.02,389.8 704.12,396.1 704.23,397.9 704.33,383.0 704.42,389.1 704.52,395.6 704.62,387.3 704.73,386.3 704.83,391.8 704.92,385.1 705.02,393.2 705.12,385.9 705.23,385.8 705.33,387.5 705.42,382.5 705.52,382.9 705.62,388.3 705.73,397.3 705.83,399.8 705.92,388.2 706.02,393.7 706.12,383.3 706.23,396.3 706.33,398.3 706.42,390.2 706.52,389.5 706.62,385.5 706.73,390.2 706.83,391.2 706.92,388.5 707.02,379.1 707.12,383.8 707.23,383.8 707.33,383.6 707.42,382.4 707.52,387.2 707.62,389.1 707.73,386.5 707.83,390.3 707.92,391.7 708.02,396.4 708.12,388.5 708.23,390.8 708.33,389.8 708.42,386.8 708.52,392.0 708.62,383.8 708.73,393.2 708.83,386.0 708.92,378.8 709.02,393.7 709.12,392.2 709.23,390.9 709.33,400.7 709.42,392.4 709.52,389.1 709.62,398.6 709.73,381.3 709.83,381.7 709.92,397.1 710.02,389.4 710.12,384.7 710.23,386.9 710.33,388.5 710.42,385.1 710.52,392.5 710.62,390.9 710.73,389.2 710.83,385.0 710.92,393.7 711.02,391.1 711.12,392.6 711.23,402.3 711.33,392.8 711.42,393.3 711.52,395.8 711.62,388.4 711.73,384.1 711.83,390.9 711.92,391.5 712.02,387.5 712.12,398.2 712.23,388.4 712.33,388.0 712.42,394.6 712.52,390.9 712.62,396.0 712.73,394.9 712.83,383.6 712.92,393.8 713.02,398.7 713.12,392.3 713.23,393.8 713.33,394.9 713.42,390.4 713.52,380.0 713.62,380.0 713.73,395.5 713.83,396.5 713.92,391.3 714.02,387.6 714.12,394.1 714.23,379.6 714.33,388.5 714.42,395.8 714.52,391.4 714.62,391.1 714.73,385.5 714.83,397.2 714.92,387.0 715.02,385.5 715.12,391.5 715.23,390.7 715.33,385.2 715.42,389.8 715.52,401.9 715.62,394.9 715.73,389.1 715.83,396.0 715.92,390.2 716.02,387.8 716.12,385.8 716.23,388.6 716.33,379.5 716.42,393.4 716.52,385.3 716.62,383.5 716.73,384.9 716.83,388.0 716.92,386.3 717.02,392.9 717.12,385.4 717.23,389.9 717.33,395.3 717.42,381.4 717.52,395.0 717.62,394.1 717.73,398.5 717.83,382.9 717.92,388.9 718.02,395.1 718.12,390.8 718.23,386.3 718.33,396.4 718.42,388.5 718.52,402.0 718.62,391.4 718.73,389.9 718.83,385.1 718.92,392.3 719.02,379.7 719.12,393.9 719.23,379.8 719.33,392.3 719.42,389.4 719.52,392.5 719.62,387.5 719.73,388.2 719.83,395.3 719.92,392.4 720.02,390.3 720.12,402.9 720.23,389.4 720.33,395.9 720.42,390.8 720.52,394.8 720.62,389.0 720.73,387.4 720.83,383.3 720.92,380.0 721.02,394.0 721.12,389.7 721.23,392.9 721.33,396.0 721.42,398.2 721.52,395.7 721.62,387.9 721.73,393.1 721.83,389.4 721.92,390.8 722.02,395.3 722.12,383.0 722.23,392.1 722.33,383.8 722.42,392.7 722.52,390.1 722.62,384.2 722.73,394.4 722.83,393.2 722.92,404.5 723.02,389.3 723.12,396.9 723.23,392.5 723.33,392.8 723.42,396.6 723.52,383.1 723.62,394.7 723.73,388.4 723.83,392.1 723.92,397.5 724.02,393.4 724.12,393.5 724.23,384.2 724.33,405.1 724.42,404.9 724.52,386.6 724.62,396.1 724.73,391.0 724.83,390.9 724.92,384.8 725.02,400.4 725.12,392.8 725.23,398.6 725.33,399.6 725.42,384.3 725.52,390.6 725.62,392.6 725.73,388.1 725.83,386.1 725.92,393.3 726.02,392.1 726.12,394.2 726.23,397.0 726.33,391.9 726.42,390.1 726.52,385.7 726.62,401.2 726.73,382.9 726.83,392.7 726.92,398.3 727.02,393.7 727.12,401.3 727.23,397.3 727.33,392.5 727.42,387.9 727.52,395.3 727.62,383.9 727.73,393.6 727.83,392.3 728,406.0 728.12,384.7 728.23,388.7 728.33,381.5 728.42,394.8 728.52,399.3 728.62,393.7 728.73,384.5 728.83,400.4 728.92,399.7 729.02,392.4 729.12,389.5 729.23,395.3 729.33,390.4 729.42,402.5 729.52,398.3 729.62,395.3 729.73,388.4 729.83,399.3 729.92,390.9 730.02,390.1 730.12,392.7 730.23,404.8 730.33,385.2 730.42,392.9 730.52,384.8 730.62,389.6 730.73,402.7 730.83,381.2 730.92,392.0 731.02,399.7 731.12,396.0 731.23,384.1 731.33,382.1 731.42,397.3 731.52,401.9 731.62,391.8 731.73,390.7 731.83,380.1 731.92,396.8 732.02,387.4 732.12,397.0 732.23,379.7 732.33,399.9 732.42,388.6 732.52,392.9 732.62,384.1 732.73,391.1 732.83,391.2 732.92,393.9 733.02,386.9 733.12,393.1 733.23,391.2 733.33,381.6 733.42,399.8 733.52,396.0 733.62,397.6 733.73,393.0 733.83,393.3 733.92,393.8 734.02,399.4 734.12,385.0 734.23,385.3 734.33,393.5 734.42,383.9 734.52,395.8 734.62,392.1 734.73,401.9 734.83,383.8 734.92,395.6 735.02,384.6 735.12,396.0 735.23,396.3 735.33,392.4 735.42,397.3 735.52,388.9 735.62,387.6 735.73,403.4 735.83,391.8 735.92,392.9 736.02,389.1 736.12,386.9 736.23,386.3 736.33,380.6 736.42,387.4 736.52,395.2 736.62,389.8 736.73,389.4 736.83,399.0 736.92,390.4 737.02,384.0 737.12,388.7 737.23,390.5 737.33,395.0 737.42,397.2 737.52,397.4 737.62,388.7 737.73,395.2 737.83,398.5 737.92,387.5 738.02,402.0 738.12,383.7 738.23,380.9 738.33,380.9 738.42,393.1 738.52,392.5 738.62,401.5 738.73,394.1 738.83,385.7 738.92,388.6 739.02,390.2 739.12,389.7 739.23,387.0 739.33,388.1 739.42,385.2 739.52,387.7 739.62,397.5 739.73,395.3 739.83,388.1 739.92,388.6 740.02,391.2 740.12,384.4 740.23,392.6 740.33,399.2 740.42,383.9 740.52,389.0 740.62,380.6 740.73,397.8 740.83,385.3 740.92,394.0 741.02,396.3 741.12,380.7 741.23,390.9 741.33,386.4 741.42,392.0 741.52,394.9 741.62,391.4 741.73,400.5 741.83,391.8 742,407.0 742.12,395.5 742.23,395.1 742.33,380.9 742.42,390.4 742.52,397.4 742.62,395.7 742.73,387.6 742.83,389.4 742.92,399.3 743.02,387.0 743.12,382.3 743.23,391.0 743.33,390.9 743.42,391.5 743.52,401.0 743.62,389.7 743.73,395.5 743.83,396.6 743.92,381.3 744.02,401.1 744.12,398.1 744.23,397.1 744.33,398.1 744.42,383.4 744.52,386.3 744.62,399.7 744.73,394.2 744.83,395.6 744.92,381.1 745.02,382.7 745.12,396.9 745.23,392.8 745.33,394.5 745.42,391.8 745.52,390.0 745.62,387.5 745.73,396.0 745.83,392.0 745.92,389.6 746.02,393.1 746.12,393.4 746.23,395.7 746.33,395.1 746.42,391.1 746.52,393.9 746.62,389.2 746.73,393.9 746.83,395.8 746.92,390.3 747.02,386.3 747.12,383.5 747.23,398.8 747.33,387.1 747.42,399.8 747.52,393.2 747.62,392.2 747.73,396.5 747.83,385.2 747.92,392.4 748.02,403.4 748.12,392.3 748.23,400.6 748.33,389.7 748.42,405.9 748.52,399.4 748.62,387.4 748.73,392.1 748.83,399.3 748.92,393.7 749.02,396.8 749.12,389.6 749.23,395.9 749.33,393.3 749.42,389.4 749.52,390.4 749.62,395.2 749.73,388.8 749.83,401.6 749.92,395.8 750.02,400.8 750.12,389.2 750.23,391.2 750.33,391.1 750.42,400.4 750.52,401.2 750.62,396.1 750.73,393.7 750.83,391.3 750.92,402.6 751.02,385.3 751.12,402.8 751.23,398.3 751.33,395.8 751.42,395.9 751.52,387.0 751.62,387.0 751.73,390.0 751.83,398.4 751.92,390.5 752.02,387.5 752.12,391.4 752.23,393.4 752.33,400.4 752.42,391.9 752.52,405.3 752.62,390.7 752.73,387.1 752.83,399.3 752.92,401.3 753.02,398.0 753.12,392.2 753.23,397.4 753.33,396.1 753.42,401.0 753.52,395.8 753.62,399.1 753.73,397.5 753.83,403.1 753.92,391.6 754.02,398.6 754.12,387.1 754.23,391.0 754.33,393.8 754.42,394.8 754.52,398.3 754.62,395.0 754.73,395.0 754.83,400.5 754.92,385.6 755.02,392.0 755.12,394.7 755.23,395.6 755.33,396.8 755.42,402.1 755.52,404.1 755.62,405.6 755.73,392.1 755.83,388.0 755.92,397.1 756.02,395.3 756.12,383.4 756.23,396.4 756.33,400.1 756.42,391.2 756.52,391.1 756.62,393.1 756.73,398.5 756.83,403.6 756.92,391.1 757.02,384.0 757.12,393.3 757.23,394.1 757.33,402.9 757.42,385.4 757.52,385.1 757.62,387.7 757.73,388.8 757.83,399.2 757.92,387.1"/>
<g font-size="18.3">
<text transform="translate(86.0,513.9) scale(1,1.09)" text-anchor="middle">0</text>
<text transform="translate(153.2,513.9) scale(1,1.09)" text-anchor="middle">2000</text>
<text transform="translate(220.5,513.9) scale(1,1.09)" text-anchor="middle">4000</text>
<text transform="translate(287.7,513.9) scale(1,1.09)" text-anchor="middle">6000</text>
<text transform="translate(355.0,513.9) scale(1,1.09)" text-anchor="middle">8000</text>
<text transform="translate(422.2,513.9) scale(1,1.09)" text-anchor="middle">10000</text>
<text transform="translate(489.4,513.9) scale(1,1.09)" text-anchor="middle">12000</text>
<text transform="translate(556.7,513.9) scale(1,1.09)" text-anchor="middle">14000</text>
<text transform="translate(623.9,513.9) scale(1,1.09)" text-anchor="middle">16000</text>
<text transform="translate(691.2,513.9) scale(1,1.09)" text-anchor="middle">18000</text>
<text transform="translate(758.4,513.9) scale(1,1.09)" text-anchor="middle">20000</text>
<text transform="translate(70.5,17.8) scale(1.03,1.06)" text-anchor="end">0</text>
<text transform="translate(70.5,96.1) scale(1.03,1.06)" text-anchor="end">-20</text>
<text transform="translate(70.5,174.5) scale(1.03,1.06)" text-anchor="end">-40</text>
<text transform="translate(70.5,252.8) scale(1.03,1.06)" text-anchor="end">-60</text>
<text transform="translate(70.5,331.1) scale(1.03,1.06)" text-anchor="end">-80</text>
<text transform="translate(70.5,409.5) scale(1.03,1.06)" text-anchor="end">-100</text>
<text transform="translate(70.5,487.8) scale(1.03,1.06)" text-anchor="end">-120</text>
</g>
<g fill="#fff">
<rect x="397.20" y="511.4" width="4.16" height="2.9"/>
<rect x="402.96" y="511.4" width="3.40" height="2.9"/>
<rect x="464.44" y="511.4" width="4.16" height="2.9"/>
<rect x="470.20" y="511.4" width="3.40" height="2.9"/>
<rect x="531.68" y="511.4" width="4.16" height="2.9"/>
<rect x="537.44" y="511.4" width="3.40" height="2.9"/>
<rect x="598.92" y="511.4" width="4.16" height="2.9"/>
<rect x="604.68" y="511.4" width="3.40" height="2.9"/>
<rect x="666.16" y="511.4" width="4.16" height="2.9"/>
<rect x="671.92" y="511.4" width="3.40" height="2.9"/>
<rect x="39.70" y="485.7" width="4.12" height="2.5"/>
<rect x="45.52" y="485.7" width="3.86" height="2.5"/>
</g>
<text transform="translate(423,549) scale(0.985,1.07)" font-size="22.3" text-anchor="middle">Frequency (Hertz)</text>
<text transform="translate(19.3,246) rotate(-90) scale(1,1.045)" x="0" y="0" font-size="22" text-anchor="middle">Relative Intensity (Decibels)</text>
<rect x="492.7" y="21" width="246.5" height="58.7" fill="#fff" stroke="#000" stroke-width="1.6"/>
<line x1="499.8" y1="39.2" x2="543.2" y2="39.2" stroke="#982828" stroke-width="1.7"/>
<line x1="499.8" y1="61.6" x2="543.2" y2="61.6" stroke="#2424ff" stroke-width="1.7"/>
<g font-size="18">
<text x="553.7" y="45.1" textLength="169.6" lengthAdjust="spacingAndGlyphs">Pre-sound exposure</text>
<text x="553.7" y="67.7" textLength="178.2" lengthAdjust="spacingAndGlyphs">Post-sound exposure</text>
</g>
</svg>
</body></html>
